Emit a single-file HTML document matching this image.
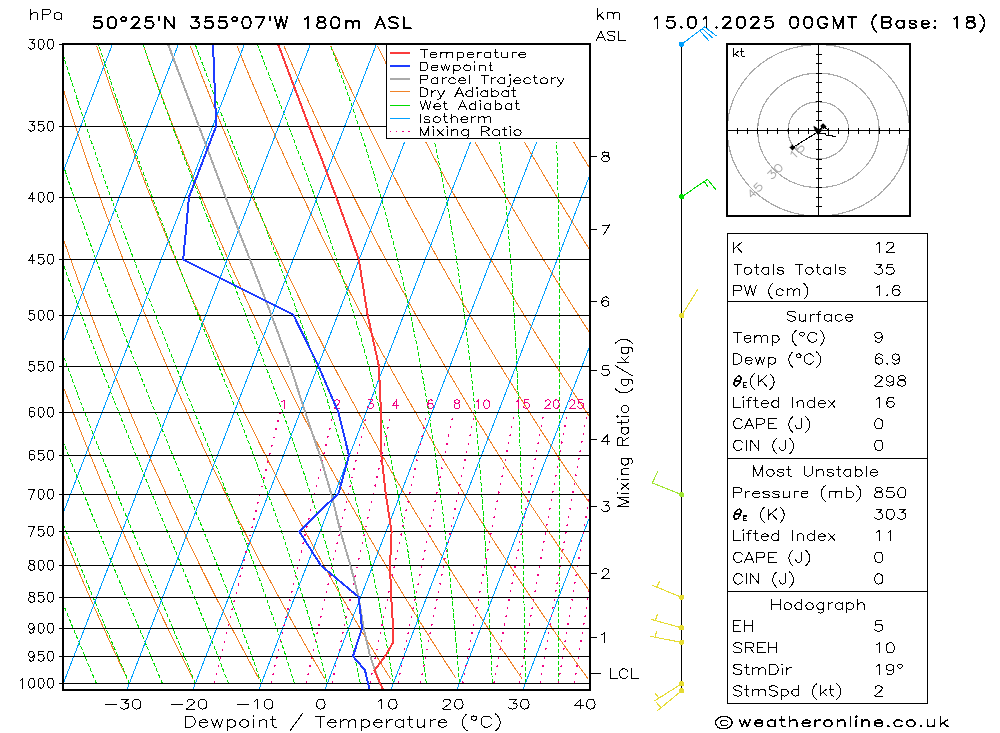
<!DOCTYPE html>
<html><head><meta charset="utf-8"><title>Skew-T</title><style>html,body{margin:0;padding:0;background:#fff;font-family:"Liberation Sans",sans-serif}svg{display:block}</style></head><body>
<svg width="1000" height="733" viewBox="0 0 1000 733" fill="none" stroke-linecap="round" stroke-linejoin="round" shape-rendering="crispEdges">
<rect width="1000" height="733" fill="#fff"/>
<defs><clipPath id="cp"><rect x="64.0" y="44.5" width="525.0" height="645.0"/></clipPath></defs>
<g clip-path="url(#cp)" stroke-linecap="butt">
<path d="M127.1 678.6L124.5 673.2L121.9 667.8L119.4 662.3L116.8 656.7L114.2 651.1L111.5 645.4L108.9 639.7L106.3 633.9L103.6 628.0L100.9 622.1L98.3 616.1L95.5 610.1L92.8 603.9L90.1 597.7L87.4 591.5L84.6 585.1L81.8 578.7L79.0 572.2L76.2 565.6L73.4 558.9L70.6 552.1L67.7 545.3L64.8 538.4L61.9 531.3L59.0 524.2L56.1 517.0L53.2 509.7L50.2 502.3L47.2 494.8L44.2 487.1L41.2 479.4L38.2 471.5L35.1 463.6L32.1 455.5L29.0 447.3L25.8 438.9L22.7 430.4L19.6 421.8L16.4 413.0L13.2 404.1L10.0 395.1L6.7 385.8L3.5 376.5L0.2 366.9L-3.1 357.2L-6.5 347.3L-9.8 337.2L-13.2 326.9L-16.6 316.4L-20.1 305.7L-23.5 294.8L-27.0 283.6L-30.5 272.2L-34.1 260.6L-37.6 248.7L-41.2 236.5L-44.8 224.0L-48.5 211.3L-52.2 198.2L-55.9 184.8L-59.6 171.0L-63.4 156.9L-67.2 142.4L-71.0 127.5L-74.9 112.1L-78.8 96.3L-82.7 80.0L-86.7 63.2L-90.6 45.9M192.9 678.6L190.2 673.2L187.4 667.8L184.6 662.3L181.8 656.7L179.0 651.1L176.2 645.4L173.4 639.7L170.5 633.9L167.7 628.0L164.8 622.1L161.9 616.1L159.0 610.1L156.1 603.9L153.1 597.7L150.2 591.5L147.2 585.1L144.2 578.7L141.2 572.2L138.2 565.6L135.1 558.9L132.1 552.1L129.0 545.3L125.9 538.4L122.7 531.3L119.6 524.2L116.4 517.0L113.3 509.7L110.1 502.3L106.9 494.8L103.6 487.1L100.3 479.4L97.1 471.5L93.8 463.6L90.4 455.5L87.1 447.3L83.7 438.9L80.3 430.4L76.9 421.8L73.4 413.0L70.0 404.1L66.5 395.1L62.9 385.8L59.4 376.5L55.8 366.9L52.2 357.2L48.6 347.3L44.9 337.2L41.2 326.9L37.5 316.4L33.8 305.7L30.0 294.8L26.2 283.6L22.4 272.2L18.5 260.6L14.6 248.7L10.7 236.5L6.7 224.0L2.7 211.3L-1.4 198.2L-5.4 184.8L-9.5 171.0L-13.7 156.9L-17.9 142.4L-22.1 127.5L-26.4 112.1L-30.7 96.3L-35.0 80.0L-39.4 63.2L-43.8 45.9M258.7 678.6L255.8 673.2L252.8 667.8L249.9 662.3L246.9 656.7L243.9 651.1L240.9 645.4L237.8 639.7L234.8 633.9L231.7 628.0L228.7 622.1L225.6 616.1L222.4 610.1L219.3 603.9L216.1 597.7L213.0 591.5L209.8 585.1L206.6 578.7L203.3 572.2L200.1 565.6L196.8 558.9L193.5 552.1L190.2 545.3L186.9 538.4L183.6 531.3L180.2 524.2L176.8 517.0L173.4 509.7L169.9 502.3L166.5 494.8L163.0 487.1L159.5 479.4L155.9 471.5L152.4 463.6L148.8 455.5L145.2 447.3L141.6 438.9L137.9 430.4L134.2 421.8L130.5 413.0L126.8 404.1L123.0 395.1L119.2 385.8L115.3 376.5L111.5 366.9L107.6 357.2L103.7 347.3L99.7 337.2L95.7 326.9L91.7 316.4L87.6 305.7L83.5 294.8L79.4 283.6L75.3 272.2L71.1 260.6L66.8 248.7L62.5 236.5L58.2 224.0L53.9 211.3L49.5 198.2L45.0 184.8L40.5 171.0L36.0 156.9L31.4 142.4L26.8 127.5L22.1 112.1L17.4 96.3L12.7 80.0L7.9 63.2L3.0 45.9M324.6 678.6L321.4 673.2L318.3 667.8L315.1 662.3L311.9 656.7L308.8 651.1L305.5 645.4L302.3 639.7L299.1 633.9L295.8 628.0L292.5 622.1L289.2 616.1L285.9 610.1L282.5 603.9L279.2 597.7L275.8 591.5L272.4 585.1L269.0 578.7L265.5 572.2L262.0 565.6L258.6 558.9L255.0 552.1L251.5 545.3L247.9 538.4L244.4 531.3L240.8 524.2L237.1 517.0L233.5 509.7L229.8 502.3L226.1 494.8L222.4 487.1L218.6 479.4L214.8 471.5L211.0 463.6L207.2 455.5L203.3 447.3L199.4 438.9L195.5 430.4L191.5 421.8L187.6 413.0L183.5 404.1L179.5 395.1L175.4 385.8L171.3 376.5L167.1 366.9L163.0 357.2L158.7 347.3L154.5 337.2L150.2 326.9L145.9 316.4L141.5 305.7L137.1 294.8L132.6 283.6L128.1 272.2L123.6 260.6L119.0 248.7L114.4 236.5L109.8 224.0L105.0 211.3L100.3 198.2L95.5 184.8L90.6 171.0L85.7 156.9L80.7 142.4L75.7 127.5L70.7 112.1L65.5 96.3L60.4 80.0L55.1 63.2L49.8 45.9M390.4 678.6L387.1 673.2L383.7 667.8L380.4 662.3L377.0 656.7L373.6 651.1L370.2 645.4L366.8 639.7L363.3 633.9L359.9 628.0L356.4 622.1L352.9 616.1L349.3 610.1L345.8 603.9L342.2 597.7L338.6 591.5L335.0 585.1L331.3 578.7L327.7 572.2L324.0 565.6L320.3 558.9L316.5 552.1L312.8 545.3L309.0 538.4L305.2 531.3L301.3 524.2L297.5 517.0L293.6 509.7L289.7 502.3L285.7 494.8L281.7 487.1L277.7 479.4L273.7 471.5L269.6 463.6L265.6 455.5L261.4 447.3L257.3 438.9L253.1 430.4L248.9 421.8L244.6 413.0L240.3 404.1L236.0 395.1L231.6 385.8L227.2 376.5L222.8 366.9L218.3 357.2L213.8 347.3L209.3 337.2L204.7 326.9L200.0 316.4L195.3 305.7L190.6 294.8L185.8 283.6L181.0 272.2L176.2 260.6L171.3 248.7L166.3 236.5L161.3 224.0L156.2 211.3L151.1 198.2L145.9 184.8L140.7 171.0L135.4 156.9L130.1 142.4L124.7 127.5L119.2 112.1L113.6 96.3L108.0 80.0L102.4 63.2L96.6 45.9M456.2 678.6L452.7 673.2L449.2 667.8L445.6 662.3L442.1 656.7L438.5 651.1L434.9 645.4L431.2 639.7L427.6 633.9L423.9 628.0L420.2 622.1L416.5 616.1L412.8 610.1L409.0 603.9L405.2 597.7L401.4 591.5L397.6 585.1L393.7 578.7L389.8 572.2L385.9 565.6L382.0 558.9L378.0 552.1L374.0 545.3L370.0 538.4L366.0 531.3L361.9 524.2L357.8 517.0L353.7 509.7L349.5 502.3L345.3 494.8L341.1 487.1L336.9 479.4L332.6 471.5L328.3 463.6L323.9 455.5L319.5 447.3L315.1 438.9L310.7 430.4L306.2 421.8L301.7 413.0L297.1 404.1L292.5 395.1L287.9 385.8L283.2 376.5L278.5 366.9L273.7 357.2L268.9 347.3L264.0 337.2L259.1 326.9L254.2 316.4L249.2 305.7L244.2 294.8L239.1 283.6L233.9 272.2L228.7 260.6L223.5 248.7L218.2 236.5L212.8 224.0L207.4 211.3L201.9 198.2L196.4 184.8L190.8 171.0L185.1 156.9L179.4 142.4L173.6 127.5L167.7 112.1L161.8 96.3L155.7 80.0L149.6 63.2L143.5 45.9M522.0 678.6L518.3 673.2L514.6 667.8L510.9 662.3L507.1 656.7L503.3 651.1L499.5 645.4L495.7 639.7L491.9 633.9L488.0 628.0L484.1 622.1L480.2 616.1L476.2 610.1L472.2 603.9L468.2 597.7L464.2 591.5L460.2 585.1L456.1 578.7L452.0 572.2L447.9 565.6L443.7 558.9L439.5 552.1L435.3 545.3L431.1 538.4L426.8 531.3L422.5 524.2L418.2 517.0L413.8 509.7L409.4 502.3L405.0 494.8L400.5 487.1L396.0 479.4L391.5 471.5L386.9 463.6L382.3 455.5L377.7 447.3L373.0 438.9L368.3 430.4L363.5 421.8L358.7 413.0L353.9 404.1L349.0 395.1L344.1 385.8L339.1 376.5L334.1 366.9L329.1 357.2L323.9 347.3L318.8 337.2L313.6 326.9L308.3 316.4L303.0 305.7L297.7 294.8L292.3 283.6L286.8 272.2L281.3 260.6L275.7 248.7L270.1 236.5L264.4 224.0L258.6 211.3L252.7 198.2L246.8 184.8L240.9 171.0L234.8 156.9L228.7 142.4L222.5 127.5L216.2 112.1L209.9 96.3L203.4 80.0L196.9 63.2L190.3 45.9M587.9 678.6L584.0 673.2L580.1 667.8L576.1 662.3L572.2 656.7L568.2 651.1L564.2 645.4L560.2 639.7L556.1 633.9L552.0 628.0L547.9 622.1L543.8 616.1L539.7 610.1L535.5 603.9L531.3 597.7L527.0 591.5L522.8 585.1L518.5 578.7L514.2 572.2L509.8 565.6L505.4 558.9L501.0 552.1L496.6 545.3L492.1 538.4L487.6 531.3L483.1 524.2L478.5 517.0L473.9 509.7L469.3 502.3L464.6 494.8L459.9 487.1L455.1 479.4L450.4 471.5L445.5 463.6L440.7 455.5L435.8 447.3L430.8 438.9L425.9 430.4L420.8 421.8L415.8 413.0L410.7 404.1L405.5 395.1L400.3 385.8L395.1 376.5L389.8 366.9L384.4 357.2L379.0 347.3L373.6 337.2L368.1 326.9L362.5 316.4L356.9 305.7L351.2 294.8L345.5 283.6L339.7 272.2L333.8 260.6L327.9 248.7L321.9 236.5L315.9 224.0L309.8 211.3L303.6 198.2L297.3 184.8L290.9 171.0L284.5 156.9L278.0 142.4L271.4 127.5L264.7 112.1L258.0 96.3L251.1 80.0L244.1 63.2L237.1 45.9M653.7 678.6L649.6 673.2L645.5 667.8L641.4 662.3L637.2 656.7L633.1 651.1L628.9 645.4L624.6 639.7L620.4 633.9L616.1 628.0L611.8 622.1L607.5 616.1L603.1 610.1L598.7 603.9L594.3 597.7L589.8 591.5L585.4 585.1L580.9 578.7L576.3 572.2L571.8 565.6L567.2 558.9L562.5 552.1L557.9 545.3L553.2 538.4L548.4 531.3L543.7 524.2L538.8 517.0L534.0 509.7L529.1 502.3L524.2 494.8L519.3 487.1L514.3 479.4L509.2 471.5L504.2 463.6L499.1 455.5L493.9 447.3L488.7 438.9L483.5 430.4L478.2 421.8L472.8 413.0L467.4 404.1L462.0 395.1L456.5 385.8L451.0 376.5L445.4 366.9L439.8 357.2L434.1 347.3L428.3 337.2L422.5 326.9L416.7 316.4L410.7 305.7L404.8 294.8L398.7 283.6L392.6 272.2L386.4 260.6L380.1 248.7L373.8 236.5L367.4 224.0L360.9 211.3L354.4 198.2L347.8 184.8L341.0 171.0L334.2 156.9L327.3 142.4L320.3 127.5L313.3 112.1L306.1 96.3L298.8 80.0L291.4 63.2L283.9 45.9M719.5 678.6L715.3 673.2L711.0 667.8L706.6 662.3L702.3 656.7L697.9 651.1L693.5 645.4L689.1 639.7L684.6 633.9L680.2 628.0L675.7 622.1L671.1 616.1L666.5 610.1L661.9 603.9L657.3 597.7L652.7 591.5L648.0 585.1L643.2 578.7L638.5 572.2L633.7 565.6L628.9 558.9L624.0 552.1L619.1 545.3L614.2 538.4L609.2 531.3L604.2 524.2L599.2 517.0L594.1 509.7L589.0 502.3L583.8 494.8L578.6 487.1L573.4 479.4L568.1 471.5L562.8 463.6L557.4 455.5L552.0 447.3L546.6 438.9L541.0 430.4L535.5 421.8L529.9 413.0L524.2 404.1L518.5 395.1L512.8 385.8L506.9 376.5L501.1 366.9L495.1 357.2L489.2 347.3L483.1 337.2L477.0 326.9L470.8 316.4L464.6 305.7L458.3 294.8L451.9 283.6L445.5 272.2L439.0 260.6L432.4 248.7L425.7 236.5L419.0 224.0L412.1 211.3L405.2 198.2L398.2 184.8L391.1 171.0L383.9 156.9L376.6 142.4L369.3 127.5L361.8 112.1L354.2 96.3L346.5 80.0L338.7 63.2L330.7 45.9M785.4 678.6L780.9 673.2L776.4 667.8L771.9 662.3L767.4 656.7L762.8 651.1L758.2 645.4L753.6 639.7L748.9 633.9L744.2 628.0L739.5 622.1L734.8 616.1L730.0 610.1L725.2 603.9L720.3 597.7L715.5 591.5L710.6 585.1L705.6 578.7L700.6 572.2L695.6 565.6L690.6 558.9L685.5 552.1L680.4 545.3L675.2 538.4L670.0 531.3L664.8 524.2L659.5 517.0L654.2 509.7L648.9 502.3L643.5 494.8L638.0 487.1L632.5 479.4L627.0 471.5L621.4 463.6L615.8 455.5L610.1 447.3L604.4 438.9L598.6 430.4L592.8 421.8L586.9 413.0L581.0 404.1L575.0 395.1L569.0 385.8L562.9 376.5L556.7 366.9L550.5 357.2L544.2 347.3L537.9 337.2L531.5 326.9L525.0 316.4L518.4 305.7L511.8 294.8L505.1 283.6L498.4 272.2L491.5 260.6L484.6 248.7L477.6 236.5L470.5 224.0L463.3 211.3L456.0 198.2L448.7 184.8L441.2 171.0L433.6 156.9L426.0 142.4L418.2 127.5L410.3 112.1L402.3 96.3L394.2 80.0L385.9 63.2L377.5 45.9M851.2 678.6L846.5 673.2L841.9 667.8L837.2 662.3L832.4 656.7L827.7 651.1L822.9 645.4L818.0 639.7L813.2 633.9L808.3 628.0L803.4 622.1L798.4 616.1L793.4 610.1L788.4 603.9L783.4 597.7L778.3 591.5L773.2 585.1L768.0 578.7L762.8 572.2L757.6 565.6L752.3 558.9L747.0 552.1L741.7 545.3L736.3 538.4L730.9 531.3L725.4 524.2L719.9 517.0L714.3 509.7L708.7 502.3L703.1 494.8L697.4 487.1L691.7 479.4L685.9 471.5L680.1 463.6L674.2 455.5L668.3 447.3L662.3 438.9L656.2 430.4L650.1 421.8L644.0 413.0L637.8 404.1L631.5 395.1L625.2 385.8L618.8 376.5L612.4 366.9L605.9 357.2L599.3 347.3L592.7 337.2L585.9 326.9L579.2 316.4L572.3 305.7L565.4 294.8L558.3 283.6L551.3 272.2L544.1 260.6L536.8 248.7L529.5 236.5L522.0 224.0L514.5 211.3L506.9 198.2L499.1 184.8L491.3 171.0L483.3 156.9L475.3 142.4L467.1 127.5L458.8 112.1L450.4 96.3L441.9 80.0L433.2 63.2L424.4 45.9M917.0 678.6L912.2 673.2L907.3 667.8L902.4 662.3L897.5 656.7L892.5 651.1L887.5 645.4L882.5 639.7L877.4 633.9L872.3 628.0L867.2 622.1L862.1 616.1L856.9 610.1L851.6 603.9L846.4 597.7L841.1 591.5L835.8 585.1L830.4 578.7L825.0 572.2L819.5 565.6L814.0 558.9L808.5 552.1L802.9 545.3L797.3 538.4L791.7 531.3L786.0 524.2L780.2 517.0L774.4 509.7L768.6 502.3L762.7 494.8L756.8 487.1L750.8 479.4L744.8 471.5L738.7 463.6L732.6 455.5L726.4 447.3L720.1 438.9L713.8 430.4L707.5 421.8L701.1 413.0L694.6 404.1L688.0 395.1L681.4 385.8L674.8 376.5L668.0 366.9L661.2 357.2L654.4 347.3L647.4 337.2L640.4 326.9L633.3 316.4L626.1 305.7L618.9 294.8L611.6 283.6L604.1 272.2L596.6 260.6L589.0 248.7L581.3 236.5L573.6 224.0L565.7 211.3L557.7 198.2L549.6 184.8L541.4 171.0L533.0 156.9L524.6 142.4L516.0 127.5L507.3 112.1L498.5 96.3L489.5 80.0L480.4 63.2L471.2 45.9M982.9 678.6L977.8 673.2L972.8 667.8L967.7 662.3L962.5 656.7L957.4 651.1L952.2 645.4L947.0 639.7L941.7 633.9L936.4 628.0L931.1 622.1L925.7 616.1L920.3 610.1L914.9 603.9L909.4 597.7L903.9 591.5L898.3 585.1L892.8 578.7L887.1 572.2L881.5 565.6L875.7 558.9L870.0 552.1L864.2 545.3L858.4 538.4L852.5 531.3L846.5 524.2L840.6 517.0L834.5 509.7L828.5 502.3L822.3 494.8L816.2 487.1L809.9 479.4L803.7 471.5L797.3 463.6L790.9 455.5L784.5 447.3L778.0 438.9L771.4 430.4L764.8 421.8L758.1 413.0L751.4 404.1L744.5 395.1L737.7 385.8L730.7 376.5L723.7 366.9L716.6 357.2L709.4 347.3L702.2 337.2L694.9 326.9L687.5 316.4L680.0 305.7L672.4 294.8L664.8 283.6L657.0 272.2L649.2 260.6L641.3 248.7L633.2 236.5L625.1 224.0L616.8 211.3L608.5 198.2L600.0 184.8L591.4 171.0L582.7 156.9L573.9 142.4L565.0 127.5L555.9 112.1L546.6 96.3L537.2 80.0L527.7 63.2L518.0 45.9M1048.7 678.6L1043.5 673.2L1038.2 667.8L1032.9 662.3L1027.6 656.7L1022.2 651.1L1016.8 645.4L1011.4 639.7L1006.0 633.9L1000.5 628.0L994.9 622.1L989.4 616.1L983.8 610.1L978.1 603.9L972.4 597.7L966.7 591.5L960.9 585.1L955.1 578.7L949.3 572.2L943.4 565.6L937.5 558.9L931.5 552.1L925.5 545.3L919.4 538.4L913.3 531.3L907.1 524.2L900.9 517.0L894.6 509.7L888.3 502.3L882.0 494.8L875.5 487.1L869.1 479.4L862.5 471.5L856.0 463.6L849.3 455.5L842.6 447.3L835.8 438.9L829.0 430.4L822.1 421.8L815.2 413.0L808.1 404.1L801.1 395.1L793.9 385.8L786.7 376.5L779.4 366.9L772.0 357.2L764.5 347.3L757.0 337.2L749.4 326.9L741.6 316.4L733.8 305.7L726.0 294.8L718.0 283.6L709.9 272.2L701.7 260.6L693.5 248.7L685.1 236.5L676.6 224.0L668.0 211.3L659.3 198.2L650.5 184.8L641.5 171.0L632.4 156.9L623.2 142.4L613.9 127.5L604.4 112.1L594.7 96.3L584.9 80.0L575.0 63.2L564.8 45.9M1114.5 678.6L1109.1 673.2L1103.6 667.8L1098.2 662.3L1092.7 656.7L1087.1 651.1L1081.5 645.4L1075.9 639.7L1070.2 633.9L1064.5 628.0L1058.8 622.1L1053.0 616.1L1047.2 610.1L1041.4 603.9L1035.5 597.7L1029.5 591.5L1023.5 585.1L1017.5 578.7L1011.5 572.2L1005.3 565.6L999.2 558.9L993.0 552.1L986.7 545.3L980.4 538.4L974.1 531.3L967.7 524.2L961.2 517.0L954.7 509.7L948.2 502.3L941.6 494.8L934.9 487.1L928.2 479.4L921.4 471.5L914.6 463.6L907.7 455.5L900.7 447.3L893.7 438.9L886.6 430.4L879.4 421.8L872.2 413.0L864.9 404.1L857.6 395.1L850.1 385.8L842.6 376.5L835.0 366.9L827.3 357.2L819.6 347.3L811.7 337.2L803.8 326.9L795.8 316.4L787.7 305.7L779.5 294.8L771.2 283.6L762.8 272.2L754.3 260.6L745.7 248.7L737.0 236.5L728.2 224.0L719.2 211.3L710.1 198.2L700.9 184.8L691.6 171.0L682.1 156.9L672.5 142.4L662.8 127.5L652.9 112.1L642.8 96.3L632.6 80.0L622.2 63.2L611.6 45.9M1180.3 678.6L1174.7 673.2L1169.1 667.8L1163.4 662.3L1157.7 656.7L1152.0 651.1L1146.2 645.4L1140.4 639.7L1134.5 633.9L1128.6 628.0L1122.7 622.1L1116.7 616.1L1110.6 610.1L1104.6 603.9L1098.5 597.7L1092.3 591.5L1086.1 585.1L1079.9 578.7L1073.6 572.2L1067.3 565.6L1060.9 558.9L1054.5 552.1L1048.0 545.3L1041.5 538.4L1034.9 531.3L1028.3 524.2L1021.6 517.0L1014.9 509.7L1008.1 502.3L1001.2 494.8L994.3 487.1L987.3 479.4L980.3 471.5L973.2 463.6L966.1 455.5L958.8 447.3L951.6 438.9L944.2 430.4L936.8 421.8L929.3 413.0L921.7 404.1L914.1 395.1L906.3 385.8L898.5 376.5L890.7 366.9L882.7 357.2L874.7 347.3L866.5 337.2L858.3 326.9L850.0 316.4L841.6 305.7L833.0 294.8L824.4 283.6L815.7 272.2L806.9 260.6L797.9 248.7L788.9 236.5L779.7 224.0L770.4 211.3L761.0 198.2L751.4 184.8L741.7 171.0L731.9 156.9L721.9 142.4L711.7 127.5L701.4 112.1L690.9 96.3L680.3 80.0L669.5 63.2L658.5 45.9M1246.2 678.6L1240.4 673.2L1234.5 667.8L1228.7 662.3L1222.8 656.7L1216.8 651.1L1210.8 645.4L1204.8 639.7L1198.8 633.9L1192.7 628.0L1186.5 622.1L1180.3 616.1L1174.1 610.1L1167.8 603.9L1161.5 597.7L1155.1 591.5L1148.7 585.1L1142.3 578.7L1135.8 572.2L1129.2 565.6L1122.6 558.9L1116.0 552.1L1109.3 545.3L1102.5 538.4L1095.7 531.3L1088.8 524.2L1081.9 517.0L1075.0 509.7L1067.9 502.3L1060.8 494.8L1053.7 487.1L1046.5 479.4L1039.2 471.5L1031.8 463.6L1024.4 455.5L1017.0 447.3L1009.4 438.9L1001.8 430.4L994.1 421.8L986.3 413.0L978.5 404.1L970.6 395.1L962.6 385.8L954.5 376.5L946.3 366.9L938.1 357.2L929.7 347.3L921.3 337.2L912.8 326.9L904.1 316.4L895.4 305.7L886.6 294.8L877.6 283.6L868.6 272.2L859.4 260.6L850.1 248.7L840.7 236.5L831.2 224.0L821.6 211.3L811.8 198.2L801.8 184.8L791.8 171.0L781.6 156.9L771.2 142.4L760.6 127.5L749.9 112.1L739.0 96.3L728.0 80.0L716.7 63.2L705.3 45.9M1312.0 678.6L1306.0 673.2L1300.0 667.8L1293.9 662.3L1287.8 656.7L1281.7 651.1L1275.5 645.4L1269.3 639.7L1263.0 633.9L1256.7 628.0L1250.4 622.1L1244.0 616.1L1237.5 610.1L1231.1 603.9L1224.5 597.7L1218.0 591.5L1211.3 585.1L1204.7 578.7L1197.9 572.2L1191.2 565.6L1184.3 558.9L1177.5 552.1L1170.5 545.3L1163.6 538.4L1156.5 531.3L1149.4 524.2L1142.3 517.0L1135.1 509.7L1127.8 502.3L1120.5 494.8L1113.1 487.1L1105.6 479.4L1098.1 471.5L1090.5 463.6L1082.8 455.5L1075.1 447.3L1067.3 438.9L1059.4 430.4L1051.4 421.8L1043.4 413.0L1035.3 404.1L1027.1 395.1L1018.8 385.8L1010.4 376.5L1002.0 366.9L993.4 357.2L984.8 347.3L976.1 337.2L967.2 326.9L958.3 316.4L949.3 305.7L940.1 294.8L930.8 283.6L921.5 272.2L912.0 260.6L902.4 248.7L892.6 236.5L882.8 224.0L872.7 211.3L862.6 198.2L852.3 184.8L841.9 171.0L831.3 156.9L820.5 142.4L809.6 127.5L798.5 112.1L787.2 96.3L775.7 80.0L764.0 63.2L752.1 45.9" stroke="rgb(240,130,40)" stroke-width="1"/>
<path d="M96.4 683.4L95.2 680.7L94.1 678.1L93.0 675.4L91.8 672.7L90.7 670.0L89.5 667.2L88.3 664.5L87.2 661.7L86.0 659.0L84.8 656.2L83.7 653.4L82.5 650.5L81.3 647.7L80.1 644.9L78.9 642.0L77.7 639.1L76.5 636.2L75.3 633.3L74.1 630.4L72.9 627.5L71.6 624.5L70.4 621.5L69.2 618.5L67.9 615.5L66.7 612.5L65.4 609.5L64.2 606.4L62.9 603.3L61.7 600.2L60.4 597.1L59.1 594.0L57.8 590.8L56.6 587.6L55.3 584.5L54.0 581.3L52.7 578.0L51.4 574.8L50.1 571.5L48.8 568.2L47.4 564.9L46.1 561.6L44.8 558.2L43.5 554.9L42.1 551.5L40.8 548.1L39.4 544.6L38.1 541.2L36.7 537.7L35.4 534.2L34.0 530.6L32.6 527.1L31.3 523.5L29.9 519.9L28.5 516.3L27.1 512.6L25.7 509.0L24.3 505.3L22.9 501.5L21.5 497.8L20.1 494.0L18.7 490.2L17.2 486.4L15.8 482.5L14.4 478.6L12.9 474.7L11.5 470.7L10.0 466.8L8.6 462.8L7.1 458.7L5.7 454.7L4.2 450.6L2.7 446.4L1.2 442.3L-0.2 438.1L-1.7 433.8L-3.2 429.6L-4.7 425.3L-6.2 420.9L-7.8 416.6L-9.3 412.2L-10.8 407.7L-12.3 403.2L-13.9 398.7L-15.4 394.1L-17.0 389.6L-18.5 384.9L-20.1 380.2L-21.6 375.5L-23.2 370.8L-24.8 365.9L-26.3 361.1L-27.9 356.2L-29.5 351.3L-31.1 346.3L-32.7 341.2L-34.3 336.2L-35.9 331.0L-37.6 325.9L-39.2 320.6L-40.8 315.3L-42.5 310.0L-44.1 304.6L-45.8 299.2L-47.4 293.7L-49.1 288.1L-50.8 282.5L-52.4 276.8L-54.1 271.1L-55.8 265.3L-57.5 259.4L-59.2 253.5L-60.9 247.5L-62.6 241.4L-64.3 235.3L-66.1 229.0L-67.8 222.8L-69.5 216.4L-71.3 210.0L-73.0 203.4L-74.8 196.8L-76.6 190.2L-78.3 183.4L-80.1 176.6L-81.9 169.6L-83.7 162.6L-85.5 155.5L-87.3 148.2L-89.1 140.9L-90.9 133.5L-92.7 125.9L-94.6 118.3L-96.4 110.6L-98.3 102.7L-100.1 94.7L-102.0 86.6L-103.8 78.4L-105.7 70.0L-107.6 61.5L-109.5 52.9L-111.4 44.1L-113.3 35.2L-115.2 26.1M129.4 683.4L128.2 680.7L127.1 678.1L126.0 675.4L124.8 672.7L123.7 670.0L122.5 667.2L121.3 664.5L120.2 661.7L119.0 659.0L117.8 656.2L116.6 653.4L115.4 650.5L114.2 647.7L113.0 644.9L111.8 642.0L110.6 639.1L109.4 636.2L108.2 633.3L106.9 630.4L105.7 627.5L104.4 624.5L103.2 621.5L101.9 618.5L100.7 615.5L99.4 612.5L98.1 609.5L96.9 606.4L95.6 603.3L94.3 600.2L93.0 597.1L91.7 594.0L90.4 590.8L89.1 587.6L87.8 584.5L86.4 581.3L85.1 578.0L83.8 574.8L82.4 571.5L81.1 568.2L79.8 564.9L78.4 561.6L77.0 558.2L75.7 554.9L74.3 551.5L72.9 548.1L71.5 544.6L70.1 541.2L68.7 537.7L67.3 534.2L65.9 530.6L64.5 527.1L63.1 523.5L61.7 519.9L60.2 516.3L58.8 512.6L57.4 509.0L55.9 505.3L54.5 501.5L53.0 497.8L51.5 494.0L50.1 490.2L48.6 486.4L47.1 482.5L45.6 478.6L44.1 474.7L42.6 470.7L41.1 466.8L39.6 462.8L38.1 458.7L36.6 454.7L35.0 450.6L33.5 446.4L32.0 442.3L30.4 438.1L28.9 433.8L27.3 429.6L25.7 425.3L24.2 420.9L22.6 416.6L21.0 412.2L19.4 407.7L17.8 403.2L16.2 398.7L14.6 394.1L13.0 389.6L11.4 384.9L9.7 380.2L8.1 375.5L6.5 370.8L4.8 365.9L3.2 361.1L1.5 356.2L-0.2 351.3L-1.8 346.3L-3.5 341.2L-5.2 336.2L-6.9 331.0L-8.6 325.9L-10.3 320.6L-12.0 315.3L-13.7 310.0L-15.5 304.6L-17.2 299.2L-18.9 293.7L-20.7 288.1L-22.4 282.5L-24.2 276.8L-26.0 271.1L-27.7 265.3L-29.5 259.4L-31.3 253.5L-33.1 247.5L-34.9 241.4L-36.7 235.3L-38.5 229.0L-40.4 222.8L-42.2 216.4L-44.0 210.0L-45.9 203.4L-47.7 196.8L-49.6 190.2L-51.5 183.4L-53.3 176.6L-55.2 169.6L-57.1 162.6L-59.0 155.5L-60.9 148.2L-62.8 140.9L-64.8 133.5L-66.7 125.9L-68.6 118.3L-70.6 110.6L-72.5 102.7L-74.5 94.7L-76.5 86.6L-78.4 78.4L-80.4 70.0L-82.4 61.5L-84.4 52.9L-86.4 44.1L-88.5 35.2L-90.5 26.1M162.4 683.4L161.2 680.7L160.1 678.1L159.0 675.4L157.9 672.7L156.7 670.0L155.6 667.2L154.4 664.5L153.3 661.7L152.1 659.0L150.9 656.2L149.8 653.4L148.6 650.5L147.4 647.7L146.2 644.9L145.0 642.0L143.8 639.1L142.6 636.2L141.3 633.3L140.1 630.4L138.9 627.5L137.6 624.5L136.4 621.5L135.1 618.5L133.8 615.5L132.6 612.5L131.3 609.5L130.0 606.4L128.7 603.3L127.4 600.2L126.1 597.1L124.8 594.0L123.5 590.8L122.2 587.6L120.8 584.5L119.5 581.3L118.1 578.0L116.8 574.8L115.4 571.5L114.1 568.2L112.7 564.9L111.3 561.6L109.9 558.2L108.5 554.9L107.1 551.5L105.7 548.1L104.3 544.6L102.9 541.2L101.5 537.7L100.0 534.2L98.6 530.6L97.1 527.1L95.7 523.5L94.2 519.9L92.7 516.3L91.3 512.6L89.8 509.0L88.3 505.3L86.8 501.5L85.3 497.8L83.8 494.0L82.3 490.2L80.8 486.4L79.2 482.5L77.7 478.6L76.1 474.7L74.6 470.7L73.0 466.8L71.5 462.8L69.9 458.7L68.3 454.7L66.7 450.6L65.1 446.4L63.5 442.3L61.9 438.1L60.3 433.8L58.7 429.6L57.1 425.3L55.5 420.9L53.8 416.6L52.2 412.2L50.5 407.7L48.9 403.2L47.2 398.7L45.5 394.1L43.8 389.6L42.1 384.9L40.4 380.2L38.7 375.5L37.0 370.8L35.3 365.9L33.6 361.1L31.8 356.2L30.1 351.3L28.4 346.3L26.6 341.2L24.8 336.2L23.1 331.0L21.3 325.9L19.5 320.6L17.7 315.3L15.9 310.0L14.1 304.6L12.3 299.2L10.5 293.7L8.6 288.1L6.8 282.5L5.0 276.8L3.1 271.1L1.2 265.3L-0.6 259.4L-2.5 253.5L-4.4 247.5L-6.3 241.4L-8.2 235.3L-10.1 229.0L-12.0 222.8L-14.0 216.4L-15.9 210.0L-17.8 203.4L-19.8 196.8L-21.7 190.2L-23.7 183.4L-25.7 176.6L-27.7 169.6L-29.7 162.6L-31.7 155.5L-33.7 148.2L-35.7 140.9L-37.7 133.5L-39.8 125.9L-41.8 118.3L-43.9 110.6L-46.0 102.7L-48.0 94.7L-50.1 86.6L-52.2 78.4L-54.3 70.0L-56.4 61.5L-58.6 52.9L-60.7 44.1L-62.8 35.2L-65.0 26.1M195.4 683.4L194.3 680.7L193.2 678.1L192.1 675.4L191.0 672.7L189.9 670.0L188.8 667.2L187.7 664.5L186.6 661.7L185.4 659.0L184.3 656.2L183.2 653.4L182.0 650.5L180.8 647.7L179.7 644.9L178.5 642.0L177.3 639.1L176.1 636.2L174.9 633.3L173.7 630.4L172.5 627.5L171.3 624.5L170.0 621.5L168.8 618.5L167.5 615.5L166.3 612.5L165.0 609.5L163.7 606.4L162.4 603.3L161.2 600.2L159.9 597.1L158.6 594.0L157.2 590.8L155.9 587.6L154.6 584.5L153.3 581.3L151.9 578.0L150.5 574.8L149.2 571.5L147.8 568.2L146.4 564.9L145.1 561.6L143.7 558.2L142.3 554.9L140.8 551.5L139.4 548.1L138.0 544.6L136.6 541.2L135.1 537.7L133.7 534.2L132.2 530.6L130.7 527.1L129.3 523.5L127.8 519.9L126.3 516.3L124.8 512.6L123.3 509.0L121.7 505.3L120.2 501.5L118.7 497.8L117.1 494.0L115.6 490.2L114.0 486.4L112.5 482.5L110.9 478.6L109.3 474.7L107.7 470.7L106.1 466.8L104.5 462.8L102.9 458.7L101.3 454.7L99.6 450.6L98.0 446.4L96.4 442.3L94.7 438.1L93.0 433.8L91.4 429.6L89.7 425.3L88.0 420.9L86.3 416.6L84.6 412.2L82.9 407.7L81.2 403.2L79.4 398.7L77.7 394.1L75.9 389.6L74.2 384.9L72.4 380.2L70.7 375.5L68.9 370.8L67.1 365.9L65.3 361.1L63.5 356.2L61.7 351.3L59.9 346.3L58.0 341.2L56.2 336.2L54.3 331.0L52.5 325.9L50.6 320.6L48.7 315.3L46.9 310.0L45.0 304.6L43.1 299.2L41.2 293.7L39.3 288.1L37.3 282.5L35.4 276.8L33.5 271.1L31.5 265.3L29.5 259.4L27.6 253.5L25.6 247.5L23.6 241.4L21.6 235.3L19.6 229.0L17.6 222.8L15.6 216.4L13.5 210.0L11.5 203.4L9.4 196.8L7.4 190.2L5.3 183.4L3.2 176.6L1.1 169.6L-1.0 162.6L-3.1 155.5L-5.2 148.2L-7.4 140.9L-9.5 133.5L-11.7 125.9L-13.8 118.3L-16.0 110.6L-18.2 102.7L-20.4 94.7L-22.6 86.6L-24.8 78.4L-27.0 70.0L-29.3 61.5L-31.5 52.9L-33.8 44.1L-36.0 35.2L-38.3 26.1M228.4 683.4L227.4 680.7L226.3 678.1L225.3 675.4L224.3 672.7L223.2 670.0L222.2 667.2L221.1 664.5L220.1 661.7L219.0 659.0L217.9 656.2L216.8 653.4L215.7 650.5L214.6 647.7L213.5 644.9L212.4 642.0L211.2 639.1L210.1 636.2L208.9 633.3L207.8 630.4L206.6 627.5L205.4 624.5L204.2 621.5L203.0 618.5L201.8 615.5L200.6 612.5L199.4 609.5L198.1 606.4L196.9 603.3L195.6 600.2L194.4 597.1L193.1 594.0L191.8 590.8L190.5 587.6L189.2 584.5L187.9 581.3L186.6 578.0L185.3 574.8L183.9 571.5L182.6 568.2L181.2 564.9L179.8 561.6L178.5 558.2L177.1 554.9L175.7 551.5L174.3 548.1L172.8 544.6L171.4 541.2L170.0 537.7L168.5 534.2L167.1 530.6L165.6 527.1L164.1 523.5L162.6 519.9L161.1 516.3L159.6 512.6L158.1 509.0L156.6 505.3L155.1 501.5L153.5 497.8L152.0 494.0L150.4 490.2L148.8 486.4L147.2 482.5L145.6 478.6L144.0 474.7L142.4 470.7L140.8 466.8L139.1 462.8L137.5 458.7L135.8 454.7L134.2 450.6L132.5 446.4L130.8 442.3L129.1 438.1L127.4 433.8L125.7 429.6L124.0 425.3L122.2 420.9L120.5 416.6L118.7 412.2L117.0 407.7L115.2 403.2L113.4 398.7L111.6 394.1L109.8 389.6L108.0 384.9L106.2 380.2L104.4 375.5L102.5 370.8L100.7 365.9L98.8 361.1L96.9 356.2L95.1 351.3L93.2 346.3L91.3 341.2L89.3 336.2L87.4 331.0L85.5 325.9L83.6 320.6L81.6 315.3L79.6 310.0L77.7 304.6L75.7 299.2L73.7 293.7L71.7 288.1L69.7 282.5L67.7 276.8L65.6 271.1L63.6 265.3L61.5 259.4L59.5 253.5L57.4 247.5L55.3 241.4L53.2 235.3L51.1 229.0L49.0 222.8L46.9 216.4L44.7 210.0L42.6 203.4L40.4 196.8L38.2 190.2L36.1 183.4L33.9 176.6L31.7 169.6L29.4 162.6L27.2 155.5L25.0 148.2L22.7 140.9L20.5 133.5L18.2 125.9L15.9 118.3L13.6 110.6L11.3 102.7L9.0 94.7L6.7 86.6L4.3 78.4L2.0 70.0L-0.4 61.5L-2.8 52.9L-5.2 44.1L-7.6 35.2L-10.0 26.1M261.4 683.4L260.4 680.7L259.5 678.1L258.6 675.4L257.6 672.7L256.7 670.0L255.7 667.2L254.7 664.5L253.8 661.7L252.8 659.0L251.8 656.2L250.8 653.4L249.7 650.5L248.7 647.7L247.7 644.9L246.6 642.0L245.6 639.1L244.5 636.2L243.4 633.3L242.4 630.4L241.3 627.5L240.2 624.5L239.0 621.5L237.9 618.5L236.8 615.5L235.6 612.5L234.5 609.5L233.3 606.4L232.1 603.3L230.9 600.2L229.8 597.1L228.5 594.0L227.3 590.8L226.1 587.6L224.9 584.5L223.6 581.3L222.3 578.0L221.1 574.8L219.8 571.5L218.5 568.2L217.2 564.9L215.9 561.6L214.5 558.2L213.2 554.9L211.8 551.5L210.5 548.1L209.1 544.6L207.7 541.2L206.3 537.7L204.9 534.2L203.5 530.6L202.0 527.1L200.6 523.5L199.1 519.9L197.6 516.3L196.2 512.6L194.7 509.0L193.2 505.3L191.6 501.5L190.1 497.8L188.6 494.0L187.0 490.2L185.4 486.4L183.9 482.5L182.3 478.6L180.7 474.7L179.1 470.7L177.4 466.8L175.8 462.8L174.1 458.7L172.5 454.7L170.8 450.6L169.1 446.4L167.4 442.3L165.7 438.1L164.0 433.8L162.2 429.6L160.5 425.3L158.7 420.9L157.0 416.6L155.2 412.2L153.4 407.7L151.6 403.2L149.7 398.7L147.9 394.1L146.1 389.6L144.2 384.9L142.3 380.2L140.5 375.5L138.6 370.8L136.7 365.9L134.7 361.1L132.8 356.2L130.9 351.3L128.9 346.3L126.9 341.2L125.0 336.2L123.0 331.0L121.0 325.9L119.0 320.6L116.9 315.3L114.9 310.0L112.8 304.6L110.8 299.2L108.7 293.7L106.6 288.1L104.5 282.5L102.4 276.8L100.3 271.1L98.2 265.3L96.0 259.4L93.9 253.5L91.7 247.5L89.5 241.4L87.3 235.3L85.1 229.0L82.9 222.8L80.7 216.4L78.4 210.0L76.2 203.4L73.9 196.8L71.6 190.2L69.3 183.4L67.0 176.6L64.7 169.6L62.3 162.6L60.0 155.5L57.6 148.2L55.3 140.9L52.9 133.5L50.5 125.9L48.1 118.3L45.6 110.6L43.2 102.7L40.7 94.7L38.3 86.6L35.8 78.4L33.3 70.0L30.8 61.5L28.3 52.9L25.7 44.1L23.2 35.2L20.6 26.1M294.4 683.4L293.5 680.7L292.7 678.1L291.9 675.4L291.1 672.7L290.2 670.0L289.4 667.2L288.5 664.5L287.6 661.7L286.7 659.0L285.9 656.2L285.0 653.4L284.0 650.5L283.1 647.7L282.2 644.9L281.3 642.0L280.3 639.1L279.4 636.2L278.4 633.3L277.4 630.4L276.4 627.5L275.4 624.5L274.4 621.5L273.4 618.5L272.4 615.5L271.3 612.5L270.3 609.5L269.2 606.4L268.2 603.3L267.1 600.2L266.0 597.1L264.9 594.0L263.7 590.8L262.6 587.6L261.5 584.5L260.3 581.3L259.1 578.0L258.0 574.8L256.8 571.5L255.6 568.2L254.4 564.9L253.1 561.6L251.9 558.2L250.6 554.9L249.4 551.5L248.1 548.1L246.8 544.6L245.5 541.2L244.2 537.7L242.8 534.2L241.5 530.6L240.1 527.1L238.7 523.5L237.4 519.9L236.0 516.3L234.5 512.6L233.1 509.0L231.7 505.3L230.2 501.5L228.7 497.8L227.2 494.0L225.7 490.2L224.2 486.4L222.7 482.5L221.2 478.6L219.6 474.7L218.0 470.7L216.4 466.8L214.8 462.8L213.2 458.7L211.6 454.7L209.9 450.6L208.3 446.4L206.6 442.3L204.9 438.1L203.2 433.8L201.5 429.6L199.7 425.3L198.0 420.9L196.2 416.6L194.4 412.2L192.6 407.7L190.8 403.2L189.0 398.7L187.1 394.1L185.3 389.6L183.4 384.9L181.5 380.2L179.6 375.5L177.7 370.8L175.7 365.9L173.8 361.1L171.8 356.2L169.8 351.3L167.8 346.3L165.8 341.2L163.8 336.2L161.8 331.0L159.7 325.9L157.6 320.6L155.6 315.3L153.5 310.0L151.3 304.6L149.2 299.2L147.1 293.7L144.9 288.1L142.7 282.5L140.6 276.8L138.3 271.1L136.1 265.3L133.9 259.4L131.6 253.5L129.4 247.5L127.1 241.4L124.8 235.3L122.5 229.0L120.2 222.8L117.8 216.4L115.5 210.0L113.1 203.4L110.7 196.8L108.3 190.2L105.9 183.4L103.5 176.6L101.1 169.6L98.6 162.6L96.1 155.5L93.7 148.2L91.1 140.9L88.6 133.5L86.1 125.9L83.5 118.3L81.0 110.6L78.4 102.7L75.8 94.7L73.2 86.6L70.6 78.4L67.9 70.0L65.2 61.5L62.6 52.9L59.9 44.1L57.2 35.2L54.4 26.1M327.4 683.4L326.7 680.7L326.0 678.1L325.3 675.4L324.6 672.7L323.8 670.0L323.1 667.2L322.4 664.5L321.6 661.7L320.9 659.0L320.1 656.2L319.3 653.4L318.6 650.5L317.8 647.7L317.0 644.9L316.2 642.0L315.4 639.1L314.5 636.2L313.7 633.3L312.9 630.4L312.0 627.5L311.1 624.5L310.3 621.5L309.4 618.5L308.5 615.5L307.6 612.5L306.7 609.5L305.7 606.4L304.8 603.3L303.9 600.2L302.9 597.1L301.9 594.0L301.0 590.8L300.0 587.6L298.9 584.5L297.9 581.3L296.9 578.0L295.9 574.8L294.8 571.5L293.7 568.2L292.7 564.9L291.6 561.6L290.4 558.2L289.3 554.9L288.2 551.5L287.0 548.1L285.9 544.6L284.7 541.2L283.5 537.7L282.3 534.2L281.1 530.6L279.9 527.1L278.6 523.5L277.3 519.9L276.1 516.3L274.8 512.6L273.5 509.0L272.1 505.3L270.8 501.5L269.4 497.8L268.0 494.0L266.7 490.2L265.2 486.4L263.8 482.5L262.4 478.6L260.9 474.7L259.4 470.7L258.0 466.8L256.4 462.8L254.9 458.7L253.4 454.7L251.8 450.6L250.2 446.4L248.6 442.3L247.0 438.1L245.4 433.8L243.7 429.6L242.0 425.3L240.4 420.9L238.6 416.6L236.9 412.2L235.2 407.7L233.4 403.2L231.6 398.7L229.8 394.1L228.0 389.6L226.1 384.9L224.3 380.2L222.4 375.5L220.5 370.8L218.6 365.9L216.7 361.1L214.7 356.2L212.7 351.3L210.7 346.3L208.7 341.2L206.7 336.2L204.6 331.0L202.5 325.9L200.5 320.6L198.3 315.3L196.2 310.0L194.1 304.6L191.9 299.2L189.7 293.7L187.5 288.1L185.3 282.5L183.0 276.8L180.8 271.1L178.5 265.3L176.2 259.4L173.9 253.5L171.5 247.5L169.2 241.4L166.8 235.3L164.4 229.0L162.0 222.8L159.5 216.4L157.1 210.0L154.6 203.4L152.1 196.8L149.6 190.2L147.1 183.4L144.6 176.6L142.0 169.6L139.4 162.6L136.8 155.5L134.2 148.2L131.6 140.9L128.9 133.5L126.2 125.9L123.5 118.3L120.8 110.6L118.1 102.7L115.3 94.7L112.6 86.6L109.8 78.4L107.0 70.0L104.1 61.5L101.3 52.9L98.4 44.1L95.5 35.2L92.6 26.1M360.4 683.4L359.8 680.7L359.2 678.1L358.7 675.4L358.1 672.7L357.5 670.0L356.9 667.2L356.3 664.5L355.7 661.7L355.1 659.0L354.5 656.2L353.8 653.4L353.2 650.5L352.5 647.7L351.9 644.9L351.2 642.0L350.6 639.1L349.9 636.2L349.2 633.3L348.5 630.4L347.8 627.5L347.1 624.5L346.4 621.5L345.7 618.5L344.9 615.5L344.2 612.5L343.4 609.5L342.6 606.4L341.9 603.3L341.1 600.2L340.3 597.1L339.5 594.0L338.7 590.8L337.8 587.6L337.0 584.5L336.1 581.3L335.3 578.0L334.4 574.8L333.5 571.5L332.6 568.2L331.7 564.9L330.8 561.6L329.9 558.2L328.9 554.9L328.0 551.5L327.0 548.1L326.0 544.6L325.0 541.2L324.0 537.7L322.9 534.2L321.9 530.6L320.8 527.1L319.8 523.5L318.7 519.9L317.6 516.3L316.5 512.6L315.3 509.0L314.2 505.3L313.0 501.5L311.8 497.8L310.6 494.0L309.4 490.2L308.2 486.4L306.9 482.5L305.7 478.6L304.4 474.7L303.1 470.7L301.7 466.8L300.4 462.8L299.0 458.7L297.6 454.7L296.2 450.6L294.8 446.4L293.4 442.3L291.9 438.1L290.4 433.8L288.9 429.6L287.4 425.3L285.8 420.9L284.3 416.6L282.7 412.2L281.1 407.7L279.4 403.2L277.8 398.7L276.1 394.1L274.4 389.6L272.7 384.9L270.9 380.2L269.1 375.5L267.4 370.8L265.5 365.9L263.7 361.1L261.8 356.2L259.9 351.3L258.0 346.3L256.1 341.2L254.1 336.2L252.1 331.0L250.1 325.9L248.0 320.6L246.0 315.3L243.9 310.0L241.8 304.6L239.6 299.2L237.5 293.7L235.3 288.1L233.0 282.5L230.8 276.8L228.5 271.1L226.2 265.3L223.9 259.4L221.6 253.5L219.2 247.5L216.8 241.4L214.4 235.3L212.0 229.0L209.5 222.8L207.0 216.4L204.5 210.0L201.9 203.4L199.4 196.8L196.8 190.2L194.1 183.4L191.5 176.6L188.8 169.6L186.1 162.6L183.4 155.5L180.7 148.2L177.9 140.9L175.1 133.5L172.3 125.9L169.5 118.3L166.6 110.6L163.7 102.7L160.8 94.7L157.9 86.6L154.9 78.4L152.0 70.0L148.9 61.5L145.9 52.9L142.9 44.1L139.8 35.2L136.7 26.1M393.4 683.4L392.9 680.7L392.5 678.1L392.0 675.4L391.6 672.7L391.1 670.0L390.7 667.2L390.2 664.5L389.8 661.7L389.3 659.0L388.8 656.2L388.3 653.4L387.8 650.5L387.3 647.7L386.8 644.9L386.3 642.0L385.8 639.1L385.3 636.2L384.7 633.3L384.2 630.4L383.7 627.5L383.1 624.5L382.5 621.5L382.0 618.5L381.4 615.5L380.8 612.5L380.2 609.5L379.6 606.4L379.0 603.3L378.4 600.2L377.8 597.1L377.2 594.0L376.5 590.8L375.9 587.6L375.2 584.5L374.5 581.3L373.9 578.0L373.2 574.8L372.5 571.5L371.8 568.2L371.1 564.9L370.3 561.6L369.6 558.2L368.9 554.9L368.1 551.5L367.3 548.1L366.5 544.6L365.7 541.2L364.9 537.7L364.1 534.2L363.3 530.6L362.4 527.1L361.6 523.5L360.7 519.9L359.8 516.3L358.9 512.6L358.0 509.0L357.1 505.3L356.1 501.5L355.2 497.8L354.2 494.0L353.2 490.2L352.2 486.4L351.2 482.5L350.2 478.6L349.1 474.7L348.0 470.7L346.9 466.8L345.8 462.8L344.7 458.7L343.6 454.7L342.4 450.6L341.2 446.4L340.0 442.3L338.8 438.1L337.5 433.8L336.3 429.6L335.0 425.3L333.7 420.9L332.3 416.6L331.0 412.2L329.6 407.7L328.2 403.2L326.8 398.7L325.3 394.1L323.9 389.6L322.4 384.9L320.8 380.2L319.3 375.5L317.7 370.8L316.1 365.9L314.4 361.1L312.8 356.2L311.1 351.3L309.4 346.3L307.6 341.2L305.9 336.2L304.0 331.0L302.2 325.9L300.3 320.6L298.4 315.3L296.5 310.0L294.5 304.6L292.6 299.2L290.5 293.7L288.5 288.1L286.4 282.5L284.3 276.8L282.1 271.1L279.9 265.3L277.7 259.4L275.4 253.5L273.1 247.5L270.8 241.4L268.5 235.3L266.1 229.0L263.6 222.8L261.2 216.4L258.7 210.0L256.1 203.4L253.6 196.8L251.0 190.2L248.3 183.4L245.7 176.6L243.0 169.6L240.2 162.6L237.5 155.5L234.7 148.2L231.8 140.9L228.9 133.5L226.0 125.9L223.1 118.3L220.1 110.6L217.1 102.7L214.1 94.7L211.0 86.6L207.9 78.4L204.8 70.0L201.6 61.5L198.4 52.9L195.1 44.1L191.9 35.2L188.6 26.1M426.4 683.4L426.0 680.7L425.7 678.1L425.4 675.4L425.1 672.7L424.8 670.0L424.4 667.2L424.1 664.5L423.8 661.7L423.4 659.0L423.1 656.2L422.7 653.4L422.4 650.5L422.0 647.7L421.6 644.9L421.3 642.0L420.9 639.1L420.5 636.2L420.1 633.3L419.7 630.4L419.3 627.5L418.9 624.5L418.5 621.5L418.1 618.5L417.7 615.5L417.3 612.5L416.9 609.5L416.4 606.4L416.0 603.3L415.5 600.2L415.1 597.1L414.6 594.0L414.2 590.8L413.7 587.6L413.2 584.5L412.7 581.3L412.2 578.0L411.7 574.8L411.2 571.5L410.7 568.2L410.2 564.9L409.7 561.6L409.1 558.2L408.6 554.9L408.0 551.5L407.5 548.1L406.9 544.6L406.3 541.2L405.7 537.7L405.1 534.2L404.5 530.6L403.9 527.1L403.3 523.5L402.6 519.9L402.0 516.3L401.3 512.6L400.6 509.0L399.9 505.3L399.3 501.5L398.5 497.8L397.8 494.0L397.1 490.2L396.3 486.4L395.6 482.5L394.8 478.6L394.0 474.7L393.2 470.7L392.4 466.8L391.6 462.8L390.7 458.7L389.9 454.7L389.0 450.6L388.1 446.4L387.2 442.3L386.2 438.1L385.3 433.8L384.3 429.6L383.3 425.3L382.3 420.9L381.3 416.6L380.3 412.2L379.2 407.7L378.1 403.2L377.0 398.7L375.9 394.1L374.7 389.6L373.6 384.9L372.4 380.2L371.1 375.5L369.9 370.8L368.6 365.9L367.3 361.1L366.0 356.2L364.6 351.3L363.2 346.3L361.8 341.2L360.4 336.2L358.9 331.0L357.4 325.9L355.9 320.6L354.3 315.3L352.7 310.0L351.0 304.6L349.4 299.2L347.7 293.7L345.9 288.1L344.1 282.5L342.3 276.8L340.5 271.1L338.6 265.3L336.6 259.4L334.6 253.5L332.6 247.5L330.6 241.4L328.5 235.3L326.3 229.0L324.1 222.8L321.9 216.4L319.6 210.0L317.3 203.4L314.9 196.8L312.5 190.2L310.0 183.4L307.5 176.6L304.9 169.6L302.3 162.6L299.7 155.5L296.9 148.2L294.2 140.9L291.4 133.5L288.5 125.9L285.6 118.3L282.7 110.6L279.7 102.7L276.6 94.7L273.5 86.6L270.3 78.4L267.1 70.0L263.9 61.5L260.6 52.9L257.2 44.1L253.8 35.2L250.4 26.1M459.4 683.4L459.2 680.7L458.9 678.1L458.7 675.4L458.5 672.7L458.3 670.0L458.1 667.2L457.9 664.5L457.6 661.7L457.4 659.0L457.2 656.2L457.0 653.4L456.7 650.5L456.5 647.7L456.2 644.9L456.0 642.0L455.8 639.1L455.5 636.2L455.3 633.3L455.0 630.4L454.7 627.5L454.5 624.5L454.2 621.5L453.9 618.5L453.7 615.5L453.4 612.5L453.1 609.5L452.8 606.4L452.5 603.3L452.2 600.2L452.0 597.1L451.7 594.0L451.3 590.8L451.0 587.6L450.7 584.5L450.4 581.3L450.1 578.0L449.7 574.8L449.4 571.5L449.1 568.2L448.7 564.9L448.4 561.6L448.0 558.2L447.7 554.9L447.3 551.5L446.9 548.1L446.6 544.6L446.2 541.2L445.8 537.7L445.4 534.2L445.0 530.6L444.6 527.1L444.2 523.5L443.7 519.9L443.3 516.3L442.9 512.6L442.4 509.0L442.0 505.3L441.5 501.5L441.0 497.8L440.5 494.0L440.1 490.2L439.6 486.4L439.1 482.5L438.5 478.6L438.0 474.7L437.5 470.7L436.9 466.8L436.4 462.8L435.8 458.7L435.2 454.7L434.6 450.6L434.0 446.4L433.4 442.3L432.8 438.1L432.1 433.8L431.5 429.6L430.8 425.3L430.1 420.9L429.5 416.6L428.7 412.2L428.0 407.7L427.3 403.2L426.5 398.7L425.7 394.1L425.0 389.6L424.1 384.9L423.3 380.2L422.5 375.5L421.6 370.8L420.7 365.9L419.8 361.1L418.9 356.2L417.9 351.3L417.0 346.3L416.0 341.2L414.9 336.2L413.9 331.0L412.8 325.9L411.7 320.6L410.6 315.3L409.4 310.0L408.3 304.6L407.1 299.2L405.8 293.7L404.5 288.1L403.2 282.5L401.9 276.8L400.5 271.1L399.1 265.3L397.6 259.4L396.1 253.5L394.6 247.5L393.0 241.4L391.4 235.3L389.7 229.0L388.0 222.8L386.3 216.4L384.5 210.0L382.6 203.4L380.7 196.8L378.8 190.2L376.8 183.4L374.7 176.6L372.6 169.6L370.4 162.6L368.2 155.5L365.9 148.2L363.5 140.9L361.1 133.5L358.6 125.9L356.1 118.3L353.5 110.6L350.8 102.7L348.0 94.7L345.2 86.6L342.3 78.4L339.3 70.0L336.3 61.5L333.2 52.9L330.0 44.1L326.7 35.2L323.3 26.1M492.4 683.4L492.2 680.7L492.1 678.1L492.0 675.4L491.9 672.7L491.8 670.0L491.6 667.2L491.5 664.5L491.4 661.7L491.3 659.0L491.1 656.2L491.0 653.4L490.9 650.5L490.8 647.7L490.6 644.9L490.5 642.0L490.4 639.1L490.2 636.2L490.1 633.3L489.9 630.4L489.8 627.5L489.6 624.5L489.5 621.5L489.3 618.5L489.2 615.5L489.0 612.5L488.9 609.5L488.7 606.4L488.6 603.3L488.4 600.2L488.2 597.1L488.1 594.0L487.9 590.8L487.7 587.6L487.5 584.5L487.4 581.3L487.2 578.0L487.0 574.8L486.8 571.5L486.6 568.2L486.4 564.9L486.2 561.6L486.0 558.2L485.8 554.9L485.6 551.5L485.4 548.1L485.2 544.6L485.0 541.2L484.8 537.7L484.6 534.2L484.3 530.6L484.1 527.1L483.9 523.5L483.6 519.9L483.4 516.3L483.1 512.6L482.9 509.0L482.6 505.3L482.4 501.5L482.1 497.8L481.8 494.0L481.6 490.2L481.3 486.4L481.0 482.5L480.7 478.6L480.4 474.7L480.1 470.7L479.8 466.8L479.5 462.8L479.1 458.7L478.8 454.7L478.5 450.6L478.1 446.4L477.8 442.3L477.4 438.1L477.1 433.8L476.7 429.6L476.3 425.3L475.9 420.9L475.5 416.6L475.1 412.2L474.7 407.7L474.2 403.2L473.8 398.7L473.4 394.1L472.9 389.6L472.4 384.9L471.9 380.2L471.4 375.5L470.9 370.8L470.4 365.9L469.9 361.1L469.3 356.2L468.8 351.3L468.2 346.3L467.6 341.2L467.0 336.2L466.4 331.0L465.7 325.9L465.1 320.6L464.4 315.3L463.7 310.0L463.0 304.6L462.3 299.2L461.5 293.7L460.7 288.1L460.0 282.5L459.1 276.8L458.3 271.1L457.4 265.3L456.5 259.4L455.6 253.5L454.6 247.5L453.6 241.4L452.6 235.3L451.6 229.0L450.5 222.8L449.4 216.4L448.2 210.0L447.0 203.4L445.8 196.8L444.5 190.2L443.2 183.4L441.8 176.6L440.4 169.6L439.0 162.6L437.4 155.5L435.9 148.2L434.3 140.9L432.6 133.5L430.8 125.9L429.0 118.3L427.2 110.6L425.2 102.7L423.2 94.7L421.1 86.6L419.0 78.4L416.7 70.0L414.4 61.5L412.0 52.9L409.5 44.1L406.9 35.2L404.2 26.1M525.4 683.4L525.3 680.7L525.3 678.1L525.2 675.4L525.2 672.7L525.1 670.0L525.1 667.2L525.1 664.5L525.0 661.7L525.0 659.0L524.9 656.2L524.9 653.4L524.8 650.5L524.8 647.7L524.7 644.9L524.7 642.0L524.6 639.1L524.6 636.2L524.5 633.3L524.5 630.4L524.4 627.5L524.4 624.5L524.3 621.5L524.3 618.5L524.2 615.5L524.2 612.5L524.1 609.5L524.1 606.4L524.0 603.3L523.9 600.2L523.9 597.1L523.8 594.0L523.8 590.8L523.7 587.6L523.6 584.5L523.6 581.3L523.5 578.0L523.4 574.8L523.4 571.5L523.3 568.2L523.2 564.9L523.2 561.6L523.1 558.2L523.0 554.9L522.9 551.5L522.9 548.1L522.8 544.6L522.7 541.2L522.6 537.7L522.5 534.2L522.5 530.6L522.4 527.1L522.3 523.5L522.2 519.9L522.1 516.3L522.0 512.6L521.9 509.0L521.8 505.3L521.7 501.5L521.6 497.8L521.5 494.0L521.4 490.2L521.3 486.4L521.2 482.5L521.1 478.6L520.9 474.7L520.8 470.7L520.7 466.8L520.6 462.8L520.4 458.7L520.3 454.7L520.2 450.6L520.0 446.4L519.9 442.3L519.7 438.1L519.6 433.8L519.4 429.6L519.3 425.3L519.1 420.9L519.0 416.6L518.8 412.2L518.6 407.7L518.4 403.2L518.3 398.7L518.1 394.1L517.9 389.6L517.7 384.9L517.5 380.2L517.3 375.5L517.0 370.8L516.8 365.9L516.6 361.1L516.3 356.2L516.1 351.3L515.9 346.3L515.6 341.2L515.3 336.2L515.0 331.0L514.8 325.9L514.5 320.6L514.2 315.3L513.9 310.0L513.5 304.6L513.2 299.2L512.9 293.7L512.5 288.1L512.1 282.5L511.8 276.8L511.4 271.1L511.0 265.3L510.5 259.4L510.1 253.5L509.6 247.5L509.2 241.4L508.7 235.3L508.2 229.0L507.7 222.8L507.1 216.4L506.6 210.0L506.0 203.4L505.4 196.8L504.8 190.2L504.1 183.4L503.4 176.6L502.7 169.6L502.0 162.6L501.2 155.5L500.4 148.2L499.6 140.9L498.7 133.5L497.8 125.9L496.8 118.3L495.9 110.6L494.8 102.7L493.7 94.7L492.6 86.6L491.4 78.4L490.2 70.0L488.9 61.5L487.5 52.9L486.1 44.1L484.6 35.2L483.0 26.1M558.4 683.4L558.4 680.7L558.4 678.1L558.4 675.4L558.4 672.7L558.4 670.0L558.5 667.2L558.5 664.5L558.5 661.7L558.5 659.0L558.5 656.2L558.6 653.4L558.6 650.5L558.6 647.7L558.6 644.9L558.6 642.0L558.7 639.1L558.7 636.2L558.7 633.3L558.7 630.4L558.7 627.5L558.8 624.5L558.8 621.5L558.8 618.5L558.8 615.5L558.8 612.5L558.9 609.5L558.9 606.4L558.9 603.3L558.9 600.2L558.9 597.1L559.0 594.0L559.0 590.8L559.0 587.6L559.0 584.5L559.1 581.3L559.1 578.0L559.1 574.8L559.1 571.5L559.1 568.2L559.2 564.9L559.2 561.6L559.2 558.2L559.2 554.9L559.3 551.5L559.3 548.1L559.3 544.6L559.3 541.2L559.3 537.7L559.4 534.2L559.4 530.6L559.4 527.1L559.4 523.5L559.5 519.9L559.5 516.3L559.5 512.6L559.5 509.0L559.5 505.3L559.6 501.5L559.6 497.8L559.6 494.0L559.6 490.2L559.6 486.4L559.7 482.5L559.7 478.6L559.7 474.7L559.7 470.7L559.7 466.8L559.8 462.8L559.8 458.7L559.8 454.7L559.8 450.6L559.8 446.4L559.8 442.3L559.8 438.1L559.9 433.8L559.9 429.6L559.9 425.3L559.9 420.9L559.9 416.6L559.9 412.2L559.9 407.7L559.9 403.2L559.9 398.7L559.9 394.1L559.9 389.6L559.9 384.9L559.9 380.2L559.9 375.5L559.9 370.8L559.9 365.9L559.9 361.1L559.9 356.2L559.9 351.3L559.9 346.3L559.8 341.2L559.8 336.2L559.8 331.0L559.8 325.9L559.8 320.6L559.7 315.3L559.7 310.0L559.7 304.6L559.6 299.2L559.6 293.7L559.5 288.1L559.5 282.5L559.4 276.8L559.3 271.1L559.3 265.3L559.2 259.4L559.1 253.5L559.1 247.5L559.0 241.4L558.9 235.3L558.8 229.0L558.7 222.8L558.5 216.4L558.4 210.0L558.3 203.4L558.2 196.8L558.0 190.2L557.8 183.4L557.7 176.6L557.5 169.6L557.3 162.6L557.1 155.5L556.9 148.2L556.6 140.9L556.4 133.5L556.1 125.9L555.8 118.3L555.6 110.6L555.2 102.7L554.9 94.7L554.5 86.6L554.2 78.4L553.7 70.0L553.3 61.5L552.8 52.9L552.4 44.1L551.8 35.2L551.3 26.1M591.4 683.4L591.4 680.7L591.5 678.1L591.5 675.4L591.6 672.7L591.7 670.0L591.7 667.2L591.8 664.5L591.9 661.7L591.9 659.0L592.0 656.2L592.0 653.4L592.1 650.5L592.2 647.7L592.2 644.9L592.3 642.0L592.4 639.1L592.5 636.2L592.5 633.3L592.6 630.4L592.7 627.5L592.7 624.5L592.8 621.5L592.9 618.5L593.0 615.5L593.1 612.5L593.1 609.5L593.2 606.4L593.3 603.3L593.4 600.2L593.4 597.1L593.5 594.0L593.6 590.8L593.7 587.6L593.8 584.5L593.9 581.3L593.9 578.0L594.0 574.8L594.1 571.5L594.2 568.2L594.3 564.9L594.4 561.6L594.5 558.2L594.6 554.9L594.7 551.5L594.8 548.1L594.9 544.6L595.0 541.2L595.1 537.7L595.1 534.2L595.2 530.6L595.3 527.1L595.5 523.5L595.6 519.9L595.7 516.3L595.8 512.6L595.9 509.0L596.0 505.3L596.1 501.5L596.2 497.8L596.3 494.0L596.4 490.2L596.5 486.4L596.6 482.5L596.7 478.6L596.9 474.7L597.0 470.7L597.1 466.8L597.2 462.8L597.3 458.7L597.5 454.7L597.6 450.6L597.7 446.4L597.8 442.3L597.9 438.1L598.1 433.8L598.2 429.6L598.3 425.3L598.5 420.9L598.6 416.6L598.7 412.2L598.9 407.7L599.0 403.2L599.1 398.7L599.3 394.1L599.4 389.6L599.5 384.9L599.7 380.2L599.8 375.5L600.0 370.8L600.1 365.9L600.3 361.1L600.4 356.2L600.5 351.3L600.7 346.3L600.8 341.2L601.0 336.2L601.1 331.0L601.3 325.9L601.5 320.6L601.6 315.3L601.8 310.0L601.9 304.6L602.1 299.2L602.2 293.7L602.4 288.1L602.6 282.5L602.7 276.8L602.9 271.1L603.1 265.3L603.2 259.4L603.4 253.5L603.5 247.5L603.7 241.4L603.9 235.3L604.0 229.0L604.2 222.8L604.4 216.4L604.6 210.0L604.7 203.4L604.9 196.8L605.1 190.2L605.2 183.4L605.4 176.6L605.6 169.6L605.7 162.6L605.9 155.5L606.0 148.2L606.2 140.9L606.4 133.5L606.5 125.9L606.7 118.3L606.8 110.6L607.0 102.7L607.1 94.7L607.3 86.6L607.4 78.4L607.5 70.0L607.7 61.5L607.8 52.9L607.9 44.1L608.0 35.2L608.1 26.1" stroke="rgb(0,220,0)" stroke-width="1" stroke-dasharray="4.2 1.8"/>
<path d="M-467.6 691.0L-217.1 43.0M-401.6 691.0L-151.1 43.0M-335.6 691.0L-85.1 43.0M-269.6 691.0L-19.1 43.0M-203.6 691.0L46.9 43.0M-137.6 691.0L112.9 43.0M-71.6 691.0L178.9 43.0M-5.6 691.0L244.9 43.0M60.4 691.0L310.9 43.0M126.4 691.0L376.9 43.0M192.4 691.0L442.9 43.0M258.4 691.0L508.9 43.0M324.4 691.0L574.9 43.0M390.4 691.0L640.9 43.0M456.4 691.0L706.9 43.0M522.4 691.0L772.9 43.0M588.4 691.0L838.9 43.0" stroke="rgb(0,160,255)" stroke-width="1"/>
<path d="M214.4 683.4L215.7 678.1L217.0 672.7L218.3 667.2L219.6 661.7L220.9 656.2L222.3 650.5L223.6 644.9L225.0 639.1L226.4 633.3L227.8 627.5L229.2 621.5L230.7 615.5L232.1 609.5L233.6 603.3L235.1 597.1L236.6 590.8L238.2 584.5L239.7 578.0L241.3 571.5L242.9 564.9L244.5 558.2L246.1 551.5L247.8 544.6L249.5 537.7L251.2 530.6L252.9 523.5L254.7 516.3L256.5 509.0L258.3 501.5L260.1 494.0L262.0 486.4L263.9 478.6L265.8 470.7L267.7 462.8L269.7 454.7L271.7 446.4L273.8 438.1L275.9 429.6L278.0 420.9L280.2 412.2M271.0 683.4L272.2 678.1L273.4 672.7L274.7 667.2L275.9 661.7L277.2 656.2L278.5 650.5L279.8 644.9L281.1 639.1L282.4 633.3L283.7 627.5L285.1 621.5L286.5 615.5L287.9 609.5L289.3 603.3L290.7 597.1L292.1 590.8L293.6 584.5L295.1 578.0L296.6 571.5L298.1 564.9L299.7 558.2L301.2 551.5L302.8 544.6L304.4 537.7L306.0 530.6L307.7 523.5L309.4 516.3L311.1 509.0L312.8 501.5L314.6 494.0L316.3 486.4L318.2 478.6L320.0 470.7L321.9 462.8L323.8 454.7L325.7 446.4L327.7 438.1L329.6 429.6L331.7 420.9L333.7 412.2M306.1 683.4L307.3 678.1L308.5 672.7L309.7 667.2L310.9 661.7L312.1 656.2L313.3 650.5L314.6 644.9L315.9 639.1L317.2 633.3L318.5 627.5L319.8 621.5L321.1 615.5L322.4 609.5L323.8 603.3L325.2 597.1L326.6 590.8L328.0 584.5L329.4 578.0L330.9 571.5L332.4 564.9L333.9 558.2L335.4 551.5L336.9 544.6L338.5 537.7L340.1 530.6L341.7 523.5L343.3 516.3L345.0 509.0L346.6 501.5L348.3 494.0L350.1 486.4L351.8 478.6L353.6 470.7L355.4 462.8L357.3 454.7L359.1 446.4L361.0 438.1L363.0 429.6L364.9 420.9L367.0 412.2M332.0 683.4L333.1 678.1L334.3 672.7L335.5 667.2L336.6 661.7L337.8 656.2L339.1 650.5L340.3 644.9L341.5 639.1L342.8 633.3L344.0 627.5L345.3 621.5L346.6 615.5L347.9 609.5L349.3 603.3L350.6 597.1L352.0 590.8L353.4 584.5L354.8 578.0L356.2 571.5L357.6 564.9L359.1 558.2L360.6 551.5L362.1 544.6L363.6 537.7L365.1 530.6L366.7 523.5L368.3 516.3L369.9 509.0L371.6 501.5L373.2 494.0L374.9 486.4L376.6 478.6L378.4 470.7L380.1 462.8L381.9 454.7L383.8 446.4L385.6 438.1L387.5 429.6L389.5 420.9L391.4 412.2M370.0 683.4L371.1 678.1L372.2 672.7L373.3 667.2L374.4 661.7L375.6 656.2L376.8 650.5L377.9 644.9L379.1 639.1L380.3 633.3L381.5 627.5L382.8 621.5L384.0 615.5L385.3 609.5L386.6 603.3L387.9 597.1L389.2 590.8L390.5 584.5L391.9 578.0L393.3 571.5L394.6 564.9L396.1 558.2L397.5 551.5L398.9 544.6L400.4 537.7L401.9 530.6L403.4 523.5L404.9 516.3L406.5 509.0L408.1 501.5L409.7 494.0L411.3 486.4L413.0 478.6L414.6 470.7L416.4 462.8L418.1 454.7L419.9 446.4L421.7 438.1L423.5 429.6L425.4 420.9L427.3 412.2M398.0 683.4L399.1 678.1L400.1 672.7L401.2 667.2L402.3 661.7L403.5 656.2L404.6 650.5L405.7 644.9L406.9 639.1L408.1 633.3L409.2 627.5L410.4 621.5L411.7 615.5L412.9 609.5L414.1 603.3L415.4 597.1L416.7 590.8L418.0 584.5L419.3 578.0L420.6 571.5L422.0 564.9L423.3 558.2L424.7 551.5L426.1 544.6L427.6 537.7L429.0 530.6L430.5 523.5L432.0 516.3L433.5 509.0L435.0 501.5L436.6 494.0L438.2 486.4L439.8 478.6L441.4 470.7L443.1 462.8L444.8 454.7L446.5 446.4L448.2 438.1L450.0 429.6L451.8 420.9L453.7 412.2M420.4 683.4L421.5 678.1L422.5 672.7L423.6 667.2L424.6 661.7L425.7 656.2L426.8 650.5L428.0 644.9L429.1 639.1L430.2 633.3L431.4 627.5L432.6 621.5L433.7 615.5L434.9 609.5L436.2 603.3L437.4 597.1L438.6 590.8L439.9 584.5L441.2 578.0L442.5 571.5L443.8 564.9L445.1 558.2L446.5 551.5L447.9 544.6L449.3 537.7L450.7 530.6L452.1 523.5L453.6 516.3L455.0 509.0L456.5 501.5L458.1 494.0L459.6 486.4L461.2 478.6L462.8 470.7L464.4 462.8L466.1 454.7L467.8 446.4L469.5 438.1L471.2 429.6L473.0 420.9L474.8 412.2M462.7 683.4L463.7 678.1L464.7 672.7L465.7 667.2L466.7 661.7L467.8 656.2L468.8 650.5L469.9 644.9L471.0 639.1L472.0 633.3L473.1 627.5L474.3 621.5L475.4 615.5L476.5 609.5L477.7 603.3L478.9 597.1L480.1 590.8L481.3 584.5L482.5 578.0L483.7 571.5L485.0 564.9L486.2 558.2L487.5 551.5L488.8 544.6L490.2 537.7L491.5 530.6L492.9 523.5L494.3 516.3L495.7 509.0L497.1 501.5L498.6 494.0L500.1 486.4L501.6 478.6L503.1 470.7L504.7 462.8L506.3 454.7L507.9 446.4L509.5 438.1L511.2 429.6L512.9 420.9L514.6 412.2M494.0 683.4L495.0 678.1L495.9 672.7L496.9 667.2L497.9 661.7L498.9 656.2L499.9 650.5L500.9 644.9L501.9 639.1L503.0 633.3L504.0 627.5L505.1 621.5L506.2 615.5L507.3 609.5L508.4 603.3L509.6 597.1L510.7 590.8L511.9 584.5L513.0 578.0L514.2 571.5L515.4 564.9L516.7 558.2L517.9 551.5L519.2 544.6L520.5 537.7L521.8 530.6L523.1 523.5L524.4 516.3L525.8 509.0L527.2 501.5L528.6 494.0L530.0 486.4L531.4 478.6L532.9 470.7L534.4 462.8L536.0 454.7L537.5 446.4L539.1 438.1L540.7 429.6L542.3 420.9L544.0 412.2M519.1 683.4L520.0 678.1L520.9 672.7L521.9 667.2L522.8 661.7L523.8 656.2L524.8 650.5L525.8 644.9L526.8 639.1L527.8 633.3L528.8 627.5L529.8 621.5L530.9 615.5L531.9 609.5L533.0 603.3L534.1 597.1L535.2 590.8L536.4 584.5L537.5 578.0L538.6 571.5L539.8 564.9L541.0 558.2L542.2 551.5L543.4 544.6L544.7 537.7L545.9 530.6L547.2 523.5L548.5 516.3L549.8 509.0L551.2 501.5L552.6 494.0L553.9 486.4L555.3 478.6L556.8 470.7L558.2 462.8L559.7 454.7L561.2 446.4L562.8 438.1L564.3 429.6L565.9 420.9L567.5 412.2M540.1 683.4L541.0 678.1L541.9 672.7L542.8 667.2L543.7 661.7L544.7 656.2L545.6 650.5L546.6 644.9L547.6 639.1L548.5 633.3L549.5 627.5L550.5 621.5L551.6 615.5L552.6 609.5L553.6 603.3L554.7 597.1L555.8 590.8L556.9 584.5L558.0 578.0L559.1 571.5L560.3 564.9L561.4 558.2L562.6 551.5L563.8 544.6L565.0 537.7L566.2 530.6L567.5 523.5L568.7 516.3L570.0 509.0L571.3 501.5L572.6 494.0L574.0 486.4L575.4 478.6L576.8 470.7L578.2 462.8L579.6 454.7L581.1 446.4L582.6 438.1L584.1 429.6L585.7 420.9L587.3 412.2M558.3 683.4L559.1 678.1L560.0 672.7L560.9 667.2L561.8 661.7L562.7 656.2L563.6 650.5L564.6 644.9L565.5 639.1L566.5 633.3L567.4 627.5L568.4 621.5L569.4 615.5L570.4 609.5L571.5 603.3L572.5 597.1L573.5 590.8L574.6 584.5L575.7 578.0L576.8 571.5L577.9 564.9L579.0 558.2L580.2 551.5L581.3 544.6L582.5 537.7L583.7 530.6L584.9 523.5L586.2 516.3L587.4 509.0L588.7 501.5L590.0 494.0L591.3 486.4L592.7 478.6L594.0 470.7L595.4 462.8L596.8 454.7L598.3 446.4L599.7 438.1L601.2 429.6L602.7 420.9L604.3 412.2M574.3 683.4L575.1 678.1L576.0 672.7L576.9 667.2L577.7 661.7L578.6 656.2L579.5 650.5L580.4 644.9L581.4 639.1L582.3 633.3L583.3 627.5L584.2 621.5L585.2 615.5L586.2 609.5L587.2 603.3L588.2 597.1L589.2 590.8L590.3 584.5L591.3 578.0L592.4 571.5L593.5 564.9L594.6 558.2L595.7 551.5L596.8 544.6L598.0 537.7L599.2 530.6L600.3 523.5L601.6 516.3L602.8 509.0L604.0 501.5L605.3 494.0L606.6 486.4L607.9 478.6L609.2 470.7L610.6 462.8L612.0 454.7L613.4 446.4L614.8 438.1L616.3 429.6L617.8 420.9L619.3 412.2" stroke="rgb(240,0,130)" stroke-width="1.3" stroke-linecap="butt" stroke-dasharray="2 6.4"/>
<path d="M63.0 126.5 H590.0M63.0 197.5 H590.0M63.0 259.5 H590.0M63.0 315.5 H590.0M63.0 366.5 H590.0M63.0 412.5 H590.0M63.0 455.5 H590.0M63.0 494.5 H590.0M63.0 531.5 H590.0M63.0 565.5 H590.0M63.0 597.5 H590.0M63.0 628.5 H590.0M63.0 656.5 H590.0M63.0 683.5 H590.0" stroke="#000" stroke-width="1.25"/>
</g>
<path d="M281.9 401.5L282.8 401.1L284.1 399.9L284.1 408.3" stroke="rgb(240,0,130)" stroke-width="1.0" />
<path d="M334.5 401.9L334.5 401.5L334.9 400.7L335.3 400.3L336.2 399.9L337.8 399.9L338.7 400.3L339.1 400.7L339.5 401.5L339.5 402.3L339.1 403.1L338.3 404.3L334.1 408.3L339.9 408.3" stroke="rgb(240,0,130)" stroke-width="1.0" />
<path d="M368.3 399.9L372.9 399.9L370.4 403.1L371.7 403.1L372.5 403.5L372.9 403.9L373.3 405.1L373.3 405.9L372.9 407.1L372.1 407.9L370.8 408.3L369.6 408.3L368.3 407.9L367.9 407.5L367.5 406.7" stroke="rgb(240,0,130)" stroke-width="1.0" />
<path d="M396.6 399.9L392.4 405.5L398.6 405.5M396.6 399.9L396.6 408.3" stroke="rgb(240,0,130)" stroke-width="1.0" />
<path d="M432.9 401.1L432.5 400.3L431.2 399.9L430.4 399.9L429.1 400.3L428.3 401.5L427.9 403.5L427.9 405.5L428.3 407.1L429.1 407.9L430.4 408.3L430.8 408.3L432.1 407.9L432.9 407.1L433.3 405.9L433.3 405.5L432.9 404.3L432.1 403.5L430.8 403.1L430.4 403.1L429.1 403.5L428.3 404.3L427.9 405.5" stroke="rgb(240,0,130)" stroke-width="1.0" />
<path d="M456.2 399.9L454.9 400.3L454.5 401.1L454.5 401.9L454.9 402.7L455.7 403.1L457.4 403.5L458.7 403.9L459.5 404.7L459.9 405.5L459.9 406.7L459.5 407.5L459.1 407.9L457.8 408.3L456.2 408.3L454.9 407.9L454.5 407.5L454.1 406.7L454.1 405.5L454.5 404.7L455.3 403.9L456.6 403.5L458.3 403.1L459.1 402.7L459.5 401.9L459.5 401.1L459.1 400.3L457.8 399.9L456.2 399.9" stroke="rgb(240,0,130)" stroke-width="1.0" />
<path d="M476.5 401.5L477.3 401.1L478.6 399.9L478.6 408.3M486.1 399.9L484.9 400.3L484.1 401.5L483.6 403.5L483.6 404.7L484.1 406.7L484.9 407.9L486.1 408.3L487.0 408.3L488.2 407.9L489.1 406.7L489.5 404.7L489.5 403.5L489.1 401.5L488.2 400.3L487.0 399.9L486.1 399.9" stroke="rgb(240,0,130)" stroke-width="1.0" />
<path d="M516.5 401.5L517.3 401.1L518.6 399.9L518.6 408.3M528.7 399.9L524.5 399.9L524.0 403.5L524.5 403.1L525.7 402.7L527.0 402.7L528.2 403.1L529.1 403.9L529.5 405.1L529.5 405.9L529.1 407.1L528.2 407.9L527.0 408.3L525.7 408.3L524.5 407.9L524.0 407.5L523.6 406.7" stroke="rgb(240,0,130)" stroke-width="1.0" />
<path d="M545.3 401.9L545.3 401.5L545.7 400.7L546.1 400.3L547.0 399.9L548.6 399.9L549.5 400.3L549.9 400.7L550.3 401.5L550.3 402.3L549.9 403.1L549.1 404.3L544.9 408.3L550.7 408.3M555.8 399.9L554.5 400.3L553.7 401.5L553.3 403.5L553.3 404.7L553.7 406.7L554.5 407.9L555.8 408.3L556.6 408.3L557.9 407.9L558.7 406.7L559.1 404.7L559.1 403.5L558.7 401.5L557.9 400.3L556.6 399.9L555.8 399.9" stroke="rgb(240,0,130)" stroke-width="1.0" />
<path d="M569.8 401.9L569.8 401.5L570.2 400.7L570.6 400.3L571.5 399.9L573.1 399.9L574.0 400.3L574.4 400.7L574.8 401.5L574.8 402.3L574.4 403.1L573.6 404.3L569.4 408.3L575.2 408.3M582.8 399.9L578.6 399.9L578.2 403.5L578.6 403.1L579.9 402.7L581.1 402.7L582.4 403.1L583.2 403.9L583.6 405.1L583.6 405.9L583.2 407.1L582.4 407.9L581.1 408.3L579.9 408.3L578.6 407.9L578.2 407.5L577.8 406.7" stroke="rgb(240,0,130)" stroke-width="1.0" />
<g clip-path="url(#cp)">
<path d="M168.0 44.0L198.8 126.0L225.5 197.0L250.0 259.5L271.2 314.5L290.3 366.2L305.3 412.6L320.0 455.6L331.3 494.1L340.5 531.6L350.5 565.6L358.6 597.0L363.7 628.4L370.1 656.2L380.0 684.0" stroke="rgb(170,170,170)" stroke-width="2"/>
<path d="M213.0 44.0L216.2 126.0L189.0 197.0L183.2 259.5L293.2 314.5L318.5 366.2L338.5 412.6L349.0 455.6L338.3 494.1L328.6 502.8L299.4 531.6L321.0 565.6L358.7 597.0L362.0 628.4L353.0 656.2L365.0 670.3L369.6 689.5" stroke="rgb(30,60,255)" stroke-width="2"/>
<path d="M278.0 44.0L309.0 126.0L336.2 197.0L358.8 259.5L367.5 314.5L378.9 366.2L381.0 412.6L381.4 455.6L385.8 494.1L391.6 531.6L390.0 565.6L391.2 597.0L393.2 628.4L392.8 643.0L385.2 656.2L374.4 670.6L383.0 689.5" stroke="rgb(250,60,60)" stroke-width="2"/>
</g>
<rect x="386.5" y="44" width="203.5" height="98" fill="#fff"/>
<path d="M386.5 44V138.3H590" stroke="#000" stroke-width="1.1"/>
<path d="M390 53.0H410" stroke="rgb(250,60,60)" stroke-width="2" stroke-linecap="butt"/>
<path d="M424.0 49.1L424.0 57.9M420.1 49.1L427.8 49.1M430.0 54.5L436.7 54.5L436.7 53.7L436.1 52.9L435.6 52.4L434.5 52.0L432.8 52.0L431.7 52.4L430.6 53.3L430.0 54.5L430.0 55.4L430.6 56.6L431.7 57.5L432.8 57.9L434.5 57.9L435.6 57.5L436.7 56.6M440.5 52.0L440.5 57.9M440.5 53.7L442.2 52.4L443.3 52.0L444.9 52.0L446.0 52.4L446.6 53.7L446.6 57.9M446.6 53.7L448.3 52.4L449.4 52.0L451.0 52.0L452.1 52.4L452.7 53.7L452.7 57.9M457.1 52.0L457.1 60.8M457.1 53.3L458.2 52.4L459.3 52.0L460.9 52.0L462.1 52.4L463.2 53.3L463.7 54.5L463.7 55.4L463.2 56.6L462.1 57.5L460.9 57.9L459.3 57.9L458.2 57.5L457.1 56.6M467.0 54.5L473.6 54.5L473.6 53.7L473.1 52.9L472.5 52.4L471.4 52.0L469.8 52.0L468.7 52.4L467.6 53.3L467.0 54.5L467.0 55.4L467.6 56.6L468.7 57.5L469.8 57.9L471.4 57.9L472.5 57.5L473.6 56.6M477.5 52.0L477.5 57.9M477.5 54.5L478.1 53.3L479.2 52.4L480.3 52.0L481.9 52.0M490.8 52.0L490.8 57.9M490.8 53.3L489.7 52.4L488.5 52.0L486.9 52.0L485.8 52.4L484.7 53.3L484.1 54.5L484.1 55.4L484.7 56.6L485.8 57.5L486.9 57.9L488.5 57.9L489.7 57.5L490.8 56.6M495.7 49.1L495.7 56.2L496.3 57.5L497.4 57.9L498.5 57.9M494.1 52.0L497.9 52.0M501.8 52.0L501.8 56.2L502.3 57.5L503.5 57.9L505.1 57.9L506.2 57.5L507.9 56.2M507.9 52.0L507.9 57.9M512.3 52.0L512.3 57.9M512.3 54.5L512.8 53.3L513.9 52.4L515.0 52.0L516.7 52.0M518.9 54.5L525.5 54.5L525.5 53.7L525.0 52.9L524.4 52.4L523.3 52.0L521.7 52.0L520.6 52.4L519.5 53.3L518.9 54.5L518.9 55.4L519.5 56.6L520.6 57.5L521.7 57.9L523.3 57.9L524.4 57.5L525.5 56.6" stroke="#000" stroke-width="1.0" />
<path d="M390 66.0H410" stroke="rgb(30,60,255)" stroke-width="2" stroke-linecap="butt"/>
<path d="M420.1 62.0L420.1 70.8M420.1 62.0L424.0 62.0L425.6 62.4L426.7 63.3L427.3 64.1L427.8 65.4L427.8 67.5L427.3 68.8L426.7 69.6L425.6 70.4L424.0 70.8L420.1 70.8M431.1 67.5L437.8 67.5L437.8 66.6L437.2 65.8L436.7 65.4L435.6 65.0L433.9 65.0L432.8 65.4L431.7 66.2L431.1 67.5L431.1 68.3L431.7 69.6L432.8 70.4L433.9 70.8L435.6 70.8L436.7 70.4L437.8 69.6M441.1 65.0L443.3 70.8M445.5 65.0L443.3 70.8M445.5 65.0L447.7 70.8M449.9 65.0L447.7 70.8M453.8 65.0L453.8 73.8M453.8 66.2L454.9 65.4L456.0 65.0L457.6 65.0L458.7 65.4L459.8 66.2L460.4 67.5L460.4 68.3L459.8 69.6L458.7 70.4L457.6 70.8L456.0 70.8L454.9 70.4L453.8 69.6M466.5 65.0L465.4 65.4L464.3 66.2L463.7 67.5L463.7 68.3L464.3 69.6L465.4 70.4L466.5 70.8L468.1 70.8L469.2 70.4L470.3 69.6L470.9 68.3L470.9 67.5L470.3 66.2L469.2 65.4L468.1 65.0L466.5 65.0M474.2 62.0L474.7 62.4L475.3 62.0L474.7 61.6L474.2 62.0M474.7 65.0L474.7 70.8M479.2 65.0L479.2 70.8M479.2 66.6L480.8 65.4L481.9 65.0L483.6 65.0L484.7 65.4L485.2 66.6L485.2 70.8M490.2 62.0L490.2 69.2L490.8 70.4L491.9 70.8L493.0 70.8M488.5 65.0L492.4 65.0" stroke="#000" stroke-width="1.0" />
<path d="M390 79.0H410" stroke="rgb(170,170,170)" stroke-width="2" stroke-linecap="butt"/>
<path d="M420.1 75.0L420.1 83.8M420.1 75.0L425.1 75.0L426.7 75.4L427.3 75.8L427.8 76.7L427.8 77.9L427.3 78.8L426.7 79.2L425.1 79.6L420.1 79.6M437.8 77.9L437.8 83.8M437.8 79.2L436.7 78.3L435.6 77.9L433.9 77.9L432.8 78.3L431.7 79.2L431.1 80.4L431.1 81.3L431.7 82.5L432.8 83.4L433.9 83.8L435.6 83.8L436.7 83.4L437.8 82.5M442.2 77.9L442.2 83.8M442.2 80.4L442.7 79.2L443.8 78.3L444.9 77.9L446.6 77.9M455.4 79.2L454.3 78.3L453.2 77.9L451.6 77.9L450.5 78.3L449.4 79.2L448.8 80.4L448.8 81.3L449.4 82.5L450.5 83.4L451.6 83.8L453.2 83.8L454.3 83.4L455.4 82.5M458.7 80.4L465.4 80.4L465.4 79.6L464.8 78.8L464.3 78.3L463.2 77.9L461.5 77.9L460.4 78.3L459.3 79.2L458.7 80.4L458.7 81.3L459.3 82.5L460.4 83.4L461.5 83.8L463.2 83.8L464.3 83.4L465.4 82.5M469.2 75.0L469.2 83.8M484.7 75.0L484.7 83.8M480.8 75.0L488.5 75.0M491.3 77.9L491.3 83.8M491.3 80.4L491.9 79.2L493.0 78.3L494.1 77.9L495.7 77.9M504.6 77.9L504.6 83.8M504.6 79.2L503.5 78.3L502.3 77.9L500.7 77.9L499.6 78.3L498.5 79.2L497.9 80.4L497.9 81.3L498.5 82.5L499.6 83.4L500.7 83.8L502.3 83.8L503.5 83.4L504.6 82.5M509.5 75.0L510.1 75.4L510.6 75.0L510.1 74.6L509.5 75.0M510.1 77.9L510.1 85.1L509.5 86.3L508.4 86.7L507.3 86.7M513.9 80.4L520.6 80.4L520.6 79.6L520.0 78.8L519.5 78.3L518.4 77.9L516.7 77.9L515.6 78.3L514.5 79.2L513.9 80.4L513.9 81.3L514.5 82.5L515.6 83.4L516.7 83.8L518.4 83.8L519.5 83.4L520.6 82.5M530.5 79.2L529.4 78.3L528.3 77.9L526.6 77.9L525.5 78.3L524.4 79.2L523.9 80.4L523.9 81.3L524.4 82.5L525.5 83.4L526.6 83.8L528.3 83.8L529.4 83.4L530.5 82.5M534.9 75.0L534.9 82.1L535.5 83.4L536.6 83.8L537.7 83.8M533.3 77.9L537.1 77.9M543.2 77.9L542.1 78.3L541.0 79.2L540.4 80.4L540.4 81.3L541.0 82.5L542.1 83.4L543.2 83.8L544.9 83.8L546.0 83.4L547.1 82.5L547.6 81.3L547.6 80.4L547.1 79.2L546.0 78.3L544.9 77.9L543.2 77.9M551.5 77.9L551.5 83.8M551.5 80.4L552.0 79.2L553.1 78.3L554.2 77.9L555.9 77.9M557.5 77.9L560.9 83.8M564.2 77.9L560.9 83.8L559.8 85.5L558.7 86.3L557.5 86.7L557.0 86.7" stroke="#000" stroke-width="1.0" />
<path d="M390 91.5H410" stroke="rgb(240,130,40)" stroke-width="1.2" stroke-linecap="butt"/>
<path d="M420.1 87.9L420.1 96.8M420.1 87.9L424.0 87.9L425.6 88.3L426.7 89.2L427.3 90.0L427.8 91.3L427.8 93.4L427.3 94.7L426.7 95.5L425.6 96.3L424.0 96.8L420.1 96.8M431.7 90.9L431.7 96.8M431.7 93.4L432.2 92.1L433.3 91.3L434.5 90.9L436.1 90.9M437.8 90.9L441.1 96.8M444.4 90.9L441.1 96.8L440.0 98.4L438.9 99.3L437.8 99.7L437.2 99.7M459.3 87.9L454.9 96.8M459.3 87.9L463.7 96.8M456.5 93.8L462.1 93.8M472.5 87.9L472.5 96.8M472.5 92.1L471.4 91.3L470.3 90.9L468.7 90.9L467.6 91.3L466.5 92.1L465.9 93.4L465.9 94.2L466.5 95.5L467.6 96.3L468.7 96.8L470.3 96.8L471.4 96.3L472.5 95.5M476.4 87.9L477.0 88.3L477.5 87.9L477.0 87.5L476.4 87.9M477.0 90.9L477.0 96.8M487.4 90.9L487.4 96.8M487.4 92.1L486.3 91.3L485.2 90.9L483.6 90.9L482.5 91.3L481.4 92.1L480.8 93.4L480.8 94.2L481.4 95.5L482.5 96.3L483.6 96.8L485.2 96.8L486.3 96.3L487.4 95.5M491.9 87.9L491.9 96.8M491.9 92.1L493.0 91.3L494.1 90.9L495.7 90.9L496.8 91.3L497.9 92.1L498.5 93.4L498.5 94.2L497.9 95.5L496.8 96.3L495.7 96.8L494.1 96.8L493.0 96.3L491.9 95.5M508.4 90.9L508.4 96.8M508.4 92.1L507.3 91.3L506.2 90.9L504.6 90.9L503.5 91.3L502.3 92.1L501.8 93.4L501.8 94.2L502.3 95.5L503.5 96.3L504.6 96.8L506.2 96.8L507.3 96.3L508.4 95.5M513.4 87.9L513.4 95.1L513.9 96.3L515.0 96.8L516.1 96.8M511.7 90.9L515.6 90.9" stroke="#000" stroke-width="1.0" />
<path d="M390 105.5H410" stroke="rgb(0,220,0)" stroke-width="1.2" stroke-linecap="butt"/>
<path d="M420.1 100.9L422.9 109.7M425.6 100.9L422.9 109.7M425.6 100.9L428.4 109.7M431.1 100.9L428.4 109.7M433.9 106.3L440.5 106.3L440.5 105.5L440.0 104.7L439.4 104.2L438.3 103.8L436.7 103.8L435.6 104.2L434.5 105.1L433.9 106.3L433.9 107.2L434.5 108.4L435.6 109.3L436.7 109.7L438.3 109.7L439.4 109.3L440.5 108.4M444.9 100.9L444.9 108.0L445.5 109.3L446.6 109.7L447.7 109.7M443.3 103.8L447.1 103.8M462.6 100.9L458.2 109.7M462.6 100.9L467.0 109.7M459.8 106.8L465.4 106.8M475.9 100.9L475.9 109.7M475.9 105.1L474.7 104.2L473.6 103.8L472.0 103.8L470.9 104.2L469.8 105.1L469.2 106.3L469.2 107.2L469.8 108.4L470.9 109.3L472.0 109.7L473.6 109.7L474.7 109.3L475.9 108.4M479.7 100.9L480.3 101.3L480.8 100.9L480.3 100.5L479.7 100.9M480.3 103.8L480.3 109.7M490.8 103.8L490.8 109.7M490.8 105.1L489.7 104.2L488.5 103.8L486.9 103.8L485.8 104.2L484.7 105.1L484.1 106.3L484.1 107.2L484.7 108.4L485.8 109.3L486.9 109.7L488.5 109.7L489.7 109.3L490.8 108.4M495.2 100.9L495.2 109.7M495.2 105.1L496.3 104.2L497.4 103.8L499.0 103.8L500.1 104.2L501.2 105.1L501.8 106.3L501.8 107.2L501.2 108.4L500.1 109.3L499.0 109.7L497.4 109.7L496.3 109.3L495.2 108.4M511.7 103.8L511.7 109.7M511.7 105.1L510.6 104.2L509.5 103.8L507.9 103.8L506.8 104.2L505.7 105.1L505.1 106.3L505.1 107.2L505.7 108.4L506.8 109.3L507.9 109.7L509.5 109.7L510.6 109.3L511.7 108.4M516.7 100.9L516.7 108.0L517.3 109.3L518.4 109.7L519.5 109.7M515.0 103.8L518.9 103.8" stroke="#000" stroke-width="1.0" />
<path d="M390 118.5H410" stroke="rgb(0,160,255)" stroke-width="1.2" stroke-linecap="butt"/>
<path d="M420.1 113.8L420.1 122.7M430.0 118.0L429.5 117.2L427.8 116.8L426.2 116.8L424.5 117.2L424.0 118.0L424.5 118.9L425.6 119.3L428.4 119.7L429.5 120.1L430.0 121.0L430.0 121.4L429.5 122.2L427.8 122.7L426.2 122.7L424.5 122.2L424.0 121.4M436.1 116.8L435.0 117.2L433.9 118.0L433.3 119.3L433.3 120.1L433.9 121.4L435.0 122.2L436.1 122.7L437.8 122.7L438.9 122.2L440.0 121.4L440.5 120.1L440.5 119.3L440.0 118.0L438.9 117.2L437.8 116.8L436.1 116.8M444.9 113.8L444.9 121.0L445.5 122.2L446.6 122.7L447.7 122.7M443.3 116.8L447.1 116.8M451.0 113.8L451.0 122.7M451.0 118.5L452.7 117.2L453.8 116.8L455.4 116.8L456.5 117.2L457.1 118.5L457.1 122.7M460.9 119.3L467.6 119.3L467.6 118.5L467.0 117.6L466.5 117.2L465.4 116.8L463.7 116.8L462.6 117.2L461.5 118.0L460.9 119.3L460.9 120.1L461.5 121.4L462.6 122.2L463.7 122.7L465.4 122.7L466.5 122.2L467.6 121.4M471.4 116.8L471.4 122.7M471.4 119.3L472.0 118.0L473.1 117.2L474.2 116.8L475.9 116.8M478.6 116.8L478.6 122.7M478.6 118.5L480.3 117.2L481.4 116.8L483.0 116.8L484.1 117.2L484.7 118.5L484.7 122.7M484.7 118.5L486.3 117.2L487.4 116.8L489.1 116.8L490.2 117.2L490.8 118.5L490.8 122.7" stroke="#000" stroke-width="1.0" />
<path d="M390.6 131.5H410" stroke="rgb(240,0,130)" stroke-width="1.5" stroke-linecap="round" stroke-dasharray="0.01 6.1"/>
<path d="M420.1 126.8L420.1 135.6M420.1 126.8L424.5 135.6M428.9 126.8L424.5 135.6M428.9 126.8L428.9 135.6M432.8 126.8L433.3 127.2L433.9 126.8L433.3 126.4L432.8 126.8M433.3 129.7L433.3 135.6M437.2 129.7L443.3 135.6M443.3 129.7L437.2 135.6M446.6 126.8L447.1 127.2L447.7 126.8L447.1 126.4L446.6 126.8M447.1 129.7L447.1 135.6M451.6 129.7L451.6 135.6M451.6 131.4L453.2 130.1L454.3 129.7L456.0 129.7L457.1 130.1L457.6 131.4L457.6 135.6M468.1 129.7L468.1 136.4L467.6 137.7L467.0 138.1L465.9 138.5L464.3 138.5L463.2 138.1M468.1 131.0L467.0 130.1L465.9 129.7L464.3 129.7L463.2 130.1L462.1 131.0L461.5 132.2L461.5 133.1L462.1 134.3L463.2 135.2L464.3 135.6L465.9 135.6L467.0 135.2L468.1 134.3M481.4 126.8L481.4 135.6M481.4 126.8L486.3 126.8L488.0 127.2L488.5 127.6L489.1 128.5L489.1 129.3L488.5 130.1L488.0 130.6L486.3 131.0L481.4 131.0M485.2 131.0L489.1 135.6M499.0 129.7L499.0 135.6M499.0 131.0L497.9 130.1L496.8 129.7L495.2 129.7L494.1 130.1L493.0 131.0L492.4 132.2L492.4 133.1L493.0 134.3L494.1 135.2L495.2 135.6L496.8 135.6L497.9 135.2L499.0 134.3M504.0 126.8L504.0 133.9L504.6 135.2L505.7 135.6L506.8 135.6M502.3 129.7L506.2 129.7M509.5 126.8L510.1 127.2L510.6 126.8L510.1 126.4L509.5 126.8M510.1 129.7L510.1 135.6M516.7 129.7L515.6 130.1L514.5 131.0L513.9 132.2L513.9 133.1L514.5 134.3L515.6 135.2L516.7 135.6L518.4 135.6L519.5 135.2L520.6 134.3L521.1 133.1L521.1 132.2L520.6 131.0L519.5 130.1L518.4 129.7L516.7 129.7" stroke="#000" stroke-width="1.0" />
<rect x="63.0" y="44.0" width="527.0" height="646.0" stroke="#000" stroke-width="2" stroke-linejoin="miter"/>
<path d="M59 44.5H63" stroke="#000" stroke-width="1.2" stroke-linecap="butt"/>
<path d="M29.5 39.2L34.2 39.2L31.7 43.0L32.9 43.0L33.8 43.5L34.2 43.9L34.6 45.3L34.6 46.3L34.2 47.7L33.4 48.6L32.1 49.1L30.8 49.1L29.5 48.6L29.1 48.2L28.7 47.2M40.7 39.2L39.4 39.7L38.5 41.1L38.1 43.5L38.1 44.9L38.5 47.2L39.4 48.6L40.7 49.1L41.5 49.1L42.8 48.6L43.6 47.2L44.1 44.9L44.1 43.5L43.6 41.1L42.8 39.7L41.5 39.2L40.7 39.2M50.1 39.2L48.8 39.7L48.0 41.1L47.5 43.5L47.5 44.9L48.0 47.2L48.8 48.6L50.1 49.1L51.0 49.1L52.2 48.6L53.1 47.2L53.5 44.9L53.5 43.5L53.1 41.1L52.2 39.7L51.0 39.2L50.1 39.2" stroke="#000" stroke-width="1.0" />
<path d="M59 126.5H63" stroke="#000" stroke-width="1.2" stroke-linecap="butt"/>
<path d="M29.5 121.2L34.2 121.2L31.7 125.0L32.9 125.0L33.8 125.5L34.2 125.9L34.6 127.3L34.6 128.3L34.2 129.7L33.4 130.6L32.1 131.1L30.8 131.1L29.5 130.6L29.1 130.2L28.7 129.2M43.2 121.2L39.0 121.2L38.5 125.5L39.0 125.0L40.2 124.5L41.5 124.5L42.8 125.0L43.6 125.9L44.1 127.3L44.1 128.3L43.6 129.7L42.8 130.6L41.5 131.1L40.2 131.1L39.0 130.6L38.5 130.2L38.1 129.2M50.1 121.2L48.8 121.7L48.0 123.1L47.5 125.5L47.5 126.9L48.0 129.2L48.8 130.6L50.1 131.1L51.0 131.1L52.2 130.6L53.1 129.2L53.5 126.9L53.5 125.5L53.1 123.1L52.2 121.7L51.0 121.2L50.1 121.2" stroke="#000" stroke-width="1.0" />
<path d="M59 197.5H63" stroke="#000" stroke-width="1.2" stroke-linecap="butt"/>
<path d="M32.9 192.2L28.7 198.8L35.1 198.8M32.9 192.2L32.9 202.1M40.7 192.2L39.4 192.7L38.5 194.1L38.1 196.5L38.1 197.9L38.5 200.2L39.4 201.6L40.7 202.1L41.5 202.1L42.8 201.6L43.6 200.2L44.1 197.9L44.1 196.5L43.6 194.1L42.8 192.7L41.5 192.2L40.7 192.2M50.1 192.2L48.8 192.7L48.0 194.1L47.5 196.5L47.5 197.9L48.0 200.2L48.8 201.6L50.1 202.1L51.0 202.1L52.2 201.6L53.1 200.2L53.5 197.9L53.5 196.5L53.1 194.1L52.2 192.7L51.0 192.2L50.1 192.2" stroke="#000" stroke-width="1.0" />
<path d="M59 259.5H63" stroke="#000" stroke-width="1.2" stroke-linecap="butt"/>
<path d="M32.9 254.2L28.7 260.8L35.1 260.8M32.9 254.2L32.9 264.1M43.2 254.2L39.0 254.2L38.5 258.5L39.0 258.0L40.2 257.5L41.5 257.5L42.8 258.0L43.6 258.9L44.1 260.3L44.1 261.3L43.6 262.7L42.8 263.6L41.5 264.1L40.2 264.1L39.0 263.6L38.5 263.2L38.1 262.2M50.1 254.2L48.8 254.7L48.0 256.1L47.5 258.5L47.5 259.9L48.0 262.2L48.8 263.6L50.1 264.1L51.0 264.1L52.2 263.6L53.1 262.2L53.5 259.9L53.5 258.5L53.1 256.1L52.2 254.7L51.0 254.2L50.1 254.2" stroke="#000" stroke-width="1.0" />
<path d="M59 315.5H63" stroke="#000" stroke-width="1.2" stroke-linecap="butt"/>
<path d="M33.8 310.2L29.5 310.2L29.1 314.5L29.5 314.0L30.8 313.5L32.1 313.5L33.4 314.0L34.2 314.9L34.6 316.3L34.6 317.3L34.2 318.7L33.4 319.6L32.1 320.1L30.8 320.1L29.5 319.6L29.1 319.2L28.7 318.2M40.7 310.2L39.4 310.7L38.5 312.1L38.1 314.5L38.1 315.9L38.5 318.2L39.4 319.6L40.7 320.1L41.5 320.1L42.8 319.6L43.6 318.2L44.1 315.9L44.1 314.5L43.6 312.1L42.8 310.7L41.5 310.2L40.7 310.2M50.1 310.2L48.8 310.7L48.0 312.1L47.5 314.5L47.5 315.9L48.0 318.2L48.8 319.6L50.1 320.1L51.0 320.1L52.2 319.6L53.1 318.2L53.5 315.9L53.5 314.5L53.1 312.1L52.2 310.7L51.0 310.2L50.1 310.2" stroke="#000" stroke-width="1.0" />
<path d="M59 366.5H63" stroke="#000" stroke-width="1.2" stroke-linecap="butt"/>
<path d="M33.8 361.2L29.5 361.2L29.1 365.5L29.5 365.0L30.8 364.5L32.1 364.5L33.4 365.0L34.2 365.9L34.6 367.3L34.6 368.3L34.2 369.7L33.4 370.6L32.1 371.1L30.8 371.1L29.5 370.6L29.1 370.2L28.7 369.2M43.2 361.2L39.0 361.2L38.5 365.5L39.0 365.0L40.2 364.5L41.5 364.5L42.8 365.0L43.6 365.9L44.1 367.3L44.1 368.3L43.6 369.7L42.8 370.6L41.5 371.1L40.2 371.1L39.0 370.6L38.5 370.2L38.1 369.2M50.1 361.2L48.8 361.7L48.0 363.1L47.5 365.5L47.5 366.9L48.0 369.2L48.8 370.6L50.1 371.1L51.0 371.1L52.2 370.6L53.1 369.2L53.5 366.9L53.5 365.5L53.1 363.1L52.2 361.7L51.0 361.2L50.1 361.2" stroke="#000" stroke-width="1.0" />
<path d="M59 412.5H63" stroke="#000" stroke-width="1.2" stroke-linecap="butt"/>
<path d="M34.2 408.6L33.8 407.7L32.5 407.2L31.7 407.2L30.4 407.7L29.5 409.1L29.1 411.5L29.1 413.8L29.5 415.7L30.4 416.6L31.7 417.1L32.1 417.1L33.4 416.6L34.2 415.7L34.6 414.3L34.6 413.8L34.2 412.4L33.4 411.5L32.1 411.0L31.7 411.0L30.4 411.5L29.5 412.4L29.1 413.8M40.7 407.2L39.4 407.7L38.5 409.1L38.1 411.5L38.1 412.9L38.5 415.2L39.4 416.6L40.7 417.1L41.5 417.1L42.8 416.6L43.6 415.2L44.1 412.9L44.1 411.5L43.6 409.1L42.8 407.7L41.5 407.2L40.7 407.2M50.1 407.2L48.8 407.7L48.0 409.1L47.5 411.5L47.5 412.9L48.0 415.2L48.8 416.6L50.1 417.1L51.0 417.1L52.2 416.6L53.1 415.2L53.5 412.9L53.5 411.5L53.1 409.1L52.2 407.7L51.0 407.2L50.1 407.2" stroke="#000" stroke-width="1.0" />
<path d="M59 455.5H63" stroke="#000" stroke-width="1.2" stroke-linecap="butt"/>
<path d="M34.2 451.6L33.8 450.7L32.5 450.2L31.7 450.2L30.4 450.7L29.5 452.1L29.1 454.5L29.1 456.8L29.5 458.7L30.4 459.6L31.7 460.1L32.1 460.1L33.4 459.6L34.2 458.7L34.6 457.3L34.6 456.8L34.2 455.4L33.4 454.5L32.1 454.0L31.7 454.0L30.4 454.5L29.5 455.4L29.1 456.8M43.2 450.2L39.0 450.2L38.5 454.5L39.0 454.0L40.2 453.5L41.5 453.5L42.8 454.0L43.6 454.9L44.1 456.3L44.1 457.3L43.6 458.7L42.8 459.6L41.5 460.1L40.2 460.1L39.0 459.6L38.5 459.2L38.1 458.2M50.1 450.2L48.8 450.7L48.0 452.1L47.5 454.5L47.5 455.9L48.0 458.2L48.8 459.6L50.1 460.1L51.0 460.1L52.2 459.6L53.1 458.2L53.5 455.9L53.5 454.5L53.1 452.1L52.2 450.7L51.0 450.2L50.1 450.2" stroke="#000" stroke-width="1.0" />
<path d="M59 494.5H63" stroke="#000" stroke-width="1.2" stroke-linecap="butt"/>
<path d="M34.6 489.2L30.4 499.1M28.7 489.2L34.6 489.2M40.7 489.2L39.4 489.7L38.5 491.1L38.1 493.5L38.1 494.9L38.5 497.2L39.4 498.6L40.7 499.1L41.5 499.1L42.8 498.6L43.6 497.2L44.1 494.9L44.1 493.5L43.6 491.1L42.8 489.7L41.5 489.2L40.7 489.2M50.1 489.2L48.8 489.7L48.0 491.1L47.5 493.5L47.5 494.9L48.0 497.2L48.8 498.6L50.1 499.1L51.0 499.1L52.2 498.6L53.1 497.2L53.5 494.9L53.5 493.5L53.1 491.1L52.2 489.7L51.0 489.2L50.1 489.2" stroke="#000" stroke-width="1.0" />
<path d="M59 531.5H63" stroke="#000" stroke-width="1.2" stroke-linecap="butt"/>
<path d="M34.6 526.2L30.4 536.1M28.7 526.2L34.6 526.2M43.2 526.2L39.0 526.2L38.5 530.5L39.0 530.0L40.2 529.5L41.5 529.5L42.8 530.0L43.6 530.9L44.1 532.3L44.1 533.3L43.6 534.7L42.8 535.6L41.5 536.1L40.2 536.1L39.0 535.6L38.5 535.2L38.1 534.2M50.1 526.2L48.8 526.7L48.0 528.1L47.5 530.5L47.5 531.9L48.0 534.2L48.8 535.6L50.1 536.1L51.0 536.1L52.2 535.6L53.1 534.2L53.5 531.9L53.5 530.5L53.1 528.1L52.2 526.7L51.0 526.2L50.1 526.2" stroke="#000" stroke-width="1.0" />
<path d="M59 565.5H63" stroke="#000" stroke-width="1.2" stroke-linecap="butt"/>
<path d="M30.8 560.2L29.5 560.7L29.1 561.6L29.1 562.6L29.5 563.5L30.4 564.0L32.1 564.5L33.4 564.9L34.2 565.9L34.6 566.8L34.6 568.2L34.2 569.2L33.8 569.6L32.5 570.1L30.8 570.1L29.5 569.6L29.1 569.2L28.7 568.2L28.7 566.8L29.1 565.9L30.0 564.9L31.2 564.5L32.9 564.0L33.8 563.5L34.2 562.6L34.2 561.6L33.8 560.7L32.5 560.2L30.8 560.2M40.7 560.2L39.4 560.7L38.5 562.1L38.1 564.5L38.1 565.9L38.5 568.2L39.4 569.6L40.7 570.1L41.5 570.1L42.8 569.6L43.6 568.2L44.1 565.9L44.1 564.5L43.6 562.1L42.8 560.7L41.5 560.2L40.7 560.2M50.1 560.2L48.8 560.7L48.0 562.1L47.5 564.5L47.5 565.9L48.0 568.2L48.8 569.6L50.1 570.1L51.0 570.1L52.2 569.6L53.1 568.2L53.5 565.9L53.5 564.5L53.1 562.1L52.2 560.7L51.0 560.2L50.1 560.2" stroke="#000" stroke-width="1.0" />
<path d="M59 597.5H63" stroke="#000" stroke-width="1.2" stroke-linecap="butt"/>
<path d="M30.8 592.2L29.5 592.7L29.1 593.6L29.1 594.6L29.5 595.5L30.4 596.0L32.1 596.5L33.4 596.9L34.2 597.9L34.6 598.8L34.6 600.2L34.2 601.2L33.8 601.6L32.5 602.1L30.8 602.1L29.5 601.6L29.1 601.2L28.7 600.2L28.7 598.8L29.1 597.9L30.0 596.9L31.2 596.5L32.9 596.0L33.8 595.5L34.2 594.6L34.2 593.6L33.8 592.7L32.5 592.2L30.8 592.2M43.2 592.2L39.0 592.2L38.5 596.5L39.0 596.0L40.2 595.5L41.5 595.5L42.8 596.0L43.6 596.9L44.1 598.3L44.1 599.3L43.6 600.7L42.8 601.6L41.5 602.1L40.2 602.1L39.0 601.6L38.5 601.2L38.1 600.2M50.1 592.2L48.8 592.7L48.0 594.1L47.5 596.5L47.5 597.9L48.0 600.2L48.8 601.6L50.1 602.1L51.0 602.1L52.2 601.6L53.1 600.2L53.5 597.9L53.5 596.5L53.1 594.1L52.2 592.7L51.0 592.2L50.1 592.2" stroke="#000" stroke-width="1.0" />
<path d="M59 628.5H63" stroke="#000" stroke-width="1.2" stroke-linecap="butt"/>
<path d="M34.2 626.5L33.8 627.9L32.9 628.9L31.7 629.3L31.2 629.3L30.0 628.9L29.1 627.9L28.7 626.5L28.7 626.1L29.1 624.6L30.0 623.7L31.2 623.2L31.7 623.2L32.9 623.7L33.8 624.6L34.2 626.5L34.2 628.9L33.8 631.2L32.9 632.6L31.7 633.1L30.8 633.1L29.5 632.6L29.1 631.7M40.7 623.2L39.4 623.7L38.5 625.1L38.1 627.5L38.1 628.9L38.5 631.2L39.4 632.6L40.7 633.1L41.5 633.1L42.8 632.6L43.6 631.2L44.1 628.9L44.1 627.5L43.6 625.1L42.8 623.7L41.5 623.2L40.7 623.2M50.1 623.2L48.8 623.7L48.0 625.1L47.5 627.5L47.5 628.9L48.0 631.2L48.8 632.6L50.1 633.1L51.0 633.1L52.2 632.6L53.1 631.2L53.5 628.9L53.5 627.5L53.1 625.1L52.2 623.7L51.0 623.2L50.1 623.2" stroke="#000" stroke-width="1.0" />
<path d="M59 656.5H63" stroke="#000" stroke-width="1.2" stroke-linecap="butt"/>
<path d="M34.2 654.5L33.8 655.9L32.9 656.9L31.7 657.3L31.2 657.3L30.0 656.9L29.1 655.9L28.7 654.5L28.7 654.1L29.1 652.6L30.0 651.7L31.2 651.2L31.7 651.2L32.9 651.7L33.8 652.6L34.2 654.5L34.2 656.9L33.8 659.2L32.9 660.6L31.7 661.1L30.8 661.1L29.5 660.6L29.1 659.7M43.2 651.2L39.0 651.2L38.5 655.5L39.0 655.0L40.2 654.5L41.5 654.5L42.8 655.0L43.6 655.9L44.1 657.3L44.1 658.3L43.6 659.7L42.8 660.6L41.5 661.1L40.2 661.1L39.0 660.6L38.5 660.2L38.1 659.2M50.1 651.2L48.8 651.7L48.0 653.1L47.5 655.5L47.5 656.9L48.0 659.2L48.8 660.6L50.1 661.1L51.0 661.1L52.2 660.6L53.1 659.2L53.5 656.9L53.5 655.5L53.1 653.1L52.2 651.7L51.0 651.2L50.1 651.2" stroke="#000" stroke-width="1.0" />
<path d="M59 683.5H63" stroke="#000" stroke-width="1.2" stroke-linecap="butt"/>
<path d="M20.5 680.1L21.4 679.6L22.6 678.2L22.6 688.1M31.2 678.2L30.0 678.7L29.1 680.1L28.7 682.5L28.7 683.9L29.1 686.2L30.0 687.6L31.2 688.1L32.1 688.1L33.4 687.6L34.2 686.2L34.6 683.9L34.6 682.5L34.2 680.1L33.4 678.7L32.1 678.2L31.2 678.2M40.7 678.2L39.4 678.7L38.5 680.1L38.1 682.5L38.1 683.9L38.5 686.2L39.4 687.6L40.7 688.1L41.5 688.1L42.8 687.6L43.6 686.2L44.1 683.9L44.1 682.5L43.6 680.1L42.8 678.7L41.5 678.2L40.7 678.2M50.1 678.2L48.8 678.7L48.0 680.1L47.5 682.5L47.5 683.9L48.0 686.2L48.8 687.6L50.1 688.1L51.0 688.1L52.2 687.6L53.1 686.2L53.5 683.9L53.5 682.5L53.1 680.1L52.2 678.7L51.0 678.2L50.1 678.2" stroke="#000" stroke-width="1.0" />
<path d="M30.9 9.0L30.9 19.5M30.9 14.5L32.7 13.0L33.9 12.5L35.7 12.5L36.9 13.0L37.4 14.5L37.4 19.5M42.2 9.0L42.2 19.5M42.2 9.0L47.5 9.0L49.2 9.5L49.8 10.0L50.4 11.0L50.4 12.5L49.8 13.5L49.2 14.0L47.5 14.5L42.2 14.5M61.0 12.5L61.0 19.5M61.0 14.0L59.9 13.0L58.7 12.5L56.9 12.5L55.7 13.0L54.6 14.0L54.0 15.5L54.0 16.5L54.6 18.0L55.7 19.0L56.9 19.5L58.7 19.5L59.9 19.0L61.0 18.0" stroke="#000" stroke-width="1.0" />
<path d="M105.4 704.9L116.2 704.9M121.6 699.3L128.2 699.3L124.6 703.0L126.4 703.0L127.6 703.5L128.2 703.9L128.8 705.3L128.8 706.2L128.2 707.6L127.0 708.5L125.2 709.0L123.4 709.0L121.6 708.5L121.0 708.1L120.4 707.2M136.0 699.3L134.2 699.8L133.0 701.2L132.4 703.5L132.4 704.9L133.0 707.2L134.2 708.5L136.0 709.0L137.2 709.0L139.0 708.5L140.2 707.2L140.8 704.9L140.8 703.5L140.2 701.2L139.0 699.8L137.2 699.3L136.0 699.3" stroke="#000" stroke-width="1.0" />
<path d="M171.4 704.9L182.2 704.9M187.0 701.6L187.0 701.2L187.6 700.3L188.2 699.8L189.4 699.3L191.8 699.3L193.0 699.8L193.6 700.3L194.2 701.2L194.2 702.1L193.6 703.0L192.4 704.4L186.4 709.0L194.8 709.0M202.0 699.3L200.2 699.8L199.0 701.2L198.4 703.5L198.4 704.9L199.0 707.2L200.2 708.5L202.0 709.0L203.2 709.0L205.0 708.5L206.2 707.2L206.8 704.9L206.8 703.5L206.2 701.2L205.0 699.8L203.2 699.3L202.0 699.3" stroke="#000" stroke-width="1.0" />
<path d="M237.4 704.9L248.2 704.9M254.2 701.2L255.4 700.7L257.2 699.3L257.2 709.0M268.0 699.3L266.2 699.8L265.0 701.2L264.4 703.5L264.4 704.9L265.0 707.2L266.2 708.5L268.0 709.0L269.2 709.0L271.0 708.5L272.2 707.2L272.8 704.9L272.8 703.5L272.2 701.2L271.0 699.8L269.2 699.3L268.0 699.3" stroke="#000" stroke-width="1.0" />
<path d="M320.2 699.3L318.4 699.8L317.2 701.2L316.6 703.5L316.6 704.9L317.2 707.2L318.4 708.5L320.2 709.0L321.4 709.0L323.2 708.5L324.4 707.2L325.0 704.9L325.0 703.5L324.4 701.2L323.2 699.8L321.4 699.3L320.2 699.3" stroke="#000" stroke-width="1.0" />
<path d="M378.4 701.2L379.6 700.7L381.4 699.3L381.4 709.0M392.2 699.3L390.4 699.8L389.2 701.2L388.6 703.5L388.6 704.9L389.2 707.2L390.4 708.5L392.2 709.0L393.4 709.0L395.2 708.5L396.4 707.2L397.0 704.9L397.0 703.5L396.4 701.2L395.2 699.8L393.4 699.3L392.2 699.3" stroke="#000" stroke-width="1.0" />
<path d="M443.2 701.6L443.2 701.2L443.8 700.3L444.4 699.8L445.6 699.3L448.0 699.3L449.2 699.8L449.8 700.3L450.4 701.2L450.4 702.1L449.8 703.0L448.6 704.4L442.6 709.0L451.0 709.0M458.2 699.3L456.4 699.8L455.2 701.2L454.6 703.5L454.6 704.9L455.2 707.2L456.4 708.5L458.2 709.0L459.4 709.0L461.2 708.5L462.4 707.2L463.0 704.9L463.0 703.5L462.4 701.2L461.2 699.8L459.4 699.3L458.2 699.3" stroke="#000" stroke-width="1.0" />
<path d="M509.8 699.3L516.4 699.3L512.8 703.0L514.6 703.0L515.8 703.5L516.4 703.9L517.0 705.3L517.0 706.2L516.4 707.6L515.2 708.5L513.4 709.0L511.6 709.0L509.8 708.5L509.2 708.1L508.6 707.2M524.2 699.3L522.4 699.8L521.2 701.2L520.6 703.5L520.6 704.9L521.2 707.2L522.4 708.5L524.2 709.0L525.4 709.0L527.2 708.5L528.4 707.2L529.0 704.9L529.0 703.5L528.4 701.2L527.2 699.8L525.4 699.3L524.2 699.3" stroke="#000" stroke-width="1.0" />
<path d="M580.6 699.3L574.6 705.8L583.6 705.8M580.6 699.3L580.6 709.0M590.2 699.3L588.4 699.8L587.2 701.2L586.6 703.5L586.6 704.9L587.2 707.2L588.4 708.5L590.2 709.0L591.4 709.0L593.2 708.5L594.4 707.2L595.0 704.9L595.0 703.5L594.4 701.2L593.2 699.8L591.4 699.3L590.2 699.3" stroke="#000" stroke-width="1.0" />
<path d="M185.5 716.0L185.5 727.2M185.5 716.0L190.3 716.0L192.4 716.5L193.7 717.6L194.4 718.7L195.1 720.3L195.1 722.9L194.4 724.5L193.7 725.6L192.4 726.7L190.3 727.2L185.5 727.2M199.2 722.9L207.5 722.9L207.5 721.9L206.8 720.8L206.1 720.3L204.7 719.7L202.7 719.7L201.3 720.3L199.9 721.3L199.2 722.9L199.2 724.0L199.9 725.6L201.3 726.7L202.7 727.2L204.7 727.2L206.1 726.7L207.5 725.6M211.6 719.7L214.4 727.2M217.1 719.7L214.4 727.2M217.1 719.7L219.9 727.2M222.6 719.7L219.9 727.2M227.4 719.7L227.4 730.9M227.4 721.3L228.8 720.3L230.2 719.7L232.2 719.7L233.6 720.3L235.0 721.3L235.7 722.9L235.7 724.0L235.0 725.6L233.6 726.7L232.2 727.2L230.2 727.2L228.8 726.7L227.4 725.6M243.2 719.7L241.8 720.3L240.5 721.3L239.8 722.9L239.8 724.0L240.5 725.6L241.8 726.7L243.2 727.2L245.3 727.2L246.7 726.7L248.0 725.6L248.7 724.0L248.7 722.9L248.0 721.3L246.7 720.3L245.3 719.7L243.2 719.7M252.8 716.0L253.5 716.5L254.2 716.0L253.5 715.5L252.8 716.0M253.5 719.7L253.5 727.2M259.0 719.7L259.0 727.2M259.0 721.9L261.1 720.3L262.5 719.7L264.5 719.7L265.9 720.3L266.6 721.9L266.6 727.2M272.8 716.0L272.8 725.1L273.5 726.7L274.8 727.2L276.2 727.2M270.7 719.7L275.5 719.7M302.3 713.9L289.9 730.9M320.2 716.0L320.2 727.2M315.4 716.0L325.0 716.0M327.7 722.9L336.0 722.9L336.0 721.9L335.3 720.8L334.6 720.3L333.2 719.7L331.2 719.7L329.8 720.3L328.4 721.3L327.7 722.9L327.7 724.0L328.4 725.6L329.8 726.7L331.2 727.2L333.2 727.2L334.6 726.7L336.0 725.6M340.8 719.7L340.8 727.2M340.8 721.9L342.9 720.3L344.2 719.7L346.3 719.7L347.7 720.3L348.3 721.9L348.3 727.2M348.3 721.9L350.4 720.3L351.8 719.7L353.8 719.7L355.2 720.3L355.9 721.9L355.9 727.2M361.4 719.7L361.4 730.9M361.4 721.3L362.8 720.3L364.2 719.7L366.2 719.7L367.6 720.3L369.0 721.3L369.6 722.9L369.6 724.0L369.0 725.6L367.6 726.7L366.2 727.2L364.2 727.2L362.8 726.7L361.4 725.6M373.8 722.9L382.0 722.9L382.0 721.9L381.3 720.8L380.6 720.3L379.3 719.7L377.2 719.7L375.8 720.3L374.5 721.3L373.8 722.9L373.8 724.0L374.5 725.6L375.8 726.7L377.2 727.2L379.3 727.2L380.6 726.7L382.0 725.6M386.8 719.7L386.8 727.2M386.8 722.9L387.5 721.3L388.9 720.3L390.3 719.7L392.3 719.7M403.3 719.7L403.3 727.2M403.3 721.3L401.9 720.3L400.6 719.7L398.5 719.7L397.1 720.3L395.8 721.3L395.1 722.9L395.1 724.0L395.8 725.6L397.1 726.7L398.5 727.2L400.6 727.2L401.9 726.7L403.3 725.6M409.5 716.0L409.5 725.1L410.2 726.7L411.6 727.2L412.9 727.2M407.4 719.7L412.2 719.7M417.1 719.7L417.1 725.1L417.7 726.7L419.1 727.2L421.2 727.2L422.6 726.7L424.6 725.1M424.6 719.7L424.6 727.2M430.1 719.7L430.1 727.2M430.1 722.9L430.8 721.3L432.2 720.3L433.5 719.7L435.6 719.7M438.4 722.9L446.6 722.9L446.6 721.9L445.9 720.8L445.2 720.3L443.9 719.7L441.8 719.7L440.4 720.3L439.0 721.3L438.4 722.9L438.4 724.0L439.0 725.6L440.4 726.7L441.8 727.2L443.9 727.2L445.2 726.7L446.6 725.6M467.2 713.9L465.8 714.9L464.5 716.5L463.1 718.7L462.4 721.3L462.4 723.5L463.1 726.1L464.5 728.3L465.8 729.9L467.2 730.9M473.4 716.0L472.0 716.5L471.3 717.6L471.3 718.7L472.0 719.7L473.4 720.3L474.8 720.3L476.2 719.7L476.8 718.7L476.8 717.6L476.2 716.5L474.8 716.0L473.4 716.0M491.3 718.7L490.6 717.6L489.2 716.5L487.8 716.0L485.1 716.0L483.7 716.5L482.3 717.6L481.6 718.7L481.0 720.3L481.0 722.9L481.6 724.5L482.3 725.6L483.7 726.7L485.1 727.2L487.8 727.2L489.2 726.7L490.6 725.6L491.3 724.5M495.4 713.9L496.8 714.9L498.1 716.5L499.5 718.7L500.2 721.3L500.2 723.5L499.5 726.1L498.1 728.3L496.8 729.9L495.4 730.9" stroke="#000" stroke-width="1.0" />
<path d="M101.0 17.0L94.9 17.0L94.3 21.8L94.9 21.3L96.8 20.7L98.6 20.7L100.4 21.3L101.6 22.4L102.2 24.0L102.2 25.1L101.6 26.7L100.4 27.8L98.6 28.3L96.8 28.3L94.9 27.8L94.3 27.2L93.7 26.1M111.2 17.0L109.4 17.5L108.2 19.1L107.6 21.8L107.6 23.4L108.2 26.1L109.4 27.8L111.2 28.3L112.5 28.3L114.3 27.8L115.5 26.1L116.1 23.4L116.1 21.8L115.5 19.1L114.3 17.5L112.5 17.0L111.2 17.0M123.0 17.0L121.8 17.5L121.2 18.6L121.2 19.7L121.8 20.7L123.0 21.3L124.2 21.3L125.5 20.7L126.1 19.7L126.1 18.6L125.5 17.5L124.2 17.0L123.0 17.0M131.8 19.7L131.8 19.1L132.4 18.0L133.0 17.5L134.2 17.0L136.7 17.0L137.9 17.5L138.5 18.0L139.1 19.1L139.1 20.2L138.5 21.3L137.3 22.9L131.2 28.3L139.7 28.3M152.4 17.0L146.3 17.0L145.6 21.8L146.3 21.3L148.1 20.7L149.9 20.7L151.7 21.3L153.0 22.4L153.6 24.0L153.6 25.1L153.0 26.7L151.7 27.8L149.9 28.3L148.1 28.3L146.3 27.8L145.6 27.2L145.0 26.1M159.0 17.0L159.0 20.7M165.2 17.0L165.2 28.3M165.2 17.0L173.7 28.3M173.7 17.0L173.7 28.3M192.0 17.0L198.7 17.0L195.1 21.3L196.9 21.3L198.1 21.8L198.7 22.4L199.4 24.0L199.4 25.1L198.7 26.7L197.5 27.8L195.7 28.3L193.9 28.3L192.0 27.8L191.4 27.2L190.8 26.1M212.0 17.0L205.9 17.0L205.3 21.8L205.9 21.3L207.7 20.7L209.6 20.7L211.4 21.3L212.6 22.4L213.2 24.0L213.2 25.1L212.6 26.7L211.4 27.8L209.6 28.3L207.7 28.3L205.9 27.8L205.3 27.2L204.7 26.1M225.9 17.0L219.8 17.0L219.2 21.8L219.8 21.3L221.6 20.7L223.4 20.7L225.3 21.3L226.5 22.4L227.1 24.0L227.1 25.1L226.5 26.7L225.3 27.8L223.4 28.3L221.6 28.3L219.8 27.8L219.2 27.2L218.6 26.1M234.0 17.0L232.8 17.5L232.2 18.6L232.2 19.7L232.8 20.7L234.0 21.3L235.2 21.3L236.5 20.7L237.1 19.7L237.1 18.6L236.5 17.5L235.2 17.0L234.0 17.0M245.8 17.0L244.0 17.5L242.8 19.1L242.2 21.8L242.2 23.4L242.8 26.1L244.0 27.8L245.8 28.3L247.0 28.3L248.9 27.8L250.1 26.1L250.7 23.4L250.7 21.8L250.1 19.1L248.9 17.5L247.0 17.0L245.8 17.0M264.6 17.0L258.5 28.3M256.0 17.0L264.6 17.0M270.0 17.0L270.0 20.7M275.0 17.0L278.1 28.3M281.1 17.0L278.1 28.3M281.1 17.0L284.2 28.3M287.2 17.0L284.2 28.3M305.0 19.1L306.3 18.6L308.1 17.0L308.1 28.3M320.1 17.0L318.3 17.5L317.7 18.6L317.7 19.7L318.3 20.7L319.5 21.3L322.0 21.8L323.8 22.4L325.0 23.4L325.6 24.5L325.6 26.1L325.0 27.2L324.4 27.8L322.6 28.3L320.1 28.3L318.3 27.8L317.7 27.2L317.1 26.1L317.1 24.5L317.7 23.4L318.9 22.4L320.7 21.8L323.2 21.3L324.4 20.7L325.0 19.7L325.0 18.6L324.4 17.5L322.6 17.0L320.1 17.0M334.6 17.0L332.8 17.5L331.6 19.1L330.9 21.8L330.9 23.4L331.6 26.1L332.8 27.8L334.6 28.3L335.8 28.3L337.7 27.8L338.9 26.1L339.5 23.4L339.5 21.8L338.9 19.1L337.7 17.5L335.8 17.0L334.6 17.0M345.9 20.7L345.9 28.3M345.9 22.9L347.7 21.3L348.9 20.7L350.7 20.7L352.0 21.3L352.6 22.9L352.6 28.3M352.6 22.9L354.4 21.3L355.6 20.7L357.4 20.7L358.7 21.3L359.3 22.9L359.3 28.3M380.3 17.0L375.4 28.3M380.3 17.0L385.2 28.3M377.3 24.5L383.4 24.5M397.8 18.6L396.5 17.5L394.7 17.0L392.3 17.0L390.4 17.5L389.2 18.6L389.2 19.7L389.8 20.7L390.4 21.3L391.7 21.8L395.3 22.9L396.5 23.4L397.2 24.0L397.8 25.1L397.8 26.7L396.5 27.8L394.7 28.3L392.3 28.3L390.4 27.8L389.2 26.7M403.6 17.0L403.6 28.3M403.6 28.3L410.9 28.3" stroke="#000" stroke-width="1.8" />
<path d="M654.4 18.8L655.6 18.3L657.4 16.7L657.4 28.0M673.9 16.7L667.8 16.7L667.2 21.5L667.8 21.0L669.6 20.4L671.5 20.4L673.3 21.0L674.5 22.1L675.1 23.7L675.1 24.8L674.5 26.4L673.3 27.5L671.5 28.0L669.6 28.0L667.8 27.5L667.2 26.9L666.6 25.8M681.4 26.9L680.7 27.5L681.4 28.0L682.0 27.5L681.4 26.9M691.3 16.7L689.4 17.2L688.2 18.8L687.6 21.5L687.6 23.1L688.2 25.8L689.4 27.5L691.3 28.0L692.5 28.0L694.3 27.5L695.5 25.8L696.1 23.1L696.1 21.5L695.5 18.8L694.3 17.2L692.5 16.7L691.3 16.7M703.4 18.8L704.7 18.3L706.5 16.7L706.5 28.0M716.4 26.9L715.8 27.5L716.4 28.0L717.0 27.5L716.4 26.9M723.2 19.4L723.2 18.8L723.8 17.7L724.4 17.2L725.7 16.7L728.1 16.7L729.3 17.2L729.9 17.7L730.5 18.8L730.5 19.9L729.9 21.0L728.7 22.6L722.6 28.0L731.2 28.0M740.3 16.7L738.5 17.2L737.2 18.8L736.6 21.5L736.6 23.1L737.2 25.8L738.5 27.5L740.3 28.0L741.5 28.0L743.3 27.5L744.6 25.8L745.2 23.1L745.2 21.5L744.6 18.8L743.3 17.2L741.5 16.7L740.3 16.7M751.2 19.4L751.2 18.8L751.9 17.7L752.5 17.2L753.7 16.7L756.1 16.7L757.3 17.2L758.0 17.7L758.6 18.8L758.6 19.9L758.0 21.0L756.7 22.6L750.6 28.0L759.2 28.0M772.0 16.7L765.9 16.7L765.3 21.5L765.9 21.0L767.7 20.4L769.5 20.4L771.4 21.0L772.6 22.1L773.2 23.7L773.2 24.8L772.6 26.4L771.4 27.5L769.5 28.0L767.7 28.0L765.9 27.5L765.3 26.9L764.6 25.8M793.5 16.7L791.7 17.2L790.5 18.8L789.9 21.5L789.9 23.1L790.5 25.8L791.7 27.5L793.5 28.0L794.7 28.0L796.6 27.5L797.8 25.8L798.4 23.1L798.4 21.5L797.8 18.8L796.6 17.2L794.7 16.7L793.5 16.7M807.5 16.7L805.7 17.2L804.5 18.8L803.9 21.5L803.9 23.1L804.5 25.8L805.7 27.5L807.5 28.0L808.8 28.0L810.6 27.5L811.8 25.8L812.4 23.1L812.4 21.5L811.8 18.8L810.6 17.2L808.8 16.7L807.5 16.7M827.1 19.4L826.5 18.3L825.3 17.2L824.0 16.7L821.6 16.7L820.4 17.2L819.2 18.3L818.5 19.4L817.9 21.0L817.9 23.7L818.5 25.3L819.2 26.4L820.4 27.5L821.6 28.0L824.0 28.0L825.3 27.5L826.5 26.4L827.1 25.3L827.1 23.7M824.0 23.7L827.1 23.7M833.4 16.7L833.4 28.0M833.4 16.7L838.3 28.0M843.1 16.7L838.3 28.0M843.1 16.7L843.1 28.0M852.3 16.7L852.3 28.0M848.0 16.7L856.5 16.7M876.4 14.5L875.2 15.6L874.0 17.2L872.8 19.4L872.2 22.1L872.2 24.2L872.8 26.9L874.0 29.1L875.2 30.7L876.4 31.8M882.3 16.7L882.3 28.0M882.3 16.7L887.8 16.7L889.6 17.2L890.2 17.7L890.8 18.8L890.8 19.9L890.2 21.0L889.6 21.5L887.8 22.1M882.3 22.1L887.8 22.1L889.6 22.6L890.2 23.1L890.8 24.2L890.8 25.8L890.2 26.9L889.6 27.5L887.8 28.0L882.3 28.0M903.6 20.4L903.6 28.0M903.6 22.1L902.4 21.0L901.2 20.4L899.3 20.4L898.1 21.0L896.9 22.1L896.3 23.7L896.3 24.8L896.9 26.4L898.1 27.5L899.3 28.0L901.2 28.0L902.4 27.5L903.6 26.4M916.2 22.1L915.6 21.0L913.8 20.4L912.0 20.4L910.1 21.0L909.5 22.1L910.1 23.1L911.3 23.7L914.4 24.2L915.6 24.8L916.2 25.8L916.2 26.4L915.6 27.5L913.8 28.0L912.0 28.0L910.1 27.5L909.5 26.4M921.5 23.7L928.8 23.7L928.8 22.6L928.2 21.5L927.6 21.0L926.3 20.4L924.5 20.4L923.3 21.0L922.1 22.1L921.5 23.7L921.5 24.8L922.1 26.4L923.3 27.5L924.5 28.0L926.3 28.0L927.6 27.5L928.8 26.4M934.9 20.4L934.3 21.0L934.9 21.5L935.5 21.0L934.9 20.4M934.9 26.9L934.3 27.5L934.9 28.0L935.5 27.5L934.9 26.9M954.2 18.8L955.4 18.3L957.3 16.7L957.3 28.0M969.4 16.7L967.6 17.2L967.0 18.3L967.0 19.4L967.6 20.4L968.8 21.0L971.3 21.5L973.1 22.1L974.3 23.1L974.9 24.2L974.9 25.8L974.3 26.9L973.7 27.5L971.9 28.0L969.4 28.0L967.6 27.5L967.0 26.9L966.4 25.8L966.4 24.2L967.0 23.1L968.2 22.1L970.1 21.5L972.5 21.0L973.7 20.4L974.3 19.4L974.3 18.3L973.7 17.2L971.9 16.7L969.4 16.7M980.1 14.5L981.3 15.6L982.6 17.2L983.8 19.4L984.4 22.1L984.4 24.2L983.8 26.9L982.6 29.1L981.3 30.7L980.1 31.8" stroke="#000" stroke-width="1.8" />
<path d="M597.3 8.6L597.3 19.1M603.0 12.1L597.3 17.1M599.6 15.1L603.6 19.1M607.0 12.1L607.0 19.1M607.0 14.1L608.7 12.6L609.8 12.1L611.5 12.1L612.6 12.6L613.2 14.1L613.2 19.1M613.2 14.1L614.9 12.6L616.0 12.1L617.8 12.1L618.9 12.6L619.4 14.1L619.4 19.1" stroke="#000" stroke-width="1.0" />
<path d="M600.8 31.0L596.4 40.5M600.8 31.0L605.1 40.5M598.1 37.4L603.5 37.4M614.9 32.4L613.8 31.5L612.2 31.0L610.0 31.0L608.4 31.5L607.3 32.4L607.3 33.3L607.9 34.2L608.4 34.6L609.5 35.1L612.8 36.0L613.8 36.5L614.4 36.9L614.9 37.8L614.9 39.1L613.8 40.0L612.2 40.5L610.0 40.5L608.4 40.0L607.3 39.1M618.7 31.0L618.7 40.5M618.7 40.5L625.2 40.5" stroke="#000" stroke-width="1.0" />
<path d="M590 156.5H596.5" stroke="#000" stroke-width="1.2" stroke-linecap="butt"/>
<path d="M604.5 152.0L602.9 152.4L602.3 153.3L602.3 154.2L602.9 155.1L604.0 155.6L606.2 156.0L607.8 156.5L608.9 157.3L609.4 158.2L609.4 159.6L608.9 160.5L608.4 161.0L606.7 161.4L604.5 161.4L602.9 161.0L602.3 160.5L601.8 159.6L601.8 158.2L602.3 157.3L603.4 156.5L605.1 156.0L607.3 155.6L608.4 155.1L608.9 154.2L608.9 153.3L608.4 152.4L606.7 152.0L604.5 152.0" stroke="#000" stroke-width="1.0" />
<path d="M590 229.5H596.5" stroke="#000" stroke-width="1.2" stroke-linecap="butt"/>
<path d="M609.4 225.0L604.0 234.4M601.8 225.0L609.4 225.0" stroke="#000" stroke-width="1.0" />
<path d="M590 301.5H596.5" stroke="#000" stroke-width="1.2" stroke-linecap="butt"/>
<path d="M608.4 298.3L607.8 297.4L606.2 296.9L605.1 296.9L603.4 297.4L602.3 298.8L601.8 301.0L601.8 303.2L602.3 305.0L603.4 305.9L605.1 306.4L605.6 306.4L607.3 305.9L608.4 305.0L608.9 303.7L608.9 303.2L608.4 301.9L607.3 301.0L605.6 300.5L605.1 300.5L603.4 301.0L602.3 301.9L601.8 303.2" stroke="#000" stroke-width="1.0" />
<path d="M590 370.5H596.5" stroke="#000" stroke-width="1.2" stroke-linecap="butt"/>
<path d="M608.4 365.9L602.9 365.9L602.3 370.0L602.9 369.5L604.5 369.1L606.2 369.1L607.8 369.5L608.9 370.4L609.4 371.8L609.4 372.7L608.9 374.0L607.8 374.9L606.2 375.4L604.5 375.4L602.9 374.9L602.3 374.5L601.8 373.6" stroke="#000" stroke-width="1.0" />
<path d="M590 439.5H596.5" stroke="#000" stroke-width="1.2" stroke-linecap="butt"/>
<path d="M607.3 434.9L601.8 441.2L610.0 441.2M607.3 434.9L607.3 444.4" stroke="#000" stroke-width="1.0" />
<path d="M590 506.5H596.5" stroke="#000" stroke-width="1.2" stroke-linecap="butt"/>
<path d="M602.9 501.9L608.9 501.9L605.6 505.5L607.3 505.5L608.4 506.0L608.9 506.4L609.4 507.8L609.4 508.7L608.9 510.0L607.8 510.9L606.2 511.4L604.5 511.4L602.9 510.9L602.3 510.5L601.8 509.6" stroke="#000" stroke-width="1.0" />
<path d="M590 573.5H596.5" stroke="#000" stroke-width="1.2" stroke-linecap="butt"/>
<path d="M602.3 571.2L602.3 570.8L602.9 569.9L603.4 569.4L604.5 568.9L606.7 568.9L607.8 569.4L608.4 569.9L608.9 570.8L608.9 571.6L608.4 572.5L607.3 573.9L601.8 578.4L609.4 578.4" stroke="#000" stroke-width="1.0" />
<path d="M590 637.5H596.5" stroke="#000" stroke-width="1.2" stroke-linecap="butt"/>
<path d="M601.8 634.8L602.9 634.3L604.5 632.9L604.5 642.4" stroke="#000" stroke-width="1.0" />
<path d="M590 673.5H601" stroke="#000" stroke-width="1.2" stroke-linecap="butt"/>
<path d="M610.5 668.9L610.5 678.4M610.5 678.4L617.2 678.4M627.9 671.2L627.3 670.3L626.2 669.4L625.1 668.9L622.8 668.9L621.7 669.4L620.6 670.3L620.0 671.2L619.5 672.5L619.5 674.8L620.0 676.1L620.6 677.0L621.7 677.9L622.8 678.4L625.1 678.4L626.2 677.9L627.3 677.0L627.9 676.1M631.8 668.9L631.8 678.4M631.8 678.4L638.5 678.4" stroke="#000" stroke-width="1.0" />
<path d="M617.5 506.3L628.7 506.3M617.5 506.3L628.7 501.9M617.5 497.5L628.7 501.9M617.5 497.5L628.7 497.5M617.5 493.6L618.0 493.1L617.5 492.5L617.0 493.1L617.5 493.6M621.2 493.1L628.7 493.1M621.2 489.2L628.7 483.2M621.2 483.2L628.7 489.2M617.5 479.9L618.0 479.3L617.5 478.8L617.0 479.3L617.5 479.9M621.2 479.3L628.7 479.3M621.2 474.9L628.7 474.9M623.4 474.9L621.8 473.3L621.2 472.1L621.2 470.5L621.8 469.4L623.4 468.8L628.7 468.8M621.2 458.4L629.8 458.4L631.4 458.9L631.9 459.5L632.4 460.6L632.4 462.2L631.9 463.3M622.8 458.4L621.8 459.5L621.2 460.6L621.2 462.2L621.8 463.3L622.8 464.4L624.4 465.0L625.5 465.0L627.1 464.4L628.2 463.3L628.7 462.2L628.7 460.6L628.2 459.5L627.1 458.4M617.5 445.2L628.7 445.2M617.5 445.2L617.5 440.2L618.0 438.5L618.6 438.0L619.6 437.4L620.7 437.4L621.8 438.0L622.3 438.5L622.8 440.2L622.8 445.2M622.8 441.3L628.7 437.4M621.2 427.5L628.7 427.5M622.8 427.5L621.8 428.6L621.2 429.7L621.2 431.4L621.8 432.5L622.8 433.6L624.4 434.1L625.5 434.1L627.1 433.6L628.2 432.5L628.7 431.4L628.7 429.7L628.2 428.6L627.1 427.5M617.5 422.6L626.6 422.6L628.2 422.0L628.7 420.9L628.7 419.8M621.2 424.2L621.2 420.4M617.5 417.1L618.0 416.5L617.5 416.0L617.0 416.5L617.5 417.1M621.2 416.5L628.7 416.5M621.2 409.9L621.8 411.0L622.8 412.1L624.4 412.7L625.5 412.7L627.1 412.1L628.2 411.0L628.7 409.9L628.7 408.3L628.2 407.2L627.1 406.0L625.5 405.5L624.4 405.5L622.8 406.0L621.8 407.2L621.2 408.3L621.2 409.9M615.4 389.0L616.4 390.1L618.0 391.2L620.2 392.3L622.8 392.8L625.0 392.8L627.6 392.3L629.8 391.2L631.4 390.1L632.4 389.0M621.2 379.1L629.8 379.1L631.4 379.6L631.9 380.2L632.4 381.3L632.4 382.9L631.9 384.0M622.8 379.1L621.8 380.2L621.2 381.3L621.2 382.9L621.8 384.0L622.8 385.1L624.4 385.7L625.5 385.7L627.1 385.1L628.2 384.0L628.7 382.9L628.7 381.3L628.2 380.2L627.1 379.1M615.4 365.8L632.4 375.8M617.5 362.5L628.7 362.5M621.2 357.0L626.6 362.5M624.4 360.3L628.7 356.5M621.2 347.1L629.8 347.1L631.4 347.7L631.9 348.2L632.4 349.3L632.4 351.0L631.9 352.1M622.8 347.1L621.8 348.2L621.2 349.3L621.2 351.0L621.8 352.1L622.8 353.2L624.4 353.7L625.5 353.7L627.1 353.2L628.2 352.1L628.7 351.0L628.7 349.3L628.2 348.2L627.1 347.1M615.4 343.3L616.4 342.2L618.0 341.1L620.2 340.0L622.8 339.4L625.0 339.4L627.6 340.0L629.8 341.1L631.4 342.2L632.4 343.3" stroke="#000" stroke-width="1.0" />
<path d="M681.5 44V690.5" stroke="#000" stroke-width="1.3"/>
<g stroke="rgb(0,160,255)" stroke-width="1.1"><circle cx="681.5" cy="44.4" r="2.6" fill="rgb(0,160,255)" stroke="none"/><path d="M681.5 44.4L704.7 26.8M704.7 26.8L716.1 35.8M702.3 28.6L712.4 37.9M699.8 30.4L709.0 41.0"/></g>
<g stroke="rgb(0,220,0)" stroke-width="1.1"><circle cx="681.7" cy="196.9" r="2.6" fill="rgb(0,220,0)" stroke="none"/><path d="M681.7 196.9L707.5 179.3M707.5 179.3L716.1 189.9M704.3 181.7L708.0 186.9"/></g>
<g stroke="rgb(230,220,50)" stroke-width="1.1"><circle cx="681.7" cy="315.5" r="2.6" fill="rgb(230,220,50)" stroke="none"/><path d="M681.7 315.5L697.8 289.3"/></g>
<g stroke="rgb(160,230,50)" stroke-width="1.1"><circle cx="681.7" cy="494.7" r="2.6" fill="rgb(160,230,50)" stroke="none"/><path d="M681.7 494.7L652.3 483.0M652.3 483.0L657.7 471.5"/></g>
<g stroke="rgb(230,220,50)" stroke-width="1.1"><circle cx="681.6" cy="597.3" r="2.6" fill="rgb(230,220,50)" stroke="none"/><path d="M681.6 597.3L652.4 585.3M656.7 587.1L659.7 581.1"/></g>
<g stroke="rgb(230,220,50)" stroke-width="1.1"><circle cx="681.6" cy="627.9" r="2.6" fill="rgb(230,220,50)" stroke="none"/><path d="M681.6 627.9L651.1 619.3M655.3 620.4L657.5 614.2"/></g>
<g stroke="rgb(230,220,50)" stroke-width="1.1"><circle cx="681.6" cy="642.4" r="2.6" fill="rgb(230,220,50)" stroke="none"/><path d="M681.6 642.4L650.2 636.3M655.3 637.4L656.5 631.1"/></g>
<g stroke="rgb(230,220,50)" stroke-width="1.1"><circle cx="681.7" cy="683.8" r="2.6" fill="rgb(230,220,50)" stroke="none"/><path d="M681.7 683.8L655.0 700.6M658.7 698.1L655.2 693.2"/></g>
<g stroke="rgb(230,220,50)" stroke-width="1.1"><circle cx="681.7" cy="690.7" r="2.6" fill="rgb(230,220,50)" stroke="none"/><path d="M681.7 690.7L657.2 710.8M660.7 707.4L656.1 702.2"/></g>
<defs><clipPath id="hc"><rect x="727.0" y="44.0" width="183.0" height="172.0"/></clipPath></defs>
<g clip-path="url(#hc)">
<ellipse cx="818.4" cy="130.4" rx="30.4" ry="28.6" stroke="rgb(170,170,170)" stroke-width="1.2"/>
<ellipse cx="818.4" cy="130.4" rx="60.7" ry="57.2" stroke="rgb(170,170,170)" stroke-width="1.2"/>
<ellipse cx="818.4" cy="130.4" rx="91.1" ry="85.8" stroke="rgb(170,170,170)" stroke-width="1.2"/>
</g>
<path d="M-7.0 -6.1L-6.1 -6.5L-4.7 -7.6L-4.7 0.0M6.1 -7.6L1.6 -7.6L1.1 -4.3L1.6 -4.7L2.9 -5.0L4.3 -5.0L5.6 -4.7L6.5 -4.0L7.0 -2.9L7.0 -2.2L6.5 -1.1L5.6 -0.4L4.3 0.0L2.9 0.0L1.6 -0.4L1.1 -0.7L0.7 -1.4" stroke="rgb(170,170,170)" stroke-width="1" transform="translate(797.5 150.8) rotate(-45) translate(0 3.8)"/>
<path d="M-6.8 -7.6L-1.8 -7.6L-4.5 -4.7L-3.1 -4.7L-2.2 -4.3L-1.8 -4.0L-1.4 -2.9L-1.4 -2.2L-1.8 -1.1L-2.7 -0.4L-4.0 0.0L-5.4 0.0L-6.8 -0.4L-7.2 -0.7L-7.7 -1.4M4.0 -7.6L2.7 -7.2L1.8 -6.1L1.4 -4.3L1.4 -3.2L1.8 -1.4L2.7 -0.4L4.0 0.0L5.0 0.0L6.3 -0.4L7.2 -1.4L7.7 -3.2L7.7 -4.3L7.2 -6.1L6.3 -7.2L5.0 -7.6L4.0 -7.6" stroke="rgb(170,170,170)" stroke-width="1" transform="translate(775.1 171.3) rotate(-45) translate(0 3.8)"/>
<path d="M-3.1 -7.6L-7.7 -2.5L-0.9 -2.5M-3.1 -7.6L-3.1 0.0M6.8 -7.6L2.2 -7.6L1.8 -4.3L2.2 -4.7L3.6 -5.0L5.0 -5.0L6.3 -4.7L7.2 -4.0L7.7 -2.9L7.7 -2.2L7.2 -1.1L6.3 -0.4L5.0 0.0L3.6 0.0L2.2 -0.4L1.8 -0.7L1.4 -1.4" stroke="rgb(170,170,170)" stroke-width="1" transform="translate(755.0 190.4) rotate(-45) translate(0 3.8)"/>
<path d="M727.0 130.5H910.0M818.5 44.0V216.0M727.5 127.5V133.5M815.5 44.5H821.5M737.5 127.5V133.5M815.5 54.5H821.5M747.5 127.5V133.5M815.5 63.5H821.5M757.5 127.5V133.5M815.5 73.5H821.5M767.5 127.5V133.5M815.5 82.5H821.5M777.5 127.5V133.5M815.5 92.5H821.5M788.5 127.5V133.5M815.5 101.5H821.5M798.5 127.5V133.5M815.5 111.5H821.5M808.5 127.5V133.5M815.5 120.5H821.5M828.5 127.5V133.5M815.5 139.5H821.5M838.5 127.5V133.5M815.5 149.5H821.5M848.5 127.5V133.5M815.5 159.5H821.5M858.5 127.5V133.5M815.5 168.5H821.5M869.5 127.5V133.5M815.5 178.5H821.5M879.5 127.5V133.5M815.5 187.5H821.5M889.5 127.5V133.5M815.5 197.5H821.5M899.5 127.5V133.5M815.5 206.5H821.5M909.5 127.5V133.5M815.5 216.5H821.5" stroke="#000" stroke-width="1" stroke-linecap="butt"/>
<rect x="727.0" y="44.0" width="183.0" height="172.0" stroke="#000" stroke-width="2" stroke-linejoin="miter"/>
<path d="M733.4 48.8L733.4 56.8M738.1 51.5L733.4 55.3M735.3 53.8L738.6 56.8M741.9 48.8L741.9 55.3L742.3 56.4L743.3 56.8L744.2 56.8M740.4 51.5L743.7 51.5" stroke="#000" stroke-width="1.0" />
<path d="M792.4 147.7L817.5 132.2L823.4 126.3" stroke="#000" stroke-width="1.1"/>
<path d="M792.4 145L795.1 147.7L792.4 150.4L789.7 147.7ZM823.4 123.6L826.1 126.3L823.4 129L820.7 126.3Z" fill="#000" stroke="#000" stroke-width="0.5"/>
<path d="M814.2 126.5L818 129L822.2 129.8L818 134.6L815.2 130.5Z" fill="#000" stroke="#000" stroke-width="0.8"/>
<path d="M824.5 127.5L828.8 130M828.8 128V135.2M820 133.7L826 134M826 135.3L835.8 136.4" stroke="#000" stroke-width="1.1"/>
<path d="M727.5 233.5H927.5V703.5H727.5ZM727.5 301.5H927.5M727.5 458.5H927.5M727.5 591.5H927.5" stroke="#000" stroke-width="1" stroke-linejoin="miter" stroke-linecap="square"/>
<path d="M733.6 242.2L733.6 252.4M741.7 242.2L733.6 249.0M736.5 246.6L741.7 252.4" stroke="#000" stroke-width="1.0" />
<path d="M876.5 244.2L877.6 243.7L879.3 242.2L879.3 252.4M886.8 244.6L886.8 244.2L887.4 243.2L888.0 242.7L889.1 242.2L891.4 242.2L892.6 242.7L893.2 243.2L893.7 244.2L893.7 245.1L893.2 246.1L892.0 247.6L886.2 252.4L894.3 252.4" stroke="#000" stroke-width="1.0" />
<path d="M737.6 264.0L737.6 274.2M733.6 264.0L741.7 264.0M746.8 267.4L745.7 267.9L744.5 268.9L744.0 270.3L744.0 271.3L744.5 272.7L745.7 273.7L746.8 274.2L748.6 274.2L749.7 273.7L750.9 272.7L751.5 271.3L751.5 270.3L750.9 268.9L749.7 267.9L748.6 267.4L746.8 267.4M756.1 264.0L756.1 272.3L756.6 273.7L757.8 274.2L758.9 274.2M754.3 267.4L758.4 267.4M768.7 267.4L768.7 274.2M768.7 268.9L767.6 267.9L766.4 267.4L764.7 267.4L763.6 267.9L762.4 268.9L761.8 270.3L761.8 271.3L762.4 272.7L763.6 273.7L764.7 274.2L766.4 274.2L767.6 273.7L768.7 272.7M773.3 264.0L773.3 274.2M783.7 268.9L783.1 267.9L781.4 267.4L779.7 267.4L778.0 267.9L777.4 268.9L778.0 269.8L779.1 270.3L782.0 270.8L783.1 271.3L783.7 272.3L783.7 272.7L783.1 273.7L781.4 274.2L779.7 274.2L778.0 273.7L777.4 272.7M799.3 264.0L799.3 274.2M795.2 264.0L803.3 264.0M808.5 267.4L807.3 267.9L806.2 268.9L805.6 270.3L805.6 271.3L806.2 272.7L807.3 273.7L808.5 274.2L810.2 274.2L811.4 273.7L812.5 272.7L813.1 271.3L813.1 270.3L812.5 268.9L811.4 267.9L810.2 267.4L808.5 267.4M817.7 264.0L817.7 272.3L818.3 273.7L819.4 274.2L820.6 274.2M816.0 267.4L820.0 267.4M830.4 267.4L830.4 274.2M830.4 268.9L829.2 267.9L828.1 267.4L826.3 267.4L825.2 267.9L824.0 268.9L823.5 270.3L823.5 271.3L824.0 272.7L825.2 273.7L826.3 274.2L828.1 274.2L829.2 273.7L830.4 272.7M835.0 264.0L835.0 274.2M845.3 268.9L844.8 267.9L843.0 267.4L841.3 267.4L839.6 267.9L839.0 268.9L839.6 269.8L840.7 270.3L843.6 270.8L844.8 271.3L845.3 272.3L845.3 272.7L844.8 273.7L843.0 274.2L841.3 274.2L839.6 273.7L839.0 272.7" stroke="#000" stroke-width="1.0" />
<path d="M875.9 264.0L882.2 264.0L878.8 267.9L880.5 267.9L881.6 268.4L882.2 268.9L882.8 270.3L882.8 271.3L882.2 272.7L881.1 273.7L879.3 274.2L877.6 274.2L875.9 273.7L875.3 273.2L874.7 272.3M893.2 264.0L887.4 264.0L886.8 268.4L887.4 267.9L889.1 267.4L890.9 267.4L892.6 267.9L893.7 268.9L894.3 270.3L894.3 271.3L893.7 272.7L892.6 273.7L890.9 274.2L889.1 274.2L887.4 273.7L886.8 273.2L886.2 272.3" stroke="#000" stroke-width="1.0" />
<path d="M733.6 285.5L733.6 295.7M733.6 285.5L738.8 285.5L740.5 286.0L741.1 286.5L741.7 287.5L741.7 288.9L741.1 289.9L740.5 290.4L738.8 290.8L733.6 290.8M744.5 285.5L747.4 295.7M750.3 285.5L747.4 295.7M750.3 285.5L753.2 295.7M756.1 285.5L753.2 295.7M772.8 283.6L771.6 284.5L770.5 286.0L769.3 287.9L768.7 290.4L768.7 292.3L769.3 294.7L770.5 296.7L771.6 298.1L772.8 299.1M783.1 290.4L782.0 289.4L780.8 288.9L779.1 288.9L778.0 289.4L776.8 290.4L776.2 291.8L776.2 292.8L776.8 294.2L778.0 295.2L779.1 295.7L780.8 295.7L782.0 295.2L783.1 294.2M787.2 288.9L787.2 295.7M787.2 290.8L788.9 289.4L790.0 288.9L791.8 288.9L792.9 289.4L793.5 290.8L793.5 295.7M793.5 290.8L795.2 289.4L796.4 288.9L798.1 288.9L799.3 289.4L799.8 290.8L799.8 295.7M803.9 283.6L805.0 284.5L806.2 286.0L807.3 287.9L807.9 290.4L807.9 292.3L807.3 294.7L806.2 296.7L805.0 298.1L803.9 299.1" stroke="#000" stroke-width="1.0" />
<path d="M876.5 287.5L877.6 287.0L879.3 285.5L879.3 295.7M887.4 294.7L886.8 295.2L887.4 295.7L888.0 295.2L887.4 294.7M899.5 287.0L898.9 286.0L897.2 285.5L896.0 285.5L894.3 286.0L893.2 287.5L892.6 289.9L892.6 292.3L893.2 294.2L894.3 295.2L896.0 295.7L896.6 295.7L898.3 295.2L899.5 294.2L900.1 292.8L900.1 292.3L899.5 290.8L898.3 289.9L896.6 289.4L896.0 289.4L894.3 289.9L893.2 290.8L892.6 292.3" stroke="#000" stroke-width="1.0" />
<path d="M737.6 332.1L737.6 342.3M733.6 332.1L741.7 332.1M744.0 338.4L750.9 338.4L750.9 337.4L750.3 336.5L749.7 336.0L748.6 335.5L746.8 335.5L745.7 336.0L744.5 337.0L744.0 338.4L744.0 339.4L744.5 340.8L745.7 341.8L746.8 342.3L748.6 342.3L749.7 341.8L750.9 340.8M754.9 335.5L754.9 342.3M754.9 337.4L756.6 336.0L757.8 335.5L759.5 335.5L760.7 336.0L761.2 337.4L761.2 342.3M761.2 337.4L763.0 336.0L764.1 335.5L765.9 335.5L767.0 336.0L767.6 337.4L767.6 342.3M772.2 335.5L772.2 345.7M772.2 337.0L773.3 336.0L774.5 335.5L776.2 335.5L777.4 336.0L778.5 337.0L779.1 338.4L779.1 339.4L778.5 340.8L777.4 341.8L776.2 342.3L774.5 342.3L773.3 341.8L772.2 340.8M796.4 330.2L795.2 331.1L794.1 332.6L792.9 334.5L792.4 337.0L792.4 338.9L792.9 341.3L794.1 343.3L795.2 344.7L796.4 345.7M801.6 332.1L800.4 332.6L799.8 333.6L799.8 334.5L800.4 335.5L801.6 336.0L802.7 336.0L803.9 335.5L804.4 334.5L804.4 333.6L803.9 332.6L802.7 332.1L801.6 332.1M816.5 334.5L816.0 333.6L814.8 332.6L813.7 332.1L811.4 332.1L810.2 332.6L809.1 333.6L808.5 334.5L807.9 336.0L807.9 338.4L808.5 339.9L809.1 340.8L810.2 341.8L811.4 342.3L813.7 342.3L814.8 341.8L816.0 340.8L816.5 339.9M820.0 330.2L821.2 331.1L822.3 332.6L823.5 334.5L824.0 337.0L824.0 338.9L823.5 341.3L822.3 343.3L821.2 344.7L820.0 345.7" stroke="#000" stroke-width="1.0" />
<path d="M882.2 335.5L881.6 337.0L880.5 337.9L878.8 338.4L878.2 338.4L876.5 337.9L875.3 337.0L874.7 335.5L874.7 335.0L875.3 333.6L876.5 332.6L878.2 332.1L878.8 332.1L880.5 332.6L881.6 333.6L882.2 335.5L882.2 337.9L881.6 340.4L880.5 341.8L878.8 342.3L877.6 342.3L875.9 341.8L875.3 340.8" stroke="#000" stroke-width="1.0" />
<path d="M733.6 353.9L733.6 364.1M733.6 353.9L737.6 353.9L739.4 354.4L740.5 355.4L741.1 356.3L741.7 357.8L741.7 360.2L741.1 361.7L740.5 362.6L739.4 363.6L737.6 364.1L733.6 364.1M745.1 360.2L752.0 360.2L752.0 359.2L751.5 358.3L750.9 357.8L749.7 357.3L748.0 357.3L746.8 357.8L745.7 358.8L745.1 360.2L745.1 361.2L745.7 362.6L746.8 363.6L748.0 364.1L749.7 364.1L750.9 363.6L752.0 362.6M755.5 357.3L757.8 364.1M760.1 357.3L757.8 364.1M760.1 357.3L762.4 364.1M764.7 357.3L762.4 364.1M768.7 357.3L768.7 367.5M768.7 358.8L769.9 357.8L771.0 357.3L772.8 357.3L773.9 357.8L775.1 358.8L775.6 360.2L775.6 361.2L775.1 362.6L773.9 363.6L772.8 364.1L771.0 364.1L769.9 363.6L768.7 362.6M792.9 352.0L791.8 352.9L790.6 354.4L789.5 356.3L788.9 358.8L788.9 360.7L789.5 363.1L790.6 365.1L791.8 366.5L792.9 367.5M798.1 353.9L797.0 354.4L796.4 355.4L796.4 356.3L797.0 357.3L798.1 357.8L799.3 357.8L800.4 357.3L801.0 356.3L801.0 355.4L800.4 354.4L799.3 353.9L798.1 353.9M813.1 356.3L812.5 355.4L811.4 354.4L810.2 353.9L807.9 353.9L806.8 354.4L805.6 355.4L805.0 356.3L804.4 357.8L804.4 360.2L805.0 361.7L805.6 362.6L806.8 363.6L807.9 364.1L810.2 364.1L811.4 363.6L812.5 362.6L813.1 361.7M816.5 352.0L817.7 352.9L818.8 354.4L820.0 356.3L820.6 358.8L820.6 360.7L820.0 363.1L818.8 365.1L817.7 366.5L816.5 367.5" stroke="#000" stroke-width="1.0" />
<path d="M882.2 355.4L881.6 354.4L879.9 353.9L878.8 353.9L877.0 354.4L875.9 355.9L875.3 358.3L875.3 360.7L875.9 362.6L877.0 363.6L878.8 364.1L879.3 364.1L881.1 363.6L882.2 362.6L882.8 361.2L882.8 360.7L882.2 359.2L881.1 358.3L879.3 357.8L878.8 357.8L877.0 358.3L875.9 359.2L875.3 360.7M887.4 363.1L886.8 363.6L887.4 364.1L888.0 363.6L887.4 363.1M899.5 357.3L898.9 358.8L897.8 359.7L896.0 360.2L895.5 360.2L893.7 359.7L892.6 358.8L892.0 357.3L892.0 356.8L892.6 355.4L893.7 354.4L895.5 353.9L896.0 353.9L897.8 354.4L898.9 355.4L899.5 357.3L899.5 359.7L898.9 362.2L897.8 363.6L896.0 364.1L894.9 364.1L893.2 363.6L892.6 362.6" stroke="#000" stroke-width="1.0" />
<path d="M875.3 378.2L875.3 377.8L875.9 376.8L876.5 376.3L877.6 375.8L879.9 375.8L881.1 376.3L881.6 376.8L882.2 377.8L882.2 378.7L881.6 379.7L880.5 381.1L874.7 386.0L882.8 386.0M893.7 379.2L893.2 380.7L892.0 381.6L890.3 382.1L889.7 382.1L888.0 381.6L886.8 380.7L886.2 379.2L886.2 378.7L886.8 377.3L888.0 376.3L889.7 375.8L890.3 375.8L892.0 376.3L893.2 377.3L893.7 379.2L893.7 381.6L893.2 384.1L892.0 385.5L890.3 386.0L889.1 386.0L887.4 385.5L886.8 384.5M900.6 375.8L898.9 376.3L898.3 377.3L898.3 378.2L898.9 379.2L900.1 379.7L902.4 380.2L904.1 380.7L905.3 381.6L905.8 382.6L905.8 384.1L905.3 385.0L904.7 385.5L903.0 386.0L900.6 386.0L898.9 385.5L898.3 385.0L897.8 384.1L897.8 382.6L898.3 381.6L899.5 380.7L901.2 380.2L903.5 379.7L904.7 379.2L905.3 378.2L905.3 377.3L904.7 376.3L903.0 375.8L900.6 375.8" stroke="#000" stroke-width="1.0" />
<path d="M733.6 397.2L733.6 407.4M733.6 407.4L740.5 407.4M742.8 397.2L743.4 397.7L744.0 397.2L743.4 396.7L742.8 397.2M743.4 400.6L743.4 407.4M751.5 397.2L750.3 397.2L749.2 397.7L748.6 399.2L748.6 407.4M746.8 400.6L750.9 400.6M755.5 397.2L755.5 405.5L756.1 406.9L757.2 407.4L758.4 407.4M753.8 400.6L757.8 400.6M761.2 403.5L768.2 403.5L768.2 402.5L767.6 401.6L767.0 401.1L765.9 400.6L764.1 400.6L763.0 401.1L761.8 402.1L761.2 403.5L761.2 404.5L761.8 405.9L763.0 406.9L764.1 407.4L765.9 407.4L767.0 406.9L768.2 405.9M778.5 397.2L778.5 407.4M778.5 402.1L777.4 401.1L776.2 400.6L774.5 400.6L773.3 401.1L772.2 402.1L771.6 403.5L771.6 404.5L772.2 405.9L773.3 406.9L774.5 407.4L776.2 407.4L777.4 406.9L778.5 405.9M792.4 397.2L792.4 407.4M797.0 400.6L797.0 407.4M797.0 402.5L798.7 401.1L799.8 400.6L801.6 400.6L802.7 401.1L803.3 402.5L803.3 407.4M814.2 397.2L814.2 407.4M814.2 402.1L813.1 401.1L811.9 400.6L810.2 400.6L809.1 401.1L807.9 402.1L807.3 403.5L807.3 404.5L807.9 405.9L809.1 406.9L810.2 407.4L811.9 407.4L813.1 406.9L814.2 405.9M818.3 403.5L825.2 403.5L825.2 402.5L824.6 401.6L824.0 401.1L822.9 400.6L821.2 400.6L820.0 401.1L818.8 402.1L818.3 403.5L818.3 404.5L818.8 405.9L820.0 406.9L821.2 407.4L822.9 407.4L824.0 406.9L825.2 405.9M828.6 400.6L835.0 407.4M835.0 400.6L828.6 407.4" stroke="#000" stroke-width="1.0" />
<path d="M876.5 399.2L877.6 398.7L879.3 397.2L879.3 407.4M893.7 398.7L893.2 397.7L891.4 397.2L890.3 397.2L888.6 397.7L887.4 399.2L886.8 401.6L886.8 404.0L887.4 405.9L888.6 406.9L890.3 407.4L890.9 407.4L892.6 406.9L893.7 405.9L894.3 404.5L894.3 404.0L893.7 402.5L892.6 401.6L890.9 401.1L890.3 401.1L888.6 401.6L887.4 402.5L886.8 404.0" stroke="#000" stroke-width="1.0" />
<path d="M742.2 421.1L741.7 420.2L740.5 419.2L739.4 418.7L737.1 418.7L735.9 419.2L734.8 420.2L734.2 421.1L733.6 422.6L733.6 425.0L734.2 426.5L734.8 427.4L735.9 428.4L737.1 428.9L739.4 428.9L740.5 428.4L741.7 427.4L742.2 426.5M749.2 418.7L744.5 428.9M749.2 418.7L753.8 428.9M746.3 425.5L752.0 425.5M756.6 418.7L756.6 428.9M756.6 418.7L761.8 418.7L763.6 419.2L764.1 419.7L764.7 420.7L764.7 422.1L764.1 423.1L763.6 423.6L761.8 424.0L756.6 424.0M768.7 418.7L768.7 428.9M768.7 418.7L776.2 418.7M768.7 423.6L773.3 423.6M768.7 428.9L776.2 428.9M792.9 416.8L791.8 417.7L790.6 419.2L789.5 421.1L788.9 423.6L788.9 425.5L789.5 427.9L790.6 429.9L791.8 431.3L792.9 432.3M801.6 418.7L801.6 426.5L801.0 427.9L800.4 428.4L799.3 428.9L798.1 428.9L797.0 428.4L796.4 427.9L795.8 426.5L795.8 425.5M805.6 416.8L806.8 417.7L807.9 419.2L809.1 421.1L809.6 423.6L809.6 425.5L809.1 427.9L807.9 429.9L806.8 431.3L805.6 432.3" stroke="#000" stroke-width="1.0" />
<path d="M878.2 418.7L876.5 419.2L875.3 420.7L874.7 423.1L874.7 424.5L875.3 427.0L876.5 428.4L878.2 428.9L879.3 428.9L881.1 428.4L882.2 427.0L882.8 424.5L882.8 423.1L882.2 420.7L881.1 419.2L879.3 418.7L878.2 418.7" stroke="#000" stroke-width="1.0" />
<path d="M742.2 442.6L741.7 441.7L740.5 440.7L739.4 440.2L737.1 440.2L735.9 440.7L734.8 441.7L734.2 442.6L733.6 444.1L733.6 446.5L734.2 448.0L734.8 448.9L735.9 449.9L737.1 450.4L739.4 450.4L740.5 449.9L741.7 448.9L742.2 448.0M746.3 440.2L746.3 450.4M750.9 440.2L750.9 450.4M750.9 440.2L758.9 450.4M758.9 440.2L758.9 450.4M776.8 438.3L775.6 439.2L774.5 440.7L773.3 442.6L772.8 445.1L772.8 447.0L773.3 449.4L774.5 451.4L775.6 452.8L776.8 453.8M785.4 440.2L785.4 448.0L784.9 449.4L784.3 449.9L783.1 450.4L782.0 450.4L780.8 449.9L780.3 449.4L779.7 448.0L779.7 447.0M789.5 438.3L790.6 439.2L791.8 440.7L792.9 442.6L793.5 445.1L793.5 447.0L792.9 449.4L791.8 451.4L790.6 452.8L789.5 453.8" stroke="#000" stroke-width="1.0" />
<path d="M878.2 440.2L876.5 440.7L875.3 442.2L874.7 444.6L874.7 446.0L875.3 448.5L876.5 449.9L878.2 450.4L879.3 450.4L881.1 449.9L882.2 448.5L882.8 446.0L882.8 444.6L882.2 442.2L881.1 440.7L879.3 440.2L878.2 440.2" stroke="#000" stroke-width="1.0" />
<path d="M733.6 487.6L733.6 497.8M733.6 487.6L738.8 487.6L740.5 488.1L741.1 488.6L741.7 489.6L741.7 491.0L741.1 492.0L740.5 492.5L738.8 492.9L733.6 492.9M745.7 491.0L745.7 497.8M745.7 493.9L746.3 492.5L747.4 491.5L748.6 491.0L750.3 491.0M752.6 493.9L759.5 493.9L759.5 492.9L758.9 492.0L758.4 491.5L757.2 491.0L755.5 491.0L754.3 491.5L753.2 492.5L752.6 493.9L752.6 494.9L753.2 496.3L754.3 497.3L755.5 497.8L757.2 497.8L758.4 497.3L759.5 496.3M769.3 492.5L768.7 491.5L767.0 491.0L765.3 491.0L763.6 491.5L763.0 492.5L763.6 493.4L764.7 493.9L767.6 494.4L768.7 494.9L769.3 495.9L769.3 496.3L768.7 497.3L767.0 497.8L765.3 497.8L763.6 497.3L763.0 496.3M779.1 492.5L778.5 491.5L776.8 491.0L775.1 491.0L773.3 491.5L772.8 492.5L773.3 493.4L774.5 493.9L777.4 494.4L778.5 494.9L779.1 495.9L779.1 496.3L778.5 497.3L776.8 497.8L775.1 497.8L773.3 497.3L772.8 496.3M783.1 491.0L783.1 495.9L783.7 497.3L784.9 497.8L786.6 497.8L787.7 497.3L789.5 495.9M789.5 491.0L789.5 497.8M794.1 491.0L794.1 497.8M794.1 493.9L794.7 492.5L795.8 491.5L797.0 491.0L798.7 491.0M801.0 493.9L807.9 493.9L807.9 492.9L807.3 492.0L806.8 491.5L805.6 491.0L803.9 491.0L802.7 491.5L801.6 492.5L801.0 493.9L801.0 494.9L801.6 496.3L802.7 497.3L803.9 497.8L805.6 497.8L806.8 497.3L807.9 496.3M825.2 485.7L824.0 486.6L822.9 488.1L821.7 490.0L821.2 492.5L821.2 494.4L821.7 496.8L822.9 498.8L824.0 500.2L825.2 501.2M829.2 491.0L829.2 497.8M829.2 492.9L830.9 491.5L832.1 491.0L833.8 491.0L835.0 491.5L835.6 492.9L835.6 497.8M835.6 492.9L837.3 491.5L838.4 491.0L840.2 491.0L841.3 491.5L841.9 492.9L841.9 497.8M846.5 487.6L846.5 497.8M846.5 492.5L847.6 491.5L848.8 491.0L850.5 491.0L851.7 491.5L852.8 492.5L853.4 493.9L853.4 494.9L852.8 496.3L851.7 497.3L850.5 497.8L848.8 497.8L847.6 497.3L846.5 496.3M856.9 485.7L858.0 486.6L859.2 488.1L860.3 490.0L860.9 492.5L860.9 494.4L860.3 496.8L859.2 498.8L858.0 500.2L856.9 501.2" stroke="#000" stroke-width="1.0" />
<path d="M877.6 487.6L875.9 488.1L875.3 489.1L875.3 490.0L875.9 491.0L877.0 491.5L879.3 492.0L881.1 492.5L882.2 493.4L882.8 494.4L882.8 495.9L882.2 496.8L881.6 497.3L879.9 497.8L877.6 497.8L875.9 497.3L875.3 496.8L874.7 495.9L874.7 494.4L875.3 493.4L876.5 492.5L878.2 492.0L880.5 491.5L881.6 491.0L882.2 490.0L882.2 489.1L881.6 488.1L879.9 487.6L877.6 487.6M893.2 487.6L887.4 487.6L886.8 492.0L887.4 491.5L889.1 491.0L890.9 491.0L892.6 491.5L893.7 492.5L894.3 493.9L894.3 494.9L893.7 496.3L892.6 497.3L890.9 497.8L889.1 497.8L887.4 497.3L886.8 496.8L886.2 495.9M901.2 487.6L899.5 488.1L898.3 489.6L897.8 492.0L897.8 493.4L898.3 495.9L899.5 497.3L901.2 497.8L902.4 497.8L904.1 497.3L905.3 495.9L905.8 493.4L905.8 492.0L905.3 489.6L904.1 488.1L902.4 487.6L901.2 487.6" stroke="#000" stroke-width="1.0" />
<path d="M875.9 509.0L882.2 509.0L878.8 512.9L880.5 512.9L881.6 513.4L882.2 513.9L882.8 515.3L882.8 516.3L882.2 517.7L881.1 518.7L879.3 519.2L877.6 519.2L875.9 518.7L875.3 518.2L874.7 517.3M889.7 509.0L888.0 509.5L886.8 511.0L886.2 513.4L886.2 514.8L886.8 517.3L888.0 518.7L889.7 519.2L890.9 519.2L892.6 518.7L893.7 517.3L894.3 514.8L894.3 513.4L893.7 511.0L892.6 509.5L890.9 509.0L889.7 509.0M898.9 509.0L905.3 509.0L901.8 512.9L903.5 512.9L904.7 513.4L905.3 513.9L905.8 515.3L905.8 516.3L905.3 517.7L904.1 518.7L902.4 519.2L900.6 519.2L898.9 518.7L898.3 518.2L897.8 517.3" stroke="#000" stroke-width="1.0" />
<path d="M733.6 530.4L733.6 540.6M733.6 540.6L740.5 540.6M742.8 530.4L743.4 530.9L744.0 530.4L743.4 529.9L742.8 530.4M743.4 533.8L743.4 540.6M751.5 530.4L750.3 530.4L749.2 530.9L748.6 532.4L748.6 540.6M746.8 533.8L750.9 533.8M755.5 530.4L755.5 538.7L756.1 540.1L757.2 540.6L758.4 540.6M753.8 533.8L757.8 533.8M761.2 536.7L768.2 536.7L768.2 535.8L767.6 534.8L767.0 534.3L765.9 533.8L764.1 533.8L763.0 534.3L761.8 535.3L761.2 536.7L761.2 537.7L761.8 539.1L763.0 540.1L764.1 540.6L765.9 540.6L767.0 540.1L768.2 539.1M778.5 530.4L778.5 540.6M778.5 535.3L777.4 534.3L776.2 533.8L774.5 533.8L773.3 534.3L772.2 535.3L771.6 536.7L771.6 537.7L772.2 539.1L773.3 540.1L774.5 540.6L776.2 540.6L777.4 540.1L778.5 539.1M792.4 530.4L792.4 540.6M797.0 533.8L797.0 540.6M797.0 535.8L798.7 534.3L799.8 533.8L801.6 533.8L802.7 534.3L803.3 535.8L803.3 540.6M814.2 530.4L814.2 540.6M814.2 535.3L813.1 534.3L811.9 533.8L810.2 533.8L809.1 534.3L807.9 535.3L807.3 536.7L807.3 537.7L807.9 539.1L809.1 540.1L810.2 540.6L811.9 540.6L813.1 540.1L814.2 539.1M818.3 536.7L825.2 536.7L825.2 535.8L824.6 534.8L824.0 534.3L822.9 533.8L821.2 533.8L820.0 534.3L818.8 535.3L818.3 536.7L818.3 537.7L818.8 539.1L820.0 540.1L821.2 540.6L822.9 540.6L824.0 540.1L825.2 539.1M828.6 533.8L835.0 540.6M835.0 533.8L828.6 540.6" stroke="#000" stroke-width="1.0" />
<path d="M876.5 532.4L877.6 531.9L879.3 530.4L879.3 540.6M888.0 532.4L889.1 531.9L890.9 530.4L890.9 540.6" stroke="#000" stroke-width="1.0" />
<path d="M742.2 554.6L741.7 553.7L740.5 552.7L739.4 552.2L737.1 552.2L735.9 552.7L734.8 553.7L734.2 554.6L733.6 556.1L733.6 558.5L734.2 560.0L734.8 560.9L735.9 561.9L737.1 562.4L739.4 562.4L740.5 561.9L741.7 560.9L742.2 560.0M749.2 552.2L744.5 562.4M749.2 552.2L753.8 562.4M746.3 559.0L752.0 559.0M756.6 552.2L756.6 562.4M756.6 552.2L761.8 552.2L763.6 552.7L764.1 553.2L764.7 554.2L764.7 555.6L764.1 556.6L763.6 557.1L761.8 557.5L756.6 557.5M768.7 552.2L768.7 562.4M768.7 552.2L776.2 552.2M768.7 557.1L773.3 557.1M768.7 562.4L776.2 562.4M792.9 550.3L791.8 551.2L790.6 552.7L789.5 554.6L788.9 557.1L788.9 559.0L789.5 561.4L790.6 563.4L791.8 564.8L792.9 565.8M801.6 552.2L801.6 560.0L801.0 561.4L800.4 561.9L799.3 562.4L798.1 562.4L797.0 561.9L796.4 561.4L795.8 560.0L795.8 559.0M805.6 550.3L806.8 551.2L807.9 552.7L809.1 554.6L809.6 557.1L809.6 559.0L809.1 561.4L807.9 563.4L806.8 564.8L805.6 565.8" stroke="#000" stroke-width="1.0" />
<path d="M878.2 552.2L876.5 552.7L875.3 554.2L874.7 556.6L874.7 558.0L875.3 560.5L876.5 561.9L878.2 562.4L879.3 562.4L881.1 561.9L882.2 560.5L882.8 558.0L882.8 556.6L882.2 554.2L881.1 552.7L879.3 552.2L878.2 552.2" stroke="#000" stroke-width="1.0" />
<path d="M742.2 576.2L741.7 575.3L740.5 574.3L739.4 573.8L737.1 573.8L735.9 574.3L734.8 575.3L734.2 576.2L733.6 577.7L733.6 580.1L734.2 581.6L734.8 582.5L735.9 583.5L737.1 584.0L739.4 584.0L740.5 583.5L741.7 582.5L742.2 581.6M746.3 573.8L746.3 584.0M750.9 573.8L750.9 584.0M750.9 573.8L758.9 584.0M758.9 573.8L758.9 584.0M776.8 571.9L775.6 572.8L774.5 574.3L773.3 576.2L772.8 578.7L772.8 580.6L773.3 583.0L774.5 585.0L775.6 586.4L776.8 587.4M785.4 573.8L785.4 581.6L784.9 583.0L784.3 583.5L783.1 584.0L782.0 584.0L780.8 583.5L780.3 583.0L779.7 581.6L779.7 580.6M789.5 571.9L790.6 572.8L791.8 574.3L792.9 576.2L793.5 578.7L793.5 580.6L792.9 583.0L791.8 585.0L790.6 586.4L789.5 587.4" stroke="#000" stroke-width="1.0" />
<path d="M878.2 573.8L876.5 574.3L875.3 575.8L874.7 578.2L874.7 579.6L875.3 582.1L876.5 583.5L878.2 584.0L879.3 584.0L881.1 583.5L882.2 582.1L882.8 579.6L882.8 578.2L882.2 575.8L881.1 574.3L879.3 573.8L878.2 573.8" stroke="#000" stroke-width="1.0" />
<path d="M733.6 620.9L733.6 631.1M733.6 620.9L741.1 620.9M733.6 625.8L738.2 625.8M733.6 631.1L741.1 631.1M744.5 620.9L744.5 631.1M752.6 620.9L752.6 631.1M744.5 625.8L752.6 625.8" stroke="#000" stroke-width="1.0" />
<path d="M881.6 620.9L875.9 620.9L875.3 625.3L875.9 624.8L877.6 624.3L879.3 624.3L881.1 624.8L882.2 625.8L882.8 627.2L882.8 628.2L882.2 629.6L881.1 630.6L879.3 631.1L877.6 631.1L875.9 630.6L875.3 630.1L874.7 629.2" stroke="#000" stroke-width="1.0" />
<path d="M741.7 644.2L740.5 643.2L738.8 642.7L736.5 642.7L734.8 643.2L733.6 644.2L733.6 645.1L734.2 646.1L734.8 646.6L735.9 647.1L739.4 648.0L740.5 648.5L741.1 649.0L741.7 650.0L741.7 651.4L740.5 652.4L738.8 652.9L736.5 652.9L734.8 652.4L733.6 651.4M745.7 642.7L745.7 652.9M745.7 642.7L750.9 642.7L752.6 643.2L753.2 643.7L753.8 644.7L753.8 645.6L753.2 646.6L752.6 647.1L750.9 647.6L745.7 647.6M749.7 647.6L753.8 652.9M757.8 642.7L757.8 652.9M757.8 642.7L765.3 642.7M757.8 647.6L762.4 647.6M757.8 652.9L765.3 652.9M768.7 642.7L768.7 652.9M776.8 642.7L776.8 652.9M768.7 647.6L776.8 647.6" stroke="#000" stroke-width="1.0" />
<path d="M876.5 644.7L877.6 644.2L879.3 642.7L879.3 652.9M889.7 642.7L888.0 643.2L886.8 644.7L886.2 647.1L886.2 648.5L886.8 651.0L888.0 652.4L889.7 652.9L890.9 652.9L892.6 652.4L893.7 651.0L894.3 648.5L894.3 647.1L893.7 644.7L892.6 643.2L890.9 642.7L889.7 642.7" stroke="#000" stroke-width="1.0" />
<path d="M741.7 665.8L740.5 664.8L738.8 664.3L736.5 664.3L734.8 664.8L733.6 665.8L733.6 666.7L734.2 667.7L734.8 668.2L735.9 668.7L739.4 669.6L740.5 670.1L741.1 670.6L741.7 671.6L741.7 673.0L740.5 674.0L738.8 674.5L736.5 674.5L734.8 674.0L733.6 673.0M746.3 664.3L746.3 672.6L746.8 674.0L748.0 674.5L749.2 674.5M744.5 667.7L748.6 667.7M752.6 667.7L752.6 674.5M752.6 669.6L754.3 668.2L755.5 667.7L757.2 667.7L758.4 668.2L758.9 669.6L758.9 674.5M758.9 669.6L760.7 668.2L761.8 667.7L763.6 667.7L764.7 668.2L765.3 669.6L765.3 674.5M769.9 664.3L769.9 674.5M769.9 664.3L773.9 664.3L775.6 664.8L776.8 665.8L777.4 666.7L778.0 668.2L778.0 670.6L777.4 672.1L776.8 673.0L775.6 674.0L773.9 674.5L769.9 674.5M781.4 664.3L782.0 664.8L782.6 664.3L782.0 663.8L781.4 664.3M782.0 667.7L782.0 674.5M786.6 667.7L786.6 674.5M786.6 670.6L787.2 669.2L788.3 668.2L789.5 667.7L791.2 667.7" stroke="#000" stroke-width="1.0" />
<path d="M876.5 666.3L877.6 665.8L879.3 664.3L879.3 674.5M893.7 667.7L893.2 669.2L892.0 670.1L890.3 670.6L889.7 670.6L888.0 670.1L886.8 669.2L886.2 667.7L886.2 667.2L886.8 665.8L888.0 664.8L889.7 664.3L890.3 664.3L892.0 664.8L893.2 665.8L893.7 667.7L893.7 670.1L893.2 672.6L892.0 674.0L890.3 674.5L889.1 674.5L887.4 674.0L886.8 673.0M899.5 664.3L898.3 664.8L897.8 665.8L897.8 666.7L898.3 667.7L899.5 668.2L900.6 668.2L901.8 667.7L902.4 666.7L902.4 665.8L901.8 664.8L900.6 664.3L899.5 664.3" stroke="#000" stroke-width="1.0" />
<path d="M741.7 687.3L740.5 686.3L738.8 685.8L736.5 685.8L734.8 686.3L733.6 687.3L733.6 688.2L734.2 689.2L734.8 689.7L735.9 690.2L739.4 691.1L740.5 691.6L741.1 692.1L741.7 693.1L741.7 694.5L740.5 695.5L738.8 696.0L736.5 696.0L734.8 695.5L733.6 694.5M746.3 685.8L746.3 694.1L746.8 695.5L748.0 696.0L749.2 696.0M744.5 689.2L748.6 689.2M752.6 689.2L752.6 696.0M752.6 691.1L754.3 689.7L755.5 689.2L757.2 689.2L758.4 689.7L758.9 691.1L758.9 696.0M758.9 691.1L760.7 689.7L761.8 689.2L763.6 689.2L764.7 689.7L765.3 691.1L765.3 696.0M777.4 687.3L776.2 686.3L774.5 685.8L772.2 685.8L770.5 686.3L769.3 687.3L769.3 688.2L769.9 689.2L770.5 689.7L771.6 690.2L775.1 691.1L776.2 691.6L776.8 692.1L777.4 693.1L777.4 694.5L776.2 695.5L774.5 696.0L772.2 696.0L770.5 695.5L769.3 694.5M781.4 689.2L781.4 699.4M781.4 690.7L782.6 689.7L783.7 689.2L785.4 689.2L786.6 689.7L787.7 690.7L788.3 692.1L788.3 693.1L787.7 694.5L786.6 695.5L785.4 696.0L783.7 696.0L782.6 695.5L781.4 694.5M798.7 685.8L798.7 696.0M798.7 690.7L797.5 689.7L796.4 689.2L794.7 689.2L793.5 689.7L792.4 690.7L791.8 692.1L791.8 693.1L792.4 694.5L793.5 695.5L794.7 696.0L796.4 696.0L797.5 695.5L798.7 694.5M816.5 683.9L815.4 684.8L814.2 686.3L813.1 688.2L812.5 690.7L812.5 692.6L813.1 695.0L814.2 697.0L815.4 698.4L816.5 699.4M820.6 685.8L820.6 696.0M826.3 689.2L820.6 694.1M822.9 692.1L826.9 696.0M830.9 685.8L830.9 694.1L831.5 695.5L832.7 696.0L833.8 696.0M829.2 689.2L833.2 689.2M836.7 683.9L837.9 684.8L839.0 686.3L840.2 688.2L840.7 690.7L840.7 692.6L840.2 695.0L839.0 697.0L837.9 698.4L836.7 699.4" stroke="#000" stroke-width="1.0" />
<path d="M875.3 688.2L875.3 687.8L875.9 686.8L876.5 686.3L877.6 685.8L879.9 685.8L881.1 686.3L881.6 686.8L882.2 687.8L882.2 688.7L881.6 689.7L880.5 691.1L874.7 696.0L882.8 696.0" stroke="#000" stroke-width="1.0" />
<path d="M795.5 312.5L794.3 311.5L792.6 311.0L790.3 311.0L788.6 311.5L787.4 312.5L787.4 313.4L788.0 314.4L788.6 314.9L789.7 315.4L793.2 316.3L794.3 316.8L794.9 317.3L795.5 318.3L795.5 319.7L794.3 320.7L792.6 321.2L790.3 321.2L788.6 320.7L787.4 319.7M799.5 314.4L799.5 319.3L800.1 320.7L801.2 321.2L803.0 321.2L804.1 320.7L805.8 319.3M805.8 314.4L805.8 321.2M810.4 314.4L810.4 321.2M810.4 317.3L811.0 315.9L812.2 314.9L813.3 314.4L815.0 314.4M821.4 311.0L820.2 311.0L819.1 311.5L818.5 313.0L818.5 321.2M816.8 314.4L820.8 314.4M831.2 314.4L831.2 321.2M831.2 315.9L830.0 314.9L828.9 314.4L827.1 314.4L826.0 314.9L824.8 315.9L824.3 317.3L824.3 318.3L824.8 319.7L826.0 320.7L827.1 321.2L828.9 321.2L830.0 320.7L831.2 319.7M842.1 315.9L841.0 314.9L839.8 314.4L838.1 314.4L836.9 314.9L835.8 315.9L835.2 317.3L835.2 318.3L835.8 319.7L836.9 320.7L838.1 321.2L839.8 321.2L841.0 320.7L842.1 319.7M845.6 317.3L852.5 317.3L852.5 316.3L851.9 315.4L851.3 314.9L850.2 314.4L848.5 314.4L847.3 314.9L846.2 315.9L845.6 317.3L845.6 318.3L846.2 319.7L847.3 320.7L848.5 321.2L850.2 321.2L851.3 320.7L852.5 319.7" stroke="#000" stroke-width="1.0" />
<path d="M753.4 466.0L753.4 476.2M753.4 466.0L758.0 476.2M762.6 466.0L758.0 476.2M762.6 466.0L762.6 476.2M769.5 469.4L768.4 469.9L767.2 470.9L766.6 472.3L766.6 473.3L767.2 474.7L768.4 475.7L769.5 476.2L771.3 476.2L772.4 475.7L773.6 474.7L774.1 473.3L774.1 472.3L773.6 470.9L772.4 469.9L771.3 469.4L769.5 469.4M783.9 470.9L783.4 469.9L781.6 469.4L779.9 469.4L778.2 469.9L777.6 470.9L778.2 471.8L779.3 472.3L782.2 472.8L783.4 473.3L783.9 474.3L783.9 474.7L783.4 475.7L781.6 476.2L779.9 476.2L778.2 475.7L777.6 474.7M788.5 466.0L788.5 474.3L789.1 475.7L790.3 476.2L791.4 476.2M786.8 469.4L790.8 469.4M804.1 466.0L804.1 473.3L804.7 474.7L805.8 475.7L807.5 476.2L808.7 476.2L810.4 475.7L811.6 474.7L812.2 473.3L812.2 466.0M816.8 469.4L816.8 476.2M816.8 471.3L818.5 469.9L819.6 469.4L821.4 469.4L822.5 469.9L823.1 471.3L823.1 476.2M833.5 470.9L832.9 469.9L831.2 469.4L829.4 469.4L827.7 469.9L827.1 470.9L827.7 471.8L828.9 472.3L831.7 472.8L832.9 473.3L833.5 474.3L833.5 474.7L832.9 475.7L831.2 476.2L829.4 476.2L827.7 475.7L827.1 474.7M838.1 466.0L838.1 474.3L838.6 475.7L839.8 476.2L841.0 476.2M836.3 469.4L840.4 469.4M850.7 469.4L850.7 476.2M850.7 470.9L849.6 469.9L848.4 469.4L846.7 469.4L845.6 469.9L844.4 470.9L843.8 472.3L843.8 473.3L844.4 474.7L845.6 475.7L846.7 476.2L848.4 476.2L849.6 475.7L850.7 474.7M855.4 466.0L855.4 476.2M855.4 470.9L856.5 469.9L857.7 469.4L859.4 469.4L860.5 469.9L861.7 470.9L862.3 472.3L862.3 473.3L861.7 474.7L860.5 475.7L859.4 476.2L857.7 476.2L856.5 475.7L855.4 474.7M866.3 466.0L866.3 476.2M870.3 472.3L877.2 472.3L877.2 471.3L876.7 470.4L876.1 469.9L874.9 469.4L873.2 469.4L872.1 469.9L870.9 470.9L870.3 472.3L870.3 473.3L870.9 474.7L872.1 475.7L873.2 476.2L874.9 476.2L876.1 475.7L877.2 474.7" stroke="#000" stroke-width="1.0" />
<path d="M771.9 599.4L771.9 609.6M780.0 599.4L780.0 609.6M771.9 604.3L780.0 604.3M786.9 602.8L785.7 603.3L784.6 604.3L784.0 605.7L784.0 606.7L784.6 608.1L785.7 609.1L786.9 609.6L788.6 609.6L789.8 609.1L790.9 608.1L791.5 606.7L791.5 605.7L790.9 604.3L789.8 603.3L788.6 602.8L786.9 602.8M801.9 599.4L801.9 609.6M801.9 604.3L800.7 603.3L799.5 602.8L797.8 602.8L796.7 603.3L795.5 604.3L794.9 605.7L794.9 606.7L795.5 608.1L796.7 609.1L797.8 609.6L799.5 609.6L800.7 609.1L801.9 608.1M808.8 602.8L807.6 603.3L806.5 604.3L805.9 605.7L805.9 606.7L806.5 608.1L807.6 609.1L808.8 609.6L810.5 609.6L811.6 609.1L812.8 608.1L813.4 606.7L813.4 605.7L812.8 604.3L811.6 603.3L810.5 602.8L808.8 602.8M823.7 602.8L823.7 610.6L823.2 612.0L822.6 612.5L821.4 613.0L819.7 613.0L818.6 612.5M823.7 604.3L822.6 603.3L821.4 602.8L819.7 602.8L818.6 603.3L817.4 604.3L816.8 605.7L816.8 606.7L817.4 608.1L818.6 609.1L819.7 609.6L821.4 609.6L822.6 609.1L823.7 608.1M828.3 602.8L828.3 609.6M828.3 605.7L828.9 604.3L830.1 603.3L831.2 602.8L833.0 602.8M842.2 602.8L842.2 609.6M842.2 604.3L841.0 603.3L839.9 602.8L838.1 602.8L837.0 603.3L835.8 604.3L835.3 605.7L835.3 606.7L835.8 608.1L837.0 609.1L838.1 609.6L839.9 609.6L841.0 609.1L842.2 608.1M846.8 602.8L846.8 613.0M846.8 604.3L847.9 603.3L849.1 602.8L850.8 602.8L852.0 603.3L853.1 604.3L853.7 605.7L853.7 606.7L853.1 608.1L852.0 609.1L850.8 609.6L849.1 609.6L847.9 609.1L846.8 608.1M857.7 599.4L857.7 609.6M857.7 604.8L859.5 603.3L860.6 602.8L862.3 602.8L863.5 603.3L864.1 604.8L864.1 609.6" stroke="#000" stroke-width="1.0" />
<g stroke="#000" stroke-width="1.7"><ellipse cx="0" cy="0" rx="2.9" ry="4.9" transform="translate(737.5 381.0) skewX(-18)"/><path d="M734.8 381.0H740.4"/></g>
<path d="M746.9 382.7H743.6V387.5H747.1M743.6 385.1H746.2" stroke="#000" stroke-width="1.2" stroke-linecap="butt" stroke-linejoin="miter"/>
<path d="M754.4 373.9L753.3 374.8L752.1 376.3L751.0 378.2L750.4 380.7L750.4 382.6L751.0 385.0L752.1 387.0L753.3 388.4L754.4 389.4M758.5 375.8L758.5 386.0M766.5 375.8L758.5 382.6M761.3 380.2L766.5 386.0M770.0 373.9L771.1 374.8L772.3 376.3L773.4 378.2L774.0 380.7L774.0 382.6L773.4 385.0L772.3 387.0L771.1 388.4L770.0 389.4" stroke="#000" stroke-width="1.0" />
<g stroke="#000" stroke-width="1.7"><ellipse cx="0" cy="0" rx="2.9" ry="4.9" transform="translate(737.5 514.2) skewX(-18)"/><path d="M734.8 514.2H740.4"/></g>
<path d="M746.9 515.9H743.6V520.7H747.1M743.6 518.3H746.2" stroke="#000" stroke-width="1.2" stroke-linecap="butt" stroke-linejoin="miter"/>
<path d="M764.5 507.1L763.4 508.0L762.2 509.5L761.1 511.4L760.5 513.9L760.5 515.8L761.1 518.2L762.2 520.2L763.4 521.6L764.5 522.6M768.6 509.0L768.6 519.2M776.6 509.0L768.6 515.8M771.4 513.4L776.6 519.2M780.1 507.1L781.2 508.0L782.4 509.5L783.5 511.4L784.1 513.9L784.1 515.8L783.5 518.2L782.4 520.2L781.2 521.6L780.1 522.6" stroke="#000" stroke-width="1.0" />
<ellipse cx="723.8" cy="722.6" rx="8.3" ry="6.2" stroke="#000" stroke-width="1.4"/>
<path d="M727.2 721.3L726.1 720.4L725.0 720.0L723.4 720.0L722.2 720.4L721.1 721.3L720.6 722.5L720.6 723.4L721.1 724.6L722.2 725.5L723.4 725.9L725.0 725.9L726.1 725.5L727.2 724.6" stroke="#000" stroke-width="1.0" />
<path d="M739.6 720.0L742.2 726.7M744.8 720.0L742.2 726.7M744.8 720.0L747.4 726.7M750.0 720.0L747.4 726.7M754.8 722.9L762.6 722.9L762.6 721.9L762.0 720.9L761.3 720.5L760.0 720.0L758.1 720.0L756.8 720.5L755.5 721.4L754.8 722.9L754.8 723.8L755.5 725.3L756.8 726.2L758.1 726.7L760.0 726.7L761.3 726.2L762.6 725.3M775.2 720.0L775.2 726.7M775.2 721.4L773.9 720.5L772.6 720.0L770.6 720.0L769.3 720.5L768.0 721.4L767.4 722.9L767.4 723.8L768.0 725.3L769.3 726.2L770.6 726.7L772.6 726.7L773.9 726.2L775.2 725.3M781.7 716.6L781.7 724.8L782.4 726.2L783.7 726.7L785.0 726.7M779.8 720.0L784.3 720.0M789.6 716.6L789.6 726.7M789.6 721.9L791.6 720.5L792.9 720.0L794.8 720.0L796.1 720.5L796.8 721.9L796.8 726.7M802.2 722.9L810.0 722.9L810.0 721.9L809.3 720.9L808.7 720.5L807.4 720.0L805.4 720.0L804.1 720.5L802.8 721.4L802.2 722.9L802.2 723.8L802.8 725.3L804.1 726.2L805.4 726.7L807.4 726.7L808.7 726.2L810.0 725.3M815.2 720.0L815.2 726.7M815.2 722.9L815.9 721.4L817.2 720.5L818.5 720.0L820.4 720.0M827.0 720.0L825.7 720.5L824.4 721.4L823.8 722.9L823.8 723.8L824.4 725.3L825.7 726.2L827.0 726.7L829.0 726.7L830.3 726.2L831.6 725.3L832.2 723.8L832.2 722.9L831.6 721.4L830.3 720.5L829.0 720.0L827.0 720.0M837.7 720.0L837.7 726.7M837.7 721.9L839.6 720.5L840.9 720.0L842.9 720.0L844.2 720.5L844.8 721.9L844.8 726.7M850.6 716.6L850.6 726.7M855.6 716.6L856.2 717.1L856.9 716.6L856.2 716.1L855.6 716.6M856.2 720.0L856.2 726.7M862.0 720.0L862.0 726.7M862.0 721.9L864.0 720.5L865.3 720.0L867.2 720.0L868.5 720.5L869.2 721.9L869.2 726.7M874.6 722.9L882.4 722.9L882.4 721.9L881.7 720.9L881.1 720.5L879.8 720.0L877.8 720.0L876.5 720.5L875.2 721.4L874.6 722.9L874.6 723.8L875.2 725.3L876.5 726.2L877.8 726.7L879.8 726.7L881.1 726.2L882.4 725.3M888.2 725.7L887.6 726.2L888.2 726.7L888.9 726.2L888.2 725.7M901.9 721.4L900.6 720.5L899.3 720.0L897.3 720.0L896.0 720.5L894.7 721.4L894.1 722.9L894.1 723.8L894.7 725.3L896.0 726.2L897.3 726.7L899.3 726.7L900.6 726.2L901.9 725.3M909.9 720.0L908.6 720.5L907.3 721.4L906.6 722.9L906.6 723.8L907.3 725.3L908.6 726.2L909.9 726.7L911.8 726.7L913.1 726.2L914.4 725.3L915.1 723.8L915.1 722.9L914.4 721.4L913.1 720.5L911.8 720.0L909.9 720.0M921.0 725.7L920.3 726.2L921.0 726.7L921.6 726.2L921.0 725.7M927.5 720.0L927.5 724.8L928.1 726.2L929.4 726.7L931.4 726.7L932.7 726.2L934.6 724.8M934.6 720.0L934.6 726.7M940.7 716.6L940.7 726.7M947.2 720.0L940.7 724.8M943.3 722.9L947.8 726.7" stroke="#000" stroke-width="1.55" />
</svg>
</body></html>
